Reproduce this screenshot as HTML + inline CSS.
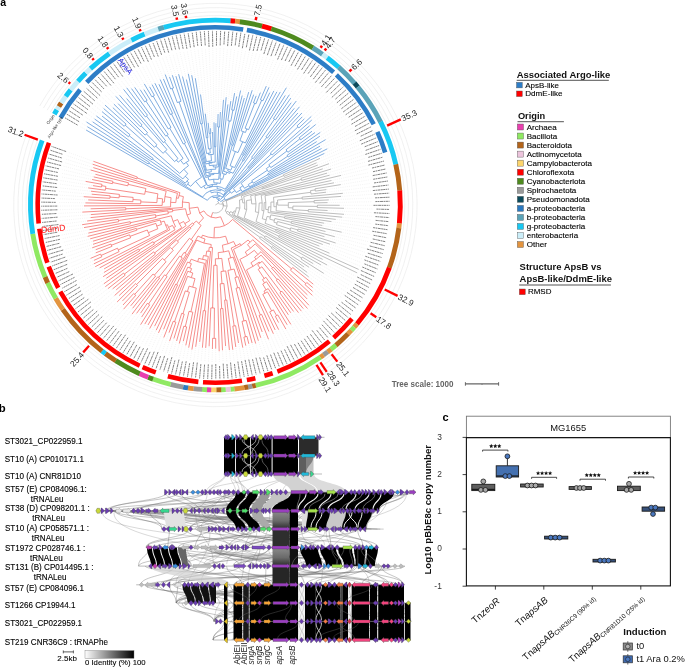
<!DOCTYPE html>
<html><head><meta charset="utf-8"><style>
html,body{margin:0;padding:0;background:#fff;width:685px;height:668px;overflow:hidden}
svg{display:block;will-change:transform}
text{font-family:"Liberation Sans",sans-serif}
</style></head><body>
<svg width="685" height="668" viewBox="0 0 685 668">
<path d="M85.2,129.5L79.6,126.3M86.5,126.2L81.4,123.1M85.7,121.5L83.4,120.0M91.8,121.3L85.4,116.9M93.8,118.4L87.5,113.9M95.6,115.4L89.7,111.0M101.2,115.4L91.9,108.0M101.2,110.9L94.2,105.2M102.9,107.8L96.6,102.4M104.3,104.4L99.0,99.6M112.1,107.0L101.5,96.9M113.2,103.4L104.1,94.3M117.4,102.9L106.7,91.7M115.3,95.7L109.4,89.2M118.9,94.6L112.1,86.8M126.0,97.7L114.9,84.4M122.9,88.6L117.7,82.1M126.1,87.0L120.6,79.8M130.9,87.8L123.6,77.6M134.1,86.6L126.6,75.5M139.7,88.9L129.6,73.5M143.4,88.7L132.7,71.5M143.8,83.1L135.9,69.6M149.2,86.0L139.1,67.8M151.6,83.8L142.3,66.1M154.5,82.3L145.6,64.4M158.5,83.3L148.9,62.8M159.8,78.6L152.2,61.3M163.1,78.0L155.6,59.8M164.8,73.6L159.0,58.5M169.2,76.0L162.4,57.2M172.0,74.3L165.9,56.0M175.6,75.1L169.4,54.9M178.4,73.2L172.9,53.9M182.3,75.6L176.5,52.9M186.2,78.5L180.0,52.0M188.1,72.8L183.6,51.3M191.5,74.2L187.2,50.5M195.2,77.2L190.8,49.9M200.4,93.5L194.5,49.4M205.2,112.7L198.1,49.0M208.1,121.8L201.8,48.6M210.5,127.3L205.4,48.3M212.4,131.0L209.1,48.1M214.0,121.3L212.8,48.0M215.9,122.2L216.4,48.0M218.2,113.0L220.1,48.1M220.4,111.0L223.8,48.2M223.6,98.8L227.4,48.5M226.3,96.2L231.1,48.8M228.0,103.4L234.7,49.2M230.9,100.1L238.4,49.7M234.8,92.1L242.0,50.3M236.9,95.4L245.6,50.9M240.9,89.5L249.2,51.7M242.5,94.5L252.8,52.5M244.6,97.0L256.3,53.4M249.0,91.1L259.9,54.4M252.5,89.2L263.4,55.5M254.0,93.7L266.8,56.7M256.5,94.8L270.3,57.9M260.7,91.7L273.7,59.2M266.6,85.1L277.1,60.6M269.4,86.4L280.5,62.1M270.3,91.7L283.8,63.7M274.4,90.0L287.1,65.3M277.3,91.0L290.3,67.0M280.8,91.1L293.5,68.8M286.9,86.8L296.7,70.7M285.8,94.5L299.8,72.6M290.0,93.8L302.9,74.6M291.4,97.3L305.9,76.7M291.8,101.9L308.9,78.9M296.9,100.2L311.8,81.1M295.0,107.5L314.7,83.4M300.1,106.0L317.5,85.7M298.6,112.3L320.2,88.1M302.6,112.3L323.0,90.6M303.0,116.1L325.6,93.2M305.1,118.1L328.2,95.8M312.0,115.7L330.7,98.4M312.5,119.4L333.2,101.2M310.3,125.1L335.6,103.9M316.5,123.9L337.9,106.8M312.8,130.6L340.1,109.7M315.8,131.9L342.3,112.6M321.1,131.8L344.5,115.6M320.8,135.6L346.5,118.7M317.6,141.1L348.5,121.7M326.5,139.1L350.4,124.9M321.0,145.6L352.3,128.1M322.5,148.0L354.0,131.3M328.2,148.3L355.7,134.5M325.3,153.0L357.3,137.8M320.9,158.0L358.8,141.2M317.5,162.4L360.3,144.5M318.8,164.7L361.7,147.9M329.9,163.4L363.0,151.4M323.8,168.5L364.2,154.8M332.1,168.7L365.3,158.3M328.1,172.8L366.4,161.8M330.5,175.0L367.3,165.4M342.0,175.1L368.2,168.9M332.5,180.3L369.0,172.5M335.0,182.6L369.7,176.1M341.8,184.4L370.4,179.7M327.3,189.4L370.9,183.4M327.1,192.1L371.4,187.0M343.8,193.2L371.7,190.7M342.1,196.4L372.0,194.3M329.8,199.9L372.2,198.0M328.5,202.6L372.4,201.7M340.7,205.3L372.4,205.3M345.0,208.3L372.3,209.0M328.6,210.5L372.2,212.7M345.0,214.4L372.0,216.3M343.2,217.3L371.7,220.0M336.8,219.5L371.3,223.6M332.5,221.8L370.8,227.3M325.2,223.4L370.2,230.9M323.3,225.7L369.6,234.5M342.7,232.5L368.9,238.1M326.5,231.7L368.1,241.7M335.7,236.9L367.2,245.2M325.5,237.0L366.2,248.8M336.6,243.3L365.1,252.3M331.0,244.5L364.0,255.8M323.7,244.9L362.7,259.2M320.4,246.5L361.4,262.7M330.4,253.6L360.0,266.1M359.5,269.8L358.6,269.4M357.9,273.2L357.0,272.8M323.6,259.9L355.4,276.1M327.9,265.5L353.7,279.3M321.9,265.5L351.9,282.5M314.2,264.2L350.1,285.7M324.6,274.0L348.2,288.8M309.9,267.8L346.2,291.9M305.0,267.6L344.1,294.9M308.0,273.0L342.0,297.9M309.5,277.5L339.7,300.8M314.1,284.8L337.5,303.7M313.5,288.2L335.1,306.6M313.3,292.1L332.7,309.3M313.1,296.0L330.3,312.0M308.1,295.6L327.7,314.7M307.9,299.7L325.1,317.3M309.6,306.1L322.5,319.8M308.2,309.3L319.8,322.3M303.9,309.3L317.0,324.7M302.0,312.0L314.2,327.0M299.1,313.5L311.3,329.3M294.2,312.3L308.3,331.5M291.4,313.6L305.4,333.7M289.0,315.6L302.3,335.7M291.4,325.3L299.3,337.7M287.7,325.6L296.1,339.7M286.4,329.9L293.0,341.5M279.1,323.5L289.7,343.3M279.2,330.6L286.5,345.0M275.7,330.9L283.2,346.6M273.8,334.7L279.9,348.2M269.3,332.5L276.5,349.6M268.8,340.2L273.1,351.0M262.6,333.0L269.7,352.3M261.1,338.7L266.2,353.5M258.7,341.8L262.7,354.7M256.0,344.5L259.2,355.8M252.3,344.1L255.7,356.7M249.0,344.8L252.1,357.6M246.0,346.6L248.6,358.5M243.0,348.7L245.0,359.2M238.7,344.0L241.3,359.8M235.9,348.0L237.7,360.4M232.9,350.8L234.1,360.9M229.5,351.1L230.4,361.3M225.7,347.1L226.8,361.6M222.6,351.3L223.1,361.8M219.2,352.3L219.4,361.9M215.7,349.7L215.8,362.0M212.4,350.0L212.1,362.0M209.1,347.3L208.4,361.8M205.6,348.9L204.8,361.6M202.3,348.7L201.1,361.3M199.5,342.9L197.5,361.0M195.6,347.8L193.8,360.5M191.7,350.6L190.2,360.0M188.6,348.7L186.6,359.3M185.6,346.4L183.0,358.6M183.1,342.1L179.4,357.8M179.1,344.5L175.8,356.9M176.3,341.9L172.3,356.0M173.6,339.5L168.8,354.9M169.2,342.0L165.3,353.8M168.7,333.6L161.8,352.6M163.4,338.4L158.4,351.3M163.2,330.2L155.0,349.9M158.1,333.9L151.6,348.5M155.8,331.1L148.3,346.9M154.1,327.1L145.0,345.3M149.2,329.5L141.7,343.6M147.5,325.9L138.5,341.9M144.3,325.0L135.3,340.0M140.0,325.6L132.2,338.1M141.1,318.0L129.1,336.1M140.0,313.9L126.0,334.1M136.0,314.2L123.1,332.0M131.4,315.0L120.1,329.8M132.0,309.1L117.2,327.5M130.0,306.6L114.4,325.2M122.9,309.9L111.6,322.8M122.3,305.8L108.9,320.3M121.6,301.9L106.2,317.8M116.3,302.7L103.6,315.2M118.3,296.3L101.1,312.6M113.9,296.2L98.6,309.9M115.5,290.6L96.2,307.1M111.8,289.6L93.8,304.3M107.1,289.3L91.5,301.4M104.4,287.3L89.3,298.5M103.0,284.3L87.1,295.5M105.5,278.8L85.1,292.5M102.3,277.2L83.0,289.4M103.1,273.0L81.1,286.3M103.2,269.4L79.2,283.2M98.7,268.4L77.5,280.0M94.3,267.2L75.7,276.7M92.9,264.3L74.1,273.4M93.0,260.8L72.5,270.1M89.6,258.8L71.1,266.8M94.8,253.3L69.7,263.4M94.8,250.1L68.3,259.9M91.2,248.1L67.1,256.5M92.1,244.6L65.9,253.0M91.9,241.5L64.8,249.5M89.3,239.1L63.8,246.0M86.6,236.6L62.9,242.4M87.3,233.3L62.1,238.8M88.6,229.9L61.3,235.2M83.0,227.8L60.7,231.6M81.2,224.9L60.1,228.0M86.1,221.1L59.6,224.4M89.6,217.7L59.2,220.7M89.8,214.7L58.9,217.1M81.3,212.2L58.6,213.4M89.6,208.8L58.5,209.7M83.0,205.9L58.4,206.1M84.4,202.8L58.4,202.4M87.2,199.9L58.5,198.7M82.7,196.6L58.7,195.1M90.7,194.2L59.0,191.4M89.9,191.1L59.3,187.8M87.2,187.8L59.8,184.1M92.0,185.5L60.3,180.5M84.6,181.2L60.9,176.9M91.1,179.3L61.6,173.3M92.8,176.7L62.4,169.7M94.4,174.1L63.3,166.1M89.7,169.7L64.2,162.6M92.4,167.3L65.3,159.0M91.6,163.9L66.4,155.5M92.5,161.0L67.6,152.1" stroke="#e6e6e6" stroke-width="0.5" stroke-dasharray="1 1.2" fill="none"/>
<path d="M283.3,174.8L320.0,158.4M284.0,176.4L316.6,162.8M283.3,174.8A74.3,74.3 0 0 1 284.0,176.4M222.5,201.9L283.7,175.6M226.3,200.7L317.9,165.0M262.1,188.0L329.0,163.7M262.4,189.1L322.8,168.8M262.1,188.0A49.7,49.7 0 0 1 262.4,189.1M241.3,195.9L262.3,188.6M301.0,178.3L331.1,169.0M301.6,180.4L327.1,173.1M301.0,178.3A89.7,89.7 0 0 1 301.6,180.4M243.7,196.6L301.3,179.4M250.6,195.8L329.6,175.2M255.0,195.7L341.1,175.4M261.2,195.3L331.5,180.5M265.0,195.7L334.0,182.8M315.0,188.8L340.8,184.6M315.3,191.1L326.4,189.6M315.0,188.8A100.9,100.9 0 0 1 315.3,191.1M310.5,190.6L315.2,189.9M311.0,194.0L326.1,192.2M310.5,190.6A96.2,96.2 0 0 1 311.0,194.0M273.5,197.3L310.8,192.3M302.1,197.1L342.9,193.3M302.2,199.1L341.1,196.4M302.1,197.1A87.0,87.0 0 0 1 302.2,199.1M277.5,200.0L302.1,198.1M314.1,200.6L328.8,199.9M314.2,202.9L327.6,202.6M314.1,200.6A98.8,98.8 0 0 1 314.2,202.9M288.3,202.6L314.1,201.7M317.4,205.2L339.7,205.3M317.3,207.6L344.0,208.3M317.4,205.2A102.0,102.0 0 0 1 317.3,207.6M292.9,206.1L317.3,206.4M308.4,209.5L327.6,210.5M308.2,211.7L344.0,214.3M308.4,209.5A93.1,93.1 0 0 1 308.2,211.7M292.8,209.7L308.3,210.6M292.9,206.1A77.6,77.6 0 0 1 292.8,209.7M288.3,207.7L292.9,207.9M288.3,202.6A72.9,72.9 0 0 1 288.3,207.7M277.7,205.1L288.3,205.2M277.5,200.0A62.3,62.3 0 0 1 277.7,205.1M276.4,202.6L277.6,202.6M276.1,210.8L342.2,217.2M276.4,202.6A61.0,61.0 0 0 1 276.1,210.8M273.9,206.7L276.4,206.7M273.5,197.3A58.6,58.6 0 0 1 273.9,206.7M270.9,202.1L273.9,202.0M270.6,211.6L335.8,219.4M270.9,202.1A55.6,55.6 0 0 1 270.6,211.6M268.5,206.8L270.9,206.9M268.0,212.5L331.5,221.6M268.5,206.8A53.1,53.1 0 0 1 268.0,212.5M265.7,209.4L268.3,209.7M265.0,195.7A50.4,50.4 0 0 1 265.7,209.4M264.2,202.6L265.8,202.6M284.7,216.6L324.2,223.2M284.4,218.2L322.3,225.5M284.7,216.6A70.2,70.2 0 0 1 284.4,218.2M270.8,214.9L284.5,217.4M291.5,221.4L341.7,232.2M291.1,223.2L325.5,231.5M291.5,221.4A77.8,77.8 0 0 1 291.1,223.2M274.8,218.5L291.3,222.3M277.5,221.5L334.8,236.7M298.0,229.0L324.5,236.7M297.5,230.9L335.7,243.0M298.0,229.0A86.1,86.1 0 0 1 297.5,230.9M290.7,227.8L297.8,230.0M289.9,230.5L330.0,244.2M290.7,227.8A78.7,78.7 0 0 1 289.9,230.5M276.5,224.7L290.3,229.1M277.5,221.5A64.2,64.2 0 0 1 276.5,224.7M273.9,222.2L277.0,223.1M274.8,218.5A60.9,60.9 0 0 1 273.9,222.2M269.8,219.2L274.4,220.4M270.8,214.9A56.2,56.2 0 0 1 269.8,219.2M267.1,216.4L270.3,217.1M265.1,223.3L322.8,244.5M267.1,216.4A53.0,53.0 0 0 1 265.1,223.3M262.3,218.7L266.3,219.9M264.2,202.6A48.9,48.9 0 0 1 262.3,218.7M261.9,210.5L263.9,210.8M261.2,195.3A46.8,46.8 0 0 1 261.9,210.5M259.2,203.0L262.2,202.9M276.3,229.1L319.4,246.1M275.7,230.5L329.5,253.2M276.3,229.1A65.5,65.5 0 0 1 275.7,230.5M256.0,221.6L276.0,229.8M259.2,203.0A43.8,43.8 0 0 1 256.0,221.6M255.4,211.9L258.6,212.5M255.0,195.7A40.6,40.6 0 0 1 255.4,211.9M251.7,203.9L256.0,203.8M250.6,195.8A36.3,36.3 0 0 1 251.7,203.9M246.6,200.5L251.4,199.8M244.2,218.0L358.6,269.4M246.6,200.5A31.6,31.6 0 0 1 244.2,218.0M244.6,209.1L246.7,209.4M243.7,196.6A29.5,29.5 0 0 1 244.6,209.1M242.8,202.9L244.8,202.8M241.3,195.9A27.5,27.5 0 0 1 242.8,202.9M239.5,200.0L242.3,199.4M279.3,235.6L357.0,272.8M278.6,237.1L322.7,259.4M279.3,235.6A70.9,70.9 0 0 1 278.6,237.1M237.5,215.9L279.0,236.3M239.5,200.0A24.6,24.6 0 0 1 237.5,215.9M236.4,207.7L239.8,208.1M234.0,215.0L327.1,265.0M236.4,207.7A21.1,21.1 0 0 1 234.0,215.0M234.0,210.9L235.5,211.4M232.3,214.6L321.1,265.0M234.0,210.9A19.5,19.5 0 0 1 232.3,214.6M230.5,211.6L233.2,212.8M302.2,257.0L313.3,263.7M301.0,259.0L323.8,273.4M302.2,257.0A101.2,101.2 0 0 1 301.0,259.0M265.6,235.9L301.6,258.0M264.5,237.6L309.1,267.3M265.6,235.9A58.9,58.9 0 0 1 264.5,237.6M229.3,213.9L265.0,236.7M230.5,211.6A16.5,16.5 0 0 1 229.3,213.9M227.2,211.3L230.0,212.8M260.7,236.7L304.2,267.1M272.1,246.6L307.2,272.4M271.1,247.9L308.7,276.9M272.1,246.6A70.3,70.3 0 0 1 271.1,247.9M259.6,238.3L271.6,247.3M260.7,236.7A55.3,55.3 0 0 1 259.6,238.3M226.2,212.9L260.2,237.5M227.2,211.3A13.4,13.4 0 0 1 226.2,212.9M225.3,211.2L226.7,212.1M226.3,200.7A11.7,11.7 0 0 1 225.3,211.2M223.1,205.7L227.1,206.1M222.5,201.9A7.8,7.8 0 0 1 223.1,205.7M220.3,204.2L223.1,203.8" stroke="#a8a8a8" stroke-width="0.75" fill="none"/>
<path d="M207.4,200.3L86.1,130.0M148.3,164.0L87.3,126.7M149.3,162.4L86.5,122.0M148.3,164.0A78.6,78.6 0 0 1 149.3,162.4M202.6,197.0L148.8,163.2M186.7,185.5L92.6,121.8M152.1,159.9L94.6,119.0M153.1,158.4L96.4,116.0M152.1,159.9A77.8,77.8 0 0 1 153.1,158.4M185.3,183.1L152.6,159.2M128.4,136.7L102.0,116.0M130.0,134.7L102.0,111.6M128.4,136.7A110.6,110.6 0 0 1 130.0,134.7M182.9,178.9L129.2,135.7M124.2,126.3L103.6,108.5M126.1,124.1L105.0,105.1M124.2,126.3A120.5,120.5 0 0 1 126.1,124.1M179.7,173.4L125.2,125.2M154.5,147.3L112.8,107.6M145.1,135.1L113.9,104.1M140.3,126.7L118.1,103.6M142.1,125.0L115.9,96.4M140.3,126.7A108.5,108.5 0 0 1 142.1,125.0M147.6,132.7L141.2,125.9M145.1,135.1A99.1,99.1 0 0 1 147.6,132.7M157.0,144.8L146.4,133.9M154.5,147.3A83.9,83.9 0 0 1 157.0,144.8M163.1,153.3L155.7,146.0M167.0,149.6L119.6,95.3M163.1,153.3A73.5,73.5 0 0 1 167.0,149.6M174.6,161.6L165.0,151.4M163.4,142.6L126.6,98.5M145.4,116.9L123.6,89.4M147.5,115.3L126.7,87.8M145.4,116.9A112.5,112.5 0 0 1 147.5,115.3M165.6,140.8L146.5,116.1M163.4,142.6A81.2,81.2 0 0 1 165.6,140.8M178.0,158.5L164.5,141.7M174.6,161.6A59.6,59.6 0 0 1 178.0,158.5M178.2,162.2L176.3,160.0M165.8,136.2L131.5,88.6M144.7,101.9L134.7,87.4M147.1,100.3L140.2,89.7M144.7,101.9A125.0,125.0 0 0 1 147.1,100.3M168.2,134.5L145.9,101.1M165.8,136.2A84.8,84.8 0 0 1 168.2,134.5M183.1,158.4L167.0,135.3M178.2,162.2A56.7,56.7 0 0 1 183.1,158.4M183.6,164.2L180.6,160.3M168.3,129.0L143.9,89.6M151.9,96.8L144.3,83.9M154.4,95.4L149.6,86.8M151.9,96.8A125.4,125.4 0 0 1 154.4,95.4M171.0,127.4L153.1,96.1M168.3,129.0A89.4,89.4 0 0 1 171.0,127.4M189.0,160.6L169.7,128.2M183.6,164.2A51.7,51.7 0 0 1 189.0,160.6M188.5,165.7L186.2,162.3M179.7,173.4A47.6,47.6 0 0 1 188.5,165.7M187.8,173.7L183.9,169.3M182.9,178.9A41.7,41.7 0 0 1 187.8,173.7M188.5,179.3L185.2,176.2M185.3,183.1A37.2,37.2 0 0 1 188.5,179.3M188.8,182.7L186.9,181.1M186.7,185.5A34.7,34.7 0 0 1 188.8,182.7M190.7,186.3L187.7,184.1M183.3,144.0L152.1,84.6M170.4,114.5L154.9,83.2M172.6,113.4L158.9,84.2M170.4,114.5A101.1,101.1 0 0 1 172.6,113.4M185.5,142.9L171.5,113.9M183.3,144.0A68.9,68.9 0 0 1 185.5,142.9M201.5,177.3L184.4,143.5M190.7,186.3A31.0,31.0 0 0 1 201.5,177.3M201.1,187.9L195.5,181.2M206.4,184.6L160.2,79.5M201.1,187.9A22.2,22.2 0 0 1 206.4,184.6M205.3,188.8L203.7,186.1M207.5,185.8L163.4,78.9M170.7,89.0L165.2,74.5M173.5,88.0L169.5,76.9M170.7,89.0A124.3,124.3 0 0 1 173.5,88.0M177.3,102.6L172.1,88.5M181.0,101.3L172.3,75.2M177.3,102.6A109.2,109.2 0 0 1 181.0,101.3M205.7,177.5L179.1,102.0M206.4,175.8L175.9,76.1M206.3,172.7L178.6,74.2M206.5,170.3L182.5,76.5M205.9,163.9L186.4,79.5M206.4,161.6L188.3,73.8M200.6,123.9L191.7,75.2M202.5,123.6L195.3,78.2M200.6,123.9A82.4,82.4 0 0 1 202.5,123.6M206.6,153.5L201.6,123.8M206.4,137.8L200.5,94.5M207.9,137.6L205.3,113.7M206.4,137.8A67.8,67.8 0 0 1 207.9,137.6M208.5,149.0L207.1,137.7M209.2,133.4L208.2,122.8M210.8,133.3L210.5,128.3M209.2,133.4A71.8,71.8 0 0 1 210.8,133.3M211.2,148.7L210.0,133.4M208.5,149.0A56.4,56.4 0 0 1 211.2,148.7M210.3,153.0L209.8,148.8M206.6,153.5A52.2,52.2 0 0 1 210.3,153.0M208.7,154.8L208.4,153.2M213.4,154.4L212.5,132.0M208.7,154.8A50.6,50.6 0 0 1 213.4,154.4M211.5,160.8L211.0,154.6M206.4,161.6A44.3,44.3 0 0 1 211.5,160.8M209.2,162.6L209.0,161.1M214.4,146.8L214.0,122.3M215.8,146.8L215.9,123.2M214.4,146.8A58.2,58.2 0 0 1 215.8,146.8M215.2,162.1L215.1,146.8M209.2,162.6A42.9,42.9 0 0 1 215.2,162.1M212.2,162.9L212.2,162.3M205.9,163.9A42.2,42.2 0 0 1 212.2,162.9M209.4,165.6L209.0,163.3M217.7,127.0L218.1,114.0M219.6,127.1L220.4,112.0M217.7,127.0A78.0,78.0 0 0 1 219.6,127.1M217.1,165.2L218.6,127.1M209.4,165.6A39.8,39.8 0 0 1 217.1,165.2M213.3,167.0L213.2,165.2M218.3,167.0L223.5,99.8M213.3,167.0A38.1,38.1 0 0 1 218.3,167.0M215.8,169.2L215.8,166.9M206.5,170.3A35.8,35.8 0 0 1 215.8,169.2M211.4,171.7L211.1,169.4M206.3,172.7A33.5,33.5 0 0 1 211.4,171.7M209.2,174.0L208.8,172.1M218.6,173.5L226.2,97.2M209.2,174.0A31.6,31.6 0 0 1 218.6,173.5M213.9,174.5L213.9,173.4M206.4,175.8A30.6,30.6 0 0 1 213.9,174.5M210.4,176.3L210.1,174.9M205.7,177.5A29.2,29.2 0 0 1 210.4,176.3M208.9,180.0L208.0,176.8M218.6,179.4L227.9,104.4M208.9,180.0A25.8,25.8 0 0 1 218.6,179.4M213.9,182.9L213.7,179.2M227.9,120.7L230.8,101.1M231.7,109.9L234.6,93.1M234.0,110.3L236.7,96.4M231.7,109.9A96.5,96.5 0 0 1 234.0,110.3M230.8,121.2L232.9,110.1M227.9,120.7A85.2,85.2 0 0 1 230.8,121.2M219.8,178.6L229.3,121.0M222.3,173.5L240.6,90.5M223.7,171.3L242.2,95.5M231.6,145.1L244.3,98.0M233.0,145.5L248.7,92.1M231.6,145.1A62.0,62.0 0 0 1 233.0,145.5M225.7,168.4L232.3,145.3M232.8,150.6L252.2,90.2M241.1,130.8L253.7,94.6M253.5,102.8L256.2,95.8M255.9,103.8L260.4,92.6M253.5,102.8A109.0,109.0 0 0 1 255.9,103.8M245.1,128.2L254.7,103.3M260.4,99.7L266.3,86.1M262.9,100.8L269.0,87.3M260.4,99.7A114.5,114.5 0 0 1 262.9,100.8M248.6,129.7L261.7,100.2M245.1,128.2A82.3,82.3 0 0 1 248.6,129.7M245.4,132.5L246.9,128.9M241.1,130.8A78.5,78.5 0 0 1 245.4,132.5M239.9,140.6L243.3,131.6M245.4,143.0L269.8,92.6M239.9,140.6A68.9,68.9 0 0 1 245.4,143.0M238.0,152.6L242.7,141.8M232.8,150.6A57.1,57.1 0 0 1 238.0,152.6M230.1,165.7L235.4,151.5M234.6,167.6L273.9,90.9M230.1,165.7A42.0,42.0 0 0 1 234.6,167.6M230.8,170.2L232.4,166.6M225.7,168.4A38.0,38.0 0 0 1 230.8,170.2M227.7,170.9L228.3,169.2M242.7,154.7L276.9,91.8M243.9,155.3L280.3,91.9M242.7,154.7A57.3,57.3 0 0 1 243.9,155.3M233.1,173.3L243.3,155.0M227.7,170.9A36.3,36.3 0 0 1 233.1,173.3M229.8,173.4L230.4,172.0M223.7,171.3A34.7,34.7 0 0 1 229.8,173.4M226.0,174.5L226.8,172.2M222.3,173.5A32.3,32.3 0 0 1 226.0,174.5M222.7,179.3L224.2,173.9M219.8,178.6A26.7,26.7 0 0 1 222.7,179.3M220.2,183.4L221.2,178.9M213.9,182.9A22.2,22.2 0 0 1 220.2,183.4M217.0,184.3L217.1,182.9M207.5,185.8A20.7,20.7 0 0 1 217.0,184.3M212.4,186.1L212.2,184.5M205.3,188.8A19.1,19.1 0 0 1 212.4,186.1M208.9,187.5L208.7,187.1M242.4,160.3L286.4,87.7M243.5,161.0L285.3,95.4M242.4,160.3A52.2,52.2 0 0 1 243.5,161.0M225.2,189.2L243.0,160.6M208.9,187.5A18.7,18.7 0 0 1 225.2,189.2M217.0,188.6L217.3,186.4M273.5,118.5L289.4,94.7M275.5,119.8L290.8,98.1M273.5,118.5A104.2,104.2 0 0 1 275.5,119.8M224.8,191.4L274.5,119.1M217.0,188.6A16.5,16.5 0 0 1 224.8,191.4M220.6,190.8L221.1,189.5M202.6,197.0A15.1,15.1 0 0 1 220.6,190.8M211.2,192.8L210.5,190.7M265.9,136.9L291.2,102.7M267.5,138.1L296.3,101.0M265.9,136.9A84.8,84.8 0 0 1 267.5,138.1M251.6,157.3L266.7,137.4M253.2,158.6L294.3,108.3M251.6,157.3A59.8,59.8 0 0 1 253.2,158.6M223.4,194.9L252.4,158.0M211.2,192.8A12.9,12.9 0 0 1 223.4,194.9M217.1,194.8L217.6,192.3M247.7,167.3L299.5,106.8M248.6,168.0L297.9,113.0M247.7,167.3A49.7,49.7 0 0 1 248.6,168.0M222.2,197.2L248.1,167.6M217.1,194.8A10.4,10.4 0 0 1 222.2,197.2M219.4,196.6L219.9,195.6M207.4,200.3A9.3,9.3 0 0 1 219.4,196.6M213.1,197.6L212.6,196.1M220.7,199.4L301.9,113.0M213.1,197.6A7.7,7.7 0 0 1 220.7,199.4M216.8,198.9L217.1,197.5M229.3,190.9L302.3,116.8M297.0,125.9L304.4,118.8M298.9,127.9L311.3,116.4M297.0,125.9A113.6,113.6 0 0 1 298.9,127.9M270.3,153.1L297.9,126.9M272.1,155.0L311.8,120.0M270.3,153.1A75.5,75.5 0 0 1 272.1,155.0M233.4,188.6L271.2,154.1M241.1,183.4L309.6,125.8M299.2,137.8L315.7,124.5M300.7,139.8L312.0,131.2M299.2,137.8A107.4,107.4 0 0 1 300.7,139.8M286.0,149.8L299.9,138.8M287.9,152.3L315.0,132.5M286.0,149.8A89.6,89.6 0 0 1 287.9,152.3M268.8,164.7L286.9,151.0M287.1,155.3L320.3,132.4M288.3,157.0L319.9,136.2M287.1,155.3A87.2,87.2 0 0 1 288.3,157.0M270.8,167.6L287.7,156.2M268.8,164.7A66.9,66.9 0 0 1 270.8,167.6M266.3,168.6L269.8,166.1M268.4,171.8L316.7,141.6M266.3,168.6A62.6,62.6 0 0 1 268.4,171.8M251.7,180.7L267.4,170.2M267.6,174.0L325.6,139.6M268.3,175.2L320.1,146.1M267.6,174.0A60.7,60.7 0 0 1 268.3,175.2M253.2,183.2L268.0,174.6M251.7,180.7A43.6,43.6 0 0 1 253.2,183.2M248.3,184.5L252.4,181.9M249.6,186.8L321.6,148.5M248.3,184.5A38.7,38.7 0 0 1 249.6,186.8M244.5,188.3L248.9,185.7M241.1,183.4A33.5,33.5 0 0 1 244.5,188.3M239.8,187.9L242.9,185.8M242.1,191.6L327.3,148.8M239.8,187.9A29.8,29.8 0 0 1 242.1,191.6M236.3,192.5L241.0,189.7M233.4,188.6A24.4,24.4 0 0 1 236.3,192.5M231.3,193.2L235.0,190.5M229.3,190.9A19.8,19.8 0 0 1 231.3,193.2M223.9,197.6L230.3,192.0M225.5,200.2L324.4,153.4M223.9,197.6A11.2,11.2 0 0 1 225.5,200.2M220.7,201.6L224.8,198.9M216.8,198.9A6.3,6.3 0 0 1 220.7,201.6M217.7,201.7L219.0,199.8" stroke="#5893d5" stroke-width="0.75" fill="none"/>
<path d="M292.7,267.5L313.3,284.2M306.8,282.5L312.7,287.5M305.0,284.6L312.6,291.4M306.8,282.5A119.8,119.8 0 0 1 305.0,284.6M290.4,270.2L305.9,283.6M292.7,267.5A99.4,99.4 0 0 1 290.4,270.2M232.6,219.4L291.6,268.8M252.7,239.7L312.4,295.4M255.2,243.9L307.4,294.9M261.0,251.7L307.2,299.0M273.2,267.0L309.0,305.3M271.7,268.3L307.5,308.5M273.2,267.0A84.8,84.8 0 0 1 271.7,268.3M261.1,255.1L272.5,267.7M278.0,278.8L303.3,308.6M276.2,280.2L301.4,311.2M278.0,278.8A96.7,96.7 0 0 1 276.2,280.2M262.1,261.3L277.1,279.5M281.9,291.2L298.5,312.7M279.9,292.8L293.6,311.5M281.9,291.2A108.9,108.9 0 0 1 279.9,292.8M261.9,266.8L280.9,292.0M265.9,277.3L290.8,312.8M266.4,281.7L288.4,314.8M268.2,288.6L290.9,324.4M267.4,291.8L287.2,324.8M277.8,314.9L285.9,329.1M275.3,316.3L278.6,322.6M277.8,314.9A126.4,126.4 0 0 1 275.3,316.3M273.4,309.9L276.6,315.6M269.7,311.9L278.7,329.7M273.4,309.9A119.9,119.9 0 0 1 269.7,311.9M262.8,294.4L271.6,310.9M267.4,291.8A101.2,101.2 0 0 1 262.8,294.4M264.0,291.1L265.1,293.2M268.2,288.6A98.9,98.9 0 0 1 264.0,291.1M262.7,284.1L266.1,289.9M266.4,281.7A92.1,92.1 0 0 1 262.7,284.1M262.5,279.6L264.5,282.9M265.9,277.3A88.2,88.2 0 0 1 262.5,279.6M258.2,269.4L264.2,278.5M261.9,266.8A77.3,77.3 0 0 1 258.2,269.4M257.7,264.7L260.0,268.1M262.1,261.3A73.2,73.2 0 0 1 257.7,264.7M259.2,262.1L259.9,263.1M246.5,269.9L275.2,330.0M259.2,262.1A71.9,71.9 0 0 1 246.5,269.9M250.9,262.8L253.0,266.3M261.1,255.1A67.8,67.8 0 0 1 250.9,262.8M254.6,257.2L256.1,259.2M261.0,251.7A65.3,65.3 0 0 1 254.6,257.2M254.3,250.3L257.9,254.5M239.9,259.4L273.4,333.8M254.3,250.3A59.7,59.7 0 0 1 239.9,259.4M245.3,252.0L247.4,255.4M255.2,243.9A55.7,55.7 0 0 1 245.3,252.0M247.5,244.6L250.5,248.2M252.7,239.7A51.0,51.0 0 0 1 247.5,244.6M248.1,240.0L250.2,242.2M261.6,314.4L268.9,331.5M259.1,315.5L268.5,339.3M261.6,314.4A118.8,118.8 0 0 1 259.1,315.5M233.5,249.3L260.4,315.0M248.1,240.0A47.9,47.9 0 0 1 233.5,249.3M240.1,243.6L241.2,245.3M231.2,248.0L262.2,332.0M240.1,243.6A45.8,45.8 0 0 1 231.2,248.0M233.6,241.5L235.8,246.0M233.2,257.1L260.8,337.8M238.1,276.7L258.4,340.8M239.3,287.4L255.7,343.6M246.1,320.4L252.1,343.1M247.0,336.4L248.8,343.8M243.9,337.1L245.8,345.7M247.0,336.4A135.2,135.2 0 0 1 243.9,337.1M242.0,321.4L245.5,336.8M246.1,320.4A119.4,119.4 0 0 1 242.0,321.4M236.0,288.3L244.0,321.0M239.3,287.4A85.8,85.8 0 0 1 236.0,288.3M234.9,277.7L237.7,287.8M238.1,276.7A75.2,75.2 0 0 1 234.9,277.7M234.1,269.0L236.5,277.2M227.9,270.4L242.8,347.7M234.1,269.0A66.6,66.6 0 0 1 227.9,270.4M228.3,258.5L231.0,269.8M233.2,257.1A55.1,55.1 0 0 1 228.3,258.5M228.7,250.8L230.8,257.9M235.6,325.7L238.5,343.0M232.8,326.1L235.8,347.0M235.6,325.7A122.4,122.4 0 0 1 232.8,326.1M225.7,270.9L234.2,325.9M226.8,300.0L232.8,349.8M224.6,300.2L229.4,350.1M226.8,300.0A95.6,95.6 0 0 1 224.6,300.2M223.9,283.5L225.7,300.1M222.9,308.5L225.6,346.1M220.5,308.7L222.5,350.3M222.9,308.5A103.8,103.8 0 0 1 220.5,308.7M220.2,283.8L221.7,308.6M223.9,283.5A78.9,78.9 0 0 1 220.2,283.8M221.0,271.5L222.0,283.7M225.7,270.9A66.7,66.7 0 0 1 221.0,271.5M221.8,258.4L223.3,271.2M217.0,265.3L219.2,351.3M215.7,338.4L215.7,348.7M212.6,338.3L212.4,349.0M215.7,338.4A133.4,133.4 0 0 1 212.6,338.3M214.4,308.0L214.2,338.3M210.8,307.9L209.1,346.3M214.4,308.0A103.0,103.0 0 0 1 210.8,307.9M213.8,265.3L212.6,308.0M217.0,265.3A60.3,60.3 0 0 1 213.8,265.3M215.4,258.8L215.4,265.3M221.8,258.4A53.8,53.8 0 0 1 215.4,258.8M218.2,252.6L218.6,258.7M228.7,250.8A47.7,47.7 0 0 1 218.2,252.6M222.4,245.2L223.5,252.0M233.6,241.5A40.8,40.8 0 0 1 222.4,245.2M225.6,236.2L228.1,243.8M212.5,247.6L205.7,347.9M205.7,310.8L202.4,347.7M203.3,310.6L199.7,341.9M205.7,310.8A106.3,106.3 0 0 1 203.3,310.6M210.6,251.5L204.5,310.7M208.3,256.4L195.7,346.8M206.4,260.1L191.9,349.6M204.5,263.4L188.7,347.7M192.8,312.2L185.8,345.4M186.7,326.9L183.3,341.2M183.8,326.2L179.3,343.5M186.7,326.9A125.2,125.2 0 0 1 183.8,326.2M189.0,311.3L185.3,326.5M192.8,312.2A109.6,109.6 0 0 1 189.0,311.3M196.3,288.1L190.9,311.8M184.2,314.1L176.6,341.0M181.7,313.3L173.9,338.5M184.2,314.1A113.4,113.4 0 0 1 181.7,313.3M189.4,292.2L183.0,313.7M175.9,322.2L169.6,341.1M173.2,321.3L169.0,332.7M175.9,322.2A123.7,123.7 0 0 1 173.2,321.3M185.3,290.9L174.5,321.8M189.4,292.2A91.0,91.0 0 0 1 185.3,290.9M189.1,286.1L187.4,291.6M196.3,288.1A85.2,85.2 0 0 1 189.1,286.1M195.0,278.7L192.7,287.1M187.6,276.3L163.8,337.5M195.0,278.7A76.5,76.5 0 0 1 187.6,276.3M192.8,273.0L191.3,277.6M187.8,271.2L163.6,329.3M192.8,273.0A71.7,71.7 0 0 1 187.8,271.2M191.6,268.6L190.3,272.1M187.8,267.1L158.5,332.9M191.6,268.6A67.9,67.9 0 0 1 187.8,267.1M191.4,263.7L189.7,267.9M177.6,284.9L156.2,330.2M175.8,284.0L154.6,326.2M177.6,284.9A88.4,88.4 0 0 1 175.8,284.0M187.6,262.0L176.7,284.4M191.4,263.7A63.4,63.4 0 0 1 187.6,262.0M191.2,259.2L189.5,262.9M204.5,263.4A59.4,59.4 0 0 1 191.2,259.2M198.7,258.3L197.7,261.7M206.4,260.1A55.9,55.9 0 0 1 198.7,258.3M203.5,255.5L202.6,259.4M208.3,256.4A51.9,51.9 0 0 1 203.5,255.5M206.8,251.0L205.9,256.0M210.6,251.5A46.8,46.8 0 0 1 206.8,251.0M209.3,247.3L208.7,251.3M212.5,247.6A42.7,42.7 0 0 1 209.3,247.3M211.2,244.5L210.9,247.5M196.7,240.1L149.7,328.6M211.2,244.5A39.7,39.7 0 0 1 196.7,240.1M205.0,239.0L203.8,243.0M198.0,236.0L148.0,325.0M205.0,239.0A35.6,35.6 0 0 1 198.0,236.0M202.5,235.2L201.4,237.7M225.6,236.2A32.8,32.8 0 0 1 202.5,235.2M214.4,227.4L214.0,237.8M232.6,219.4A22.5,22.5 0 0 1 214.4,227.4M220.6,216.8L224.4,225.6M186.4,253.9L144.8,324.1M182.3,257.9L140.6,324.7M149.7,304.9L141.6,317.1M147.3,303.3L140.6,313.1M149.7,304.9A119.6,119.6 0 0 1 147.3,303.3M167.1,276.5L148.5,304.1M164.6,274.8L136.6,313.4M167.1,276.5A86.3,86.3 0 0 1 164.6,274.8M179.6,256.1L165.9,275.7M182.3,257.9A62.4,62.4 0 0 1 179.6,256.1M184.0,252.4L181.0,257.0M186.4,253.9A56.8,56.8 0 0 1 184.0,252.4M193.0,240.8L185.2,253.1M159.6,278.0L132.0,314.2M157.9,276.7L132.6,308.3M159.6,278.0A91.9,91.9 0 0 1 157.9,276.7M189.4,238.3L158.8,277.4M193.0,240.8A42.2,42.2 0 0 1 189.4,238.3M201.1,225.4L191.1,239.6M155.6,276.1L130.7,305.8M135.8,295.3L123.6,309.2M133.7,293.5L123.0,305.0M135.8,295.3A120.4,120.4 0 0 1 133.7,293.5M153.1,274.0L134.7,294.4M155.6,276.1A92.9,92.9 0 0 1 153.1,274.0M166.1,261.7L154.4,275.1M137.5,285.5L122.3,301.1M135.7,283.6L117.1,302.0M137.5,285.5A112.0,112.0 0 0 1 135.7,283.6M162.5,258.4L136.6,284.5M166.1,261.7A75.1,75.1 0 0 1 162.5,258.4M173.3,250.3L164.3,260.0M170.3,247.4L119.1,295.6M173.3,250.3A61.9,61.9 0 0 1 170.3,247.4M178.5,242.1L171.8,248.9M176.5,239.9L114.6,295.5M178.5,242.1A52.3,52.3 0 0 1 176.5,239.9M190.9,228.3L177.5,241.0M189.7,227.0L116.2,289.9M190.9,228.3A33.9,33.9 0 0 1 189.7,227.0M193.9,224.4L190.3,227.7M155.4,254.0L112.6,288.9M125.2,275.2L107.9,288.7M123.6,273.1L105.3,286.7M125.2,275.2A114.3,114.3 0 0 1 123.6,273.1M153.8,251.8L124.4,274.1M155.4,254.0A77.4,77.4 0 0 1 153.8,251.8M192.7,222.9L154.6,252.9M193.9,224.4A29.0,29.0 0 0 1 192.7,222.9M196.4,221.0L193.3,223.7M201.1,225.4A24.9,24.9 0 0 1 196.4,221.0M203.5,218.0L198.6,223.4M186.1,225.6L103.8,283.8M181.7,227.6L106.3,278.3M154.4,243.9L103.1,276.7M139.6,250.9L103.9,272.5M138.6,249.1L104.1,268.9M139.6,250.9A88.6,88.6 0 0 1 138.6,249.1M153.1,241.7L139.1,250.0M154.4,243.9A72.3,72.3 0 0 1 153.1,241.7M175.0,229.8L153.7,242.8M169.8,229.8L99.6,267.9M167.6,229.5L95.2,266.7M119.1,251.6L93.8,263.9M101.8,256.8L93.9,260.4M100.6,254.1L90.5,258.4M101.8,256.8A124.8,124.8 0 0 1 100.6,254.1M117.5,248.2L101.2,255.4M119.1,251.6A107.0,107.0 0 0 1 117.5,248.2M149.6,235.5L118.3,249.9M111.9,246.4L95.7,252.9M111.0,244.0L95.7,249.7M111.9,246.4A111.5,111.5 0 0 1 111.0,244.0M130.6,237.8L111.5,245.2M129.5,234.8L92.2,247.8M130.6,237.8A90.9,90.9 0 0 1 129.5,234.8M147.3,230.0L130.1,236.3M149.6,235.5A72.5,72.5 0 0 1 147.3,230.0M157.8,228.8L148.4,232.7M136.9,230.2L93.0,244.3M136.3,228.4L92.9,241.2M136.9,230.2A82.5,82.5 0 0 1 136.3,228.4M155.9,223.4L136.6,229.3M157.8,228.8A62.3,62.3 0 0 1 155.9,223.4M161.5,224.4L156.8,226.1M160.1,220.0L90.2,238.8M161.5,224.4A57.3,57.3 0 0 1 160.1,220.0M164.2,221.1L160.7,222.2M167.6,229.5A53.7,53.7 0 0 1 164.2,221.1M167.4,224.7L165.7,225.4M169.8,229.8A51.9,51.9 0 0 1 167.4,224.7M172.5,225.4L168.6,227.3M175.0,229.8A47.4,47.4 0 0 1 172.5,225.4M175.5,226.6L173.7,227.6M171.3,215.8L87.6,236.4M175.5,226.6A45.4,45.4 0 0 1 171.3,215.8M177.6,219.6L173.1,221.4M181.7,227.6A40.6,40.6 0 0 1 177.6,219.6M183.6,221.5L179.4,223.7M186.1,225.6A35.8,35.8 0 0 1 183.6,221.5M189.7,220.7L184.8,223.6M130.6,223.7L88.3,233.1M130.2,221.7L89.5,229.7M130.6,223.7A86.8,86.8 0 0 1 130.2,221.7M156.0,217.4L130.4,222.7M118.7,221.7L84.0,227.6M118.3,219.4L82.1,224.7M118.7,221.7A98.1,98.1 0 0 1 118.3,219.4M155.5,214.6L118.5,220.5M156.0,217.4A60.7,60.7 0 0 1 155.5,214.6M168.3,213.7L155.7,216.0M167.8,210.9L87.1,221.0M168.3,213.7A47.9,47.9 0 0 1 167.8,210.9M172.7,211.6L168.0,212.3M172.5,209.3L90.6,217.6M172.7,211.6A43.2,43.2 0 0 1 172.5,209.3M185.5,208.8L172.6,210.5M189.7,220.7A30.1,30.1 0 0 1 185.5,208.8M190.6,213.7L187.0,215.0M182.4,207.5L90.8,214.6M125.8,209.8L82.3,212.1M125.7,207.7L90.6,208.8M125.8,209.8A89.7,89.7 0 0 1 125.7,207.7M170.6,206.9L125.8,208.8M162.2,205.4L84.0,205.9M140.7,203.8L85.4,202.9M132.9,201.7L88.2,199.9M109.9,198.3L83.7,196.7M110.1,195.8L91.7,194.2M109.9,198.3A105.7,105.7 0 0 1 110.1,195.8M119.1,197.8L110.0,197.1M119.4,194.4L90.9,191.2M119.1,197.8A96.6,96.6 0 0 1 119.4,194.4M133.1,197.4L119.2,196.1M132.9,201.7A82.6,82.6 0 0 1 133.1,197.4M140.9,200.1L133.0,199.5M140.7,203.8A74.7,74.7 0 0 1 140.9,200.1M156.9,202.6L140.8,201.9M105.3,190.2L88.2,187.9M101.5,187.0L92.9,185.6M102.0,184.3L85.6,181.4M101.5,187.0A115.3,115.3 0 0 1 102.0,184.3M105.9,186.4L101.7,185.7M105.3,190.2A111.1,111.1 0 0 1 105.9,186.4M144.7,194.3L105.6,188.3M112.4,183.7L92.1,179.5M112.9,181.3L93.7,176.9M112.4,183.7A105.2,105.2 0 0 1 112.9,181.3M127.8,185.8L112.6,182.5M128.5,182.8L95.4,174.3M127.8,185.8A89.7,89.7 0 0 1 128.5,182.8M145.9,188.5L128.1,184.3M144.7,194.3A71.5,71.5 0 0 1 145.9,188.5M157.9,193.8L145.2,191.4M156.9,202.6A58.6,58.6 0 0 1 157.9,193.8M162.6,198.8L157.2,198.2M162.2,205.4A53.2,53.2 0 0 1 162.6,198.8M164.3,202.2L162.3,202.1M166.2,191.2L90.6,170.0M164.3,202.2A51.1,51.1 0 0 1 166.2,191.2M171.1,197.7L165.0,196.6M170.6,206.9A44.9,44.9 0 0 1 171.1,197.7M175.8,202.6L170.6,202.3M177.5,193.4L93.3,167.6M175.8,202.6A39.6,39.6 0 0 1 177.5,193.4M178.4,198.3L176.4,197.9M136.7,178.9L92.6,164.2M137.3,177.0L93.4,161.3M136.7,178.9A83.0,83.0 0 0 1 137.3,177.0M179.9,192.7L137.0,177.9M178.4,198.3A37.6,37.6 0 0 1 179.9,192.7M183.4,196.6L179.0,195.5M182.4,207.5A33.1,33.1 0 0 1 183.4,196.6M189.2,202.7L182.5,202.0M190.6,213.7A26.3,26.3 0 0 1 189.2,202.7M197.9,207.2L189.3,208.3M203.5,218.0A17.7,17.7 0 0 1 197.9,207.2M203.9,210.9L199.7,213.1M220.6,216.8A12.9,12.9 0 0 1 203.9,210.9M212.7,212.5L211.1,217.2" stroke="#f36a66" stroke-width="0.75" fill="none"/>
<path d="M217.69,201.72A4,4 0 0 1 219.35,204.38" stroke="#999" stroke-width="0.6" fill="none"/>
<line x1="215.40" y1="205.00" x2="218.79" y2="202.88" stroke="#999" stroke-width="0.6"/>
<path d="M223.30,203.75A8,8 0 0 1 212.73,212.54" stroke="#999" stroke-width="0.6" fill="none"/>
<path d="M77.57,125.10L64.69,117.64M79.12,121.68L66.77,114.14M80.01,117.82L68.94,110.69M82.75,115.12L71.18,107.29M86.80,113.41L73.51,103.95M88.06,109.75L75.91,100.66M90.04,106.57L78.38,97.42M92.98,104.17L80.94,94.25M94.76,100.81L83.56,91.14M97.37,98.14L86.26,88.09M100.11,95.61L89.03,85.10M101.62,91.88L91.87,82.18M104.02,88.96L94.77,79.33M106.66,86.27L97.74,76.54M111.01,85.53L100.78,73.82M113.94,83.26L103.87,71.18M115.42,79.16L107.03,68.61M118.61,77.15L110.25,66.11M122.85,76.62L113.53,63.69M124.45,72.42L116.86,61.35M129.25,72.90L120.24,59.09M132.07,70.45L123.68,56.90M134.55,67.37L127.17,54.80M138.48,66.75L130.70,52.78M140.96,63.53L134.28,50.84M144.09,61.43L137.91,48.99M148.39,61.78L141.58,47.22M151.46,59.58L145.28,45.53M154.39,56.94L149.03,43.94M158.25,56.55L152.81,42.43M161.59,54.86L156.63,41.01M164.79,52.64L160.48,39.68M168.70,52.59L164.36,38.44M171.91,50.24L168.27,37.30M175.61,49.54L172.20,36.24M179.41,49.34L176.16,35.28M183.11,48.78L180.14,34.41M186.90,48.81L184.13,33.63M190.46,47.57L188.15,32.94M194.17,47.14L192.18,32.35M197.77,45.87L196.22,31.86M201.54,45.98L200.27,31.46M205.24,45.44L204.33,31.15M209.05,47.01L208.40,30.94M212.74,46.74L212.47,30.82M216.45,45.68L216.54,30.80M220.18,45.44L220.61,30.88M223.96,44.51L224.68,31.05M227.61,46.08L228.75,31.31M231.38,45.84L232.80,31.67M235.21,45.38L236.85,32.13M238.79,46.82L240.89,32.67M242.34,48.24L244.91,33.32M246.32,47.29L248.91,34.05M249.46,50.48L252.90,34.88M253.15,50.97L256.87,35.81M256.98,51.00L260.81,36.82M261.04,50.44L264.73,37.93M263.83,54.05L268.62,39.13M267.37,55.16L272.48,40.42M270.96,56.14L276.31,41.80M275.20,55.55L280.11,43.27M277.59,59.52L283.88,44.82M281.40,60.08L287.60,46.47M285.09,61.01L291.29,48.20M288.80,61.96L294.93,50.02M291.04,65.72L298.53,51.92M294.97,66.31L302.09,53.90M297.45,69.44L305.60,55.97M301.58,69.85L309.06,58.12M303.66,73.47L312.46,60.35M308.08,73.62L315.82,62.66M310.35,76.87L319.12,65.04M313.33,79.12L322.36,67.51M315.27,82.64L325.55,70.04M319.57,83.29L328.67,72.66M321.41,86.85L331.73,75.34M325.30,88.13L334.73,78.09M326.27,92.49L337.67,80.92M330.69,93.35L340.53,83.81M331.81,97.42L343.33,86.77M335.39,99.20L346.06,89.79M336.86,102.85L348.72,92.88M339.74,105.30L351.30,96.02M341.42,108.70L353.81,99.23M343.17,112.01L356.25,102.50M345.61,114.82L358.61,105.82M348.63,117.26L360.89,109.19M351.30,119.99L363.09,112.62M351.46,124.25L365.21,116.10M354.97,126.52L367.24,119.62M354.89,130.80L369.20,123.19M356.63,134.06L371.07,126.81M360.72,136.21L372.85,130.47M359.77,140.75L374.55,134.17M361.22,144.15L376.16,137.91M364.69,146.76L377.69,141.69M365.66,150.39L379.12,145.50M365.34,154.44L380.47,149.34M368.31,157.39L381.73,153.22M367.97,161.38L382.89,157.12M368.38,165.11L383.96,161.05M372.05,168.04L384.95,165.00M372.99,171.69L385.83,168.97M372.74,175.57L386.63,172.97M373.21,179.28L387.33,176.98M374.03,182.94L387.94,181.01M372.70,186.86L388.45,185.05M372.84,190.57L388.87,189.10M373.98,194.19L389.20,193.16M375.10,197.86L389.43,197.22M375.37,201.59L389.56,201.29M373.46,205.33L389.60,205.36M376.44,209.10L389.54,209.44M373.94,212.75L389.39,213.51M375.42,216.58L389.15,217.57M375.60,220.36L388.80,221.63M375.29,224.12L388.37,225.68M373.09,227.60L387.84,229.72M372.28,231.24L387.21,233.74M373.51,235.26L386.49,237.75M372.74,238.95L385.68,241.74M370.56,242.29L384.78,245.71M369.69,245.92L383.78,249.66M366.96,249.01L382.69,253.58M367.83,253.16L381.51,257.48M365.27,256.23L380.24,261.35M364.43,259.87L378.87,265.18M364.44,263.86L377.42,268.99M362.31,267.03L375.88,272.76M360.89,270.48L374.25,276.49M360.75,274.54L372.54,280.19M357.26,277.00L370.74,283.84M356.57,280.85L368.85,287.45M354.79,284.15L366.88,291.01M353.02,287.45L364.83,294.53M350.17,290.09L362.70,298.00M346.96,292.43L360.48,301.42M344.72,295.37L358.19,304.78M345.33,300.39L355.82,308.09M341.56,302.24L353.37,311.35M338.43,304.50L350.85,314.54M336.29,307.54L348.25,317.68M335.66,311.93L345.58,320.75M331.22,312.94L342.84,323.77M328.51,315.47L340.03,326.71M326.37,318.56L337.15,329.59M323.43,320.86L334.20,332.40M321.94,324.74L331.19,335.15M319.47,327.63L328.12,337.82M316.76,330.26L324.98,340.42M312.12,330.41L321.79,342.94M310.41,334.33L318.53,345.39M306.98,335.97L315.22,347.76M304.36,338.78L311.86,350.06M301.14,340.71L308.44,352.27M298.00,342.77L304.97,354.41M294.46,344.14L301.46,356.46M290.59,344.86L297.89,358.43M287.12,346.21L294.28,360.32M284.57,349.47L290.63,362.12M281.00,350.66L286.94,363.83M277.64,352.30L283.20,365.46M273.80,352.74L279.44,367.00M270.53,354.62L275.63,368.46M266.85,355.38L271.79,369.82M263.62,357.49L267.93,371.09M259.71,357.42L264.03,372.28M255.94,357.70L260.10,373.37M252.51,359.22L256.16,374.37M248.79,359.56L252.19,375.27M245.10,359.92L248.20,376.08M241.57,361.16L244.19,376.80M237.88,361.49L240.16,377.43M234.45,363.98L236.13,377.96M230.55,362.50L232.08,378.40M226.95,363.99L228.02,378.74M223.20,363.63L223.96,378.99M219.55,366.01L219.89,379.14M215.78,364.02L215.81,379.20M212.04,364.72L211.74,379.16M208.32,364.36L207.67,379.03M204.57,364.63L203.61,378.80M200.86,364.15L199.55,378.48M197.28,362.57L195.49,378.06M193.58,362.26L191.45,377.55M189.66,363.23L187.43,376.94M186.21,361.28L183.42,376.24M182.37,361.47L179.42,375.44M178.98,359.58L175.45,374.56M174.93,360.37L171.50,373.58M171.96,357.12L167.57,372.50M167.74,358.24L163.66,371.34M164.57,355.90L159.79,370.09M160.54,356.10L155.95,368.74M158.11,351.99L152.13,367.31M154.22,351.71L148.36,365.78M150.08,351.89L144.62,364.17M147.58,348.38L140.92,362.47M143.51,348.23L137.26,360.69M140.00,346.84L133.64,358.82M136.78,344.92L130.06,356.87M134.28,341.78L126.54,354.83M130.49,340.82L123.06,352.71M128.03,337.75L119.63,350.51M125.59,334.74L116.26,348.23M121.55,334.03L112.94,345.88M119.03,331.18L109.67,343.44M116.32,328.63L106.46,340.93M113.77,325.91L103.31,338.35M109.44,325.24L100.23,335.69M106.67,322.72L97.20,332.97M103.90,320.19L94.25,330.17M102.27,316.54L91.35,327.30M98.98,314.53L88.53,324.37M97.21,311.10L85.77,321.37M93.33,309.54L83.09,318.31M90.97,306.61L80.47,315.19M90.95,301.87L77.94,312.00M88.36,299.20L75.47,308.76M84.26,297.57L73.08,305.46M82.60,294.16L70.78,302.11M81.09,290.69L68.55,298.70M79.91,287.05L66.39,295.24M76.83,284.55L64.33,291.73M76.54,280.46L62.34,288.18M74.59,277.31L60.44,284.58M73.01,273.96L58.62,280.93M69.26,271.61L56.89,277.25M67.41,268.31L55.24,273.52M67.18,264.35L53.68,269.76M67.24,260.35L52.21,265.96M65.26,257.12L50.83,262.13M62.67,254.05L49.54,258.27M63.23,249.97L48.34,254.37M61.16,246.69L47.24,250.46M59.33,243.30L46.22,246.51M59.96,239.31L45.29,242.55M59.54,235.60L44.46,238.56M57.28,232.22L43.73,234.56M56.92,228.48L43.08,230.53M58.44,224.52L42.53,226.50M56.55,220.99L42.08,222.45M57.59,217.17L41.72,218.40M56.38,213.53L41.45,214.33M57.41,209.78L41.28,210.26M57.29,206.08L41.20,206.19M55.74,202.36L41.22,202.12M54.86,198.59L41.34,198.05M57.61,195.00L41.55,193.98M55.75,191.13L41.85,189.92M57.15,187.51L42.25,185.87M56.58,183.68L42.75,181.83M57.56,180.05L43.34,177.80M57.92,176.31L44.02,173.78M57.81,172.47L44.80,169.78M59.02,168.89L45.67,165.81M61.09,165.55L46.63,161.85M62.08,161.96L47.68,157.92M61.77,157.97L48.83,154.01M62.43,154.23L50.07,150.13M66.14,151.56L51.40,146.28" stroke="#7c7c7c" stroke-width="0.95" stroke-dasharray="2.2 0.5 1.4 0.6 3 0.5 1.8 0.4" fill="none"/>
<path d="M50.39,112.02A189.4,189.4 0 1 1 37.88,138.98" stroke="#e2e2e2" stroke-width="0.5" fill="none"/>
<path d="M47.17,110.21A193.1,193.1 0 1 1 34.41,137.69" stroke="#e2e2e2" stroke-width="0.5" fill="none"/>
<path d="M43.42,108.10A197.4,197.4 0 1 1 30.38,136.19" stroke="#e2e2e2" stroke-width="0.5" fill="none"/>
<path d="M39.68,105.98A201.7,201.7 0 1 1 26.35,134.69" stroke="#e2e2e2" stroke-width="0.5" fill="none"/>
<path d="M54.31,114.23A184.9,184.9 0 0 1 56.99,109.63" stroke="#18c8f2" stroke-width="4.9" fill="none"/>
<path d="M56.91,109.77A184.9,184.9 0 0 1 59.02,106.33" stroke="#cbeef9" stroke-width="4.9" fill="none"/>
<path d="M58.94,106.47A184.9,184.9 0 0 1 61.30,102.81" stroke="#b3641a" stroke-width="4.9" fill="none"/>
<path d="M61.21,102.95A184.9,184.9 0 0 1 65.91,96.19" stroke="#cbeef9" stroke-width="4.9" fill="none"/>
<path d="M65.81,96.32A184.9,184.9 0 0 1 70.80,89.77" stroke="#18c8f2" stroke-width="4.9" fill="none"/>
<path d="M70.70,89.90A184.9,184.9 0 0 1 78.10,81.16" stroke="#cbeef9" stroke-width="4.9" fill="none"/>
<path d="M77.99,81.28A184.9,184.9 0 0 1 85.92,73.01" stroke="#18c8f2" stroke-width="4.9" fill="none"/>
<path d="M85.80,73.12A184.9,184.9 0 0 1 90.60,68.57" stroke="#cbeef9" stroke-width="4.9" fill="none"/>
<path d="M90.48,68.68A184.9,184.9 0 0 1 109.48,53.45" stroke="#18c8f2" stroke-width="4.9" fill="none"/>
<path d="M109.35,53.54A184.9,184.9 0 0 1 131.60,40.18" stroke="#cbeef9" stroke-width="4.9" fill="none"/>
<path d="M131.46,40.25A184.9,184.9 0 0 1 144.79,34.11" stroke="#18c8f2" stroke-width="4.9" fill="none"/>
<path d="M144.64,34.17A184.9,184.9 0 0 1 158.42,29.10" stroke="#cbeef9" stroke-width="4.9" fill="none"/>
<path d="M158.26,29.15A184.9,184.9 0 0 1 163.97,27.40" stroke="#5aa3b8" stroke-width="4.9" fill="none"/>
<path d="M163.81,27.44A184.9,184.9 0 0 1 230.71,20.74" stroke="#18c8f2" stroke-width="4.9" fill="none"/>
<path d="M230.55,20.72A184.9,184.9 0 0 1 235.21,21.16" stroke="#ff0000" stroke-width="4.9" fill="none"/>
<path d="M235.05,21.15A184.9,184.9 0 0 1 240.01,21.75" stroke="#e3943f" stroke-width="4.9" fill="none"/>
<path d="M239.85,21.72A184.9,184.9 0 0 1 262.16,26.11" stroke="#4e8a1e" stroke-width="4.9" fill="none"/>
<path d="M262.01,26.07A184.9,184.9 0 0 1 271.46,28.80" stroke="#ff0000" stroke-width="4.9" fill="none"/>
<path d="M271.31,28.76A184.9,184.9 0 0 1 312.97,47.94" stroke="#4e8a1e" stroke-width="4.9" fill="none"/>
<path d="M312.83,47.85A184.9,184.9 0 0 1 322.64,54.38" stroke="#5aa3b8" stroke-width="4.9" fill="none"/>
<path d="M322.51,54.28A184.9,184.9 0 0 1 327.32,57.82" stroke="#cbeef9" stroke-width="4.9" fill="none"/>
<path d="M327.19,57.72A184.9,184.9 0 0 1 338.76,67.27" stroke="#18c8f2" stroke-width="4.9" fill="none"/>
<path d="M338.64,67.16A184.9,184.9 0 0 1 354.63,83.33" stroke="#5aa3b8" stroke-width="4.9" fill="none"/>
<path d="M354.52,83.21A184.9,184.9 0 0 1 357.76,87.02" stroke="#0c4b5c" stroke-width="4.9" fill="none"/>
<path d="M357.66,86.89A184.9,184.9 0 0 1 380.66,122.07" stroke="#5aa3b8" stroke-width="4.9" fill="none"/>
<path d="M380.58,121.92A184.9,184.9 0 0 1 395.81,164.51" stroke="#18c8f2" stroke-width="4.9" fill="none"/>
<path d="M395.78,164.35A184.9,184.9 0 0 1 399.74,190.65" stroke="#b3641a" stroke-width="4.9" fill="none"/>
<path d="M399.73,190.49A184.9,184.9 0 0 1 399.37,223.52" stroke="#ff0000" stroke-width="4.9" fill="none"/>
<path d="M399.39,223.36A184.9,184.9 0 0 1 398.82,228.33" stroke="#e3943f" stroke-width="4.9" fill="none"/>
<path d="M398.84,228.17A184.9,184.9 0 0 1 389.31,267.78" stroke="#b3641a" stroke-width="4.9" fill="none"/>
<path d="M389.37,267.63A184.9,184.9 0 0 1 356.94,323.97" stroke="#ff0000" stroke-width="4.9" fill="none"/>
<path d="M357.04,323.85A184.9,184.9 0 0 1 354.20,327.16" stroke="#e3943f" stroke-width="4.9" fill="none"/>
<path d="M354.31,327.03A184.9,184.9 0 0 1 351.18,330.51" stroke="#8fe962" stroke-width="4.9" fill="none"/>
<path d="M351.29,330.39A184.9,184.9 0 0 1 347.84,334.02" stroke="#e3943f" stroke-width="4.9" fill="none"/>
<path d="M347.96,333.91A184.9,184.9 0 0 1 335.85,345.28" stroke="#b3641a" stroke-width="4.9" fill="none"/>
<path d="M335.97,345.18A184.9,184.9 0 0 1 330.88,349.40" stroke="#8fe962" stroke-width="4.9" fill="none"/>
<path d="M331.01,349.30A184.9,184.9 0 0 1 327.58,351.99" stroke="#e3943f" stroke-width="4.9" fill="none"/>
<path d="M327.70,351.89A184.9,184.9 0 0 1 323.43,355.06" stroke="#9a9a9a" stroke-width="4.9" fill="none"/>
<path d="M323.56,354.97A184.9,184.9 0 0 1 320.26,357.29" stroke="#e3943f" stroke-width="4.9" fill="none"/>
<path d="M320.39,357.20A184.9,184.9 0 0 1 255.58,385.48" stroke="#8fe962" stroke-width="4.9" fill="none"/>
<path d="M255.73,385.45A184.9,184.9 0 0 1 252.11,386.22" stroke="#b3641a" stroke-width="4.9" fill="none"/>
<path d="M252.26,386.19A184.9,184.9 0 0 1 247.98,387.01" stroke="#9a9a9a" stroke-width="4.9" fill="none"/>
<path d="M248.14,386.98A184.9,184.9 0 0 1 244.17,387.65" stroke="#b3641a" stroke-width="4.9" fill="none"/>
<path d="M244.32,387.62A184.9,184.9 0 0 1 234.25,388.94" stroke="#e3943f" stroke-width="4.9" fill="none"/>
<path d="M234.41,388.92A184.9,184.9 0 0 1 230.39,389.29" stroke="#8fe962" stroke-width="4.9" fill="none"/>
<path d="M230.55,389.28A184.9,184.9 0 0 1 225.56,389.62" stroke="#ecc4dc" stroke-width="4.9" fill="none"/>
<path d="M225.72,389.61A184.9,184.9 0 0 1 221.05,389.81" stroke="#8fe962" stroke-width="4.9" fill="none"/>
<path d="M221.21,389.81A184.9,184.9 0 0 1 216.21,389.90" stroke="#b3641a" stroke-width="4.9" fill="none"/>
<path d="M216.37,389.90A184.9,184.9 0 0 1 211.04,389.85" stroke="#fdd56c" stroke-width="4.9" fill="none"/>
<path d="M211.21,389.85A184.9,184.9 0 0 1 206.85,389.70" stroke="#e83fae" stroke-width="4.9" fill="none"/>
<path d="M207.01,389.71A184.9,184.9 0 0 1 202.02,389.42" stroke="#8fe962" stroke-width="4.9" fill="none"/>
<path d="M202.18,389.43A184.9,184.9 0 0 1 193.35,388.58" stroke="#9a9a9a" stroke-width="4.9" fill="none"/>
<path d="M193.51,388.60A184.9,184.9 0 0 1 187.91,387.85" stroke="#e3943f" stroke-width="4.9" fill="none"/>
<path d="M188.07,387.87A184.9,184.9 0 0 1 183.13,387.06" stroke="#2a79c0" stroke-width="4.9" fill="none"/>
<path d="M183.29,387.09A184.9,184.9 0 0 1 170.51,384.37" stroke="#9a9a9a" stroke-width="4.9" fill="none"/>
<path d="M170.67,384.41A184.9,184.9 0 0 1 152.92,379.02" stroke="#8fe962" stroke-width="4.9" fill="none"/>
<path d="M153.07,379.08A184.9,184.9 0 0 1 148.08,377.21" stroke="#4e8a1e" stroke-width="4.9" fill="none"/>
<path d="M148.23,377.27A184.9,184.9 0 0 1 139.46,373.58" stroke="#e83fae" stroke-width="4.9" fill="none"/>
<path d="M139.61,373.65A184.9,184.9 0 0 1 115.65,360.68" stroke="#4e8a1e" stroke-width="4.9" fill="none"/>
<path d="M115.78,360.77A184.9,184.9 0 0 1 105.29,353.54" stroke="#b3641a" stroke-width="4.9" fill="none"/>
<path d="M105.42,353.63A184.9,184.9 0 0 1 101.95,351.00" stroke="#18c8f2" stroke-width="4.9" fill="none"/>
<path d="M102.07,351.10A184.9,184.9 0 0 1 62.75,309.33" stroke="#b3641a" stroke-width="4.9" fill="none"/>
<path d="M62.84,309.46A184.9,184.9 0 0 1 55.68,298.15" stroke="#e3943f" stroke-width="4.9" fill="none"/>
<path d="M55.76,298.29A184.9,184.9 0 0 1 47.62,282.70" stroke="#8fe962" stroke-width="4.9" fill="none"/>
<path d="M47.69,282.85A184.9,184.9 0 0 1 45.01,276.80" stroke="#b3641a" stroke-width="4.9" fill="none"/>
<path d="M45.07,276.95A184.9,184.9 0 0 1 32.75,233.77" stroke="#8fe962" stroke-width="4.9" fill="none"/>
<path d="M32.78,233.92A184.9,184.9 0 0 1 42.15,140.40" stroke="#18c8f2" stroke-width="4.9" fill="none"/>
<path d="M60.59,117.77A177.7,177.7 0 0 1 80.07,89.83" stroke="#2d7dc6" stroke-width="4.6" fill="none"/>
<path d="M86.71,82.45A177.7,177.7 0 0 1 243.20,29.49" stroke="#2d7dc6" stroke-width="4.6" fill="none"/>
<path d="M246.87,30.11A177.7,177.7 0 0 1 333.61,72.32" stroke="#2d7dc6" stroke-width="4.6" fill="none"/>
<path d="M336.36,74.83A177.7,177.7 0 0 1 373.73,124.33" stroke="#2d7dc6" stroke-width="4.6" fill="none"/>
<path d="M377.36,131.87A177.7,177.7 0 0 1 385.15,152.45" stroke="#2d7dc6" stroke-width="4.6" fill="none"/>
<path d="M351.92,318.75A177.7,177.7 0 0 1 333.61,337.68" stroke="#ff0000" stroke-width="4.6" fill="none"/>
<path d="M329.39,341.33A177.7,177.7 0 0 1 277.34,371.56" stroke="#ff0000" stroke-width="4.6" fill="none"/>
<path d="M272.67,373.22A177.7,177.7 0 0 1 264.38,375.82" stroke="#ff0000" stroke-width="4.6" fill="none"/>
<path d="M255.37,378.15A177.7,177.7 0 0 1 246.87,379.89" stroke="#ff0000" stroke-width="4.6" fill="none"/>
<path d="M241.97,380.70A177.7,177.7 0 0 1 203.00,382.27" stroke="#ff0000" stroke-width="4.6" fill="none"/>
<path d="M198.37,381.88A177.7,177.7 0 0 1 167.91,376.24" stroke="#ff0000" stroke-width="4.6" fill="none"/>
<path d="M155.79,372.40A177.7,177.7 0 0 1 142.56,367.08" stroke="#ff0000" stroke-width="4.6" fill="none"/>
<path d="M139.74,365.79A177.7,177.7 0 0 1 60.28,291.69" stroke="#ff0000" stroke-width="4.6" fill="none"/>
<path d="M58.21,287.88A177.7,177.7 0 0 1 48.74,266.65" stroke="#ff0000" stroke-width="4.6" fill="none"/>
<path d="M47.38,262.85A177.7,177.7 0 0 1 39.30,228.81" stroke="#ff0000" stroke-width="4.6" fill="none"/>
<path d="M38.67,223.57A177.7,177.7 0 0 1 48.95,142.77" stroke="#ff0000" stroke-width="4.6" fill="none"/>
<line x1="37.84" y1="139.67" x2="24.51" y2="134.77" stroke="#ff0000" stroke-width="2.3"/>
<text x="23.38" y="134.35" transform="rotate(20.2 23.38 134.35)" text-anchor="end" dominant-baseline="central" font-size="8.3" fill="#222">31.2</text>
<line x1="70.25" y1="83.64" x2="68.56" y2="82.23" stroke="#ff0000" stroke-width="2.5"/>
<text x="67.64" y="81.46" transform="rotate(39.9 67.64 81.46)" text-anchor="end" dominant-baseline="central" font-size="8.3" fill="#222">2.6</text>
<line x1="93.78" y1="60.06" x2="92.37" y2="58.38" stroke="#ff0000" stroke-width="2.5"/>
<text x="91.60" y="57.46" transform="rotate(50.0 91.60 57.46)" text-anchor="end" dominant-baseline="central" font-size="8.3" fill="#222">0.8</text>
<line x1="108.24" y1="49.08" x2="106.99" y2="47.26" stroke="#ff0000" stroke-width="2.5"/>
<text x="106.31" y="46.27" transform="rotate(55.5 106.31 46.27)" text-anchor="end" dominant-baseline="central" font-size="8.3" fill="#222">1.8</text>
<line x1="123.39" y1="39.68" x2="122.32" y2="37.76" stroke="#ff0000" stroke-width="2.5"/>
<text x="121.73" y="36.71" transform="rotate(60.9 121.73 36.71)" text-anchor="end" dominant-baseline="central" font-size="8.3" fill="#222">1.3</text>
<line x1="140.56" y1="31.23" x2="139.69" y2="29.21" stroke="#ff0000" stroke-width="2.5"/>
<text x="139.22" y="28.11" transform="rotate(66.7 139.22 28.11)" text-anchor="end" dominant-baseline="central" font-size="8.3" fill="#222">1.9</text>
<line x1="177.03" y1="19.73" x2="176.57" y2="17.48" stroke="#ff0000" stroke-width="2.5"/>
<text x="176.32" y="16.30" transform="rotate(78.3 176.32 16.30)" text-anchor="end" dominant-baseline="central" font-size="8.3" fill="#222">3.5</text>
<line x1="186.13" y1="18.08" x2="185.77" y2="15.81" stroke="#ff0000" stroke-width="2.5"/>
<text x="185.59" y="14.62" transform="rotate(81.1 185.59 14.62)" text-anchor="end" dominant-baseline="central" font-size="8.3" fill="#222">3.6</text>
<line x1="255.71" y1="20.14" x2="256.39" y2="17.02" stroke="#ff0000" stroke-width="2.5"/>
<text x="256.64" y="15.84" transform="rotate(282.3 256.64 15.84)" text-anchor="start" dominant-baseline="central" font-size="8.3" fill="#222">7.5</text>
<line x1="320.65" y1="47.78" x2="321.99" y2="45.78" stroke="#ff0000" stroke-width="2.5"/>
<text x="322.65" y="44.79" transform="rotate(303.8 322.65 44.79)" text-anchor="start" dominant-baseline="central" font-size="8.3" fill="#222">4.1</text>
<line x1="324.73" y1="50.59" x2="326.23" y2="48.46" stroke="#ff0000" stroke-width="2.5"/>
<text x="326.93" y="47.49" transform="rotate(305.3 326.93 47.49)" text-anchor="start" dominant-baseline="central" font-size="8.3" fill="#222">4.7</text>
<line x1="349.42" y1="71.45" x2="351.54" y2="69.33" stroke="#ff0000" stroke-width="2.5"/>
<text x="352.39" y="68.48" transform="rotate(315.1 352.39 68.48)" text-anchor="start" dominant-baseline="central" font-size="8.3" fill="#222">6.6</text>
<line x1="387.15" y1="125.64" x2="400.77" y2="119.35" stroke="#ff0000" stroke-width="2.3"/>
<text x="401.86" y="118.84" transform="rotate(335.2 401.86 118.84)" text-anchor="start" dominant-baseline="central" font-size="8.3" fill="#222">35.3</text>
<line x1="384.72" y1="289.42" x2="397.61" y2="295.85" stroke="#ff0000" stroke-width="2.3"/>
<text x="398.68" y="296.38" transform="rotate(26.5 398.68 296.38)" text-anchor="start" dominant-baseline="central" font-size="8.3" fill="#222">32.9</text>
<line x1="370.57" y1="313.25" x2="376.31" y2="317.26" stroke="#ff0000" stroke-width="2.3"/>
<text x="377.30" y="317.94" transform="rotate(34.9 377.30 317.94)" text-anchor="start" dominant-baseline="central" font-size="8.3" fill="#222">17.8</text>
<line x1="331.62" y1="354.29" x2="337.34" y2="361.63" stroke="#ff0000" stroke-width="2.3"/>
<text x="338.07" y="362.58" transform="rotate(52.1 338.07 362.58)" text-anchor="start" dominant-baseline="central" font-size="8.3" fill="#222">25.1</text>
<line x1="320.38" y1="362.41" x2="326.76" y2="371.97" stroke="#ff0000" stroke-width="2.3"/>
<text x="329.18" y="371.79" transform="rotate(56.3 329.18 371.79)" text-anchor="start" dominant-baseline="central" font-size="8.3" fill="#222">28.3</text>
<line x1="316.50" y1="364.92" x2="322.97" y2="375.15" stroke="#ff0000" stroke-width="2.3"/>
<text x="320.90" y="377.84" transform="rotate(57.7 320.90 377.84)" text-anchor="start" dominant-baseline="central" font-size="8.3" fill="#222">29.1</text>
<line x1="89.05" y1="345.82" x2="83.17" y2="352.37" stroke="#ff0000" stroke-width="2.3"/>
<text x="82.37" y="353.27" transform="rotate(-48.1 82.37 353.27)" text-anchor="end" dominant-baseline="central" font-size="8.3" fill="#222">25.4</text>
<text x="0.2" y="5.9" font-size="10.6" font-weight="bold" fill="#000">a</text>
<text x="117.4" y="60.4" transform="rotate(52 117.4 60.4)" font-size="7.8" fill="#2f2ff0">ApsA</text>
<text x="41.4" y="232.9" transform="rotate(-6 41.4 232.9)" font-size="8.6" fill="#ff2020">DdmD</text>
<text x="48.6" y="124.8" transform="rotate(-55 48.6 124.8)" font-size="4.1" fill="#222">Origin</text>
<text x="49.6" y="138.6" transform="rotate(-57.5 49.6 138.6)" font-size="4.1" fill="#222">Argo-like type</text>
<text x="516.7" y="77.5" font-size="9.0" font-weight="bold" textLength="93.7" lengthAdjust="spacingAndGlyphs" fill="#111">Associated Argo-like</text>
<rect x="516.7" y="79.8" width="92.1" height="1.0" fill="#555"/>
<rect x="516.5" y="82.3" width="5.8" height="5.6" fill="#2d7dc6" stroke="#555" stroke-width="0.4"/>
<text x="525.3" y="87.6" font-size="8.0" textLength="33.7" lengthAdjust="spacingAndGlyphs" fill="#000" stroke="#000" stroke-width="0.12">ApsB-like</text>
<rect x="516.5" y="91.0" width="5.8" height="5.6" fill="#ff0000" stroke="#555" stroke-width="0.4"/>
<text x="525.3" y="96.4" font-size="8.0" textLength="37.2" lengthAdjust="spacingAndGlyphs" fill="#000" stroke="#000" stroke-width="0.12">DdmE-like</text>
<text x="517.9" y="118.8" font-size="9.0" font-weight="bold" textLength="27.3" lengthAdjust="spacingAndGlyphs" fill="#111">Origin</text>
<rect x="517.5" y="121.2" width="46.4" height="1.0" fill="#555"/>
<rect x="517.3" y="124.0" width="6.2" height="6.0" fill="#e83fae" stroke="#555" stroke-width="0.4"/>
<text x="526.7" y="129.7" font-size="8.05" fill="#000" stroke="#000" stroke-width="0.12">Archaea</text>
<rect x="517.3" y="133.04" width="6.2" height="6.0" fill="#8fe962" stroke="#555" stroke-width="0.4"/>
<text x="526.7" y="138.74" font-size="8.05" fill="#000" stroke="#000" stroke-width="0.12">Bacillota</text>
<rect x="517.3" y="142.07999999999998" width="6.2" height="6.0" fill="#b3641a" stroke="#555" stroke-width="0.4"/>
<text x="526.7" y="147.78" font-size="8.05" fill="#000" stroke="#000" stroke-width="0.12">Bacteroidota</text>
<rect x="517.3" y="151.12" width="6.2" height="6.0" fill="#ecc4dc" stroke="#555" stroke-width="0.4"/>
<text x="526.7" y="156.82" font-size="8.05" fill="#000" stroke="#000" stroke-width="0.12">Actinomycetota</text>
<rect x="517.3" y="160.16" width="6.2" height="6.0" fill="#fdd56c" stroke="#555" stroke-width="0.4"/>
<text x="526.7" y="165.86" font-size="8.05" fill="#000" stroke="#000" stroke-width="0.12">Campylobacterota</text>
<rect x="517.3" y="169.2" width="6.2" height="6.0" fill="#ff0000" stroke="#555" stroke-width="0.4"/>
<text x="526.7" y="174.9" font-size="8.05" fill="#000" stroke="#000" stroke-width="0.12">Chloroflexota</text>
<rect x="517.3" y="178.24" width="6.2" height="6.0" fill="#4e8a1e" stroke="#555" stroke-width="0.4"/>
<text x="526.7" y="183.94" font-size="8.05" fill="#000" stroke="#000" stroke-width="0.12">Cyanobacteriota</text>
<rect x="517.3" y="187.28" width="6.2" height="6.0" fill="#9a9a9a" stroke="#555" stroke-width="0.4"/>
<text x="526.7" y="192.98" font-size="8.05" fill="#000" stroke="#000" stroke-width="0.12">Spirochaetota</text>
<rect x="517.3" y="196.32" width="6.2" height="6.0" fill="#0c4b5c" stroke="#555" stroke-width="0.4"/>
<text x="526.7" y="202.02" font-size="8.05" fill="#000" stroke="#000" stroke-width="0.12">Pseudomonadota</text>
<rect x="517.3" y="205.35999999999999" width="6.2" height="6.0" fill="#2a79c0" stroke="#555" stroke-width="0.4"/>
<text x="526.7" y="211.06" font-size="8.05" fill="#000" stroke="#000" stroke-width="0.12">a-proteobacteria</text>
<rect x="517.3" y="214.39999999999998" width="6.2" height="6.0" fill="#5aa3b8" stroke="#555" stroke-width="0.4"/>
<text x="526.7" y="220.1" font-size="8.05" fill="#000" stroke="#000" stroke-width="0.12">b-proteobacteria</text>
<rect x="517.3" y="223.44" width="6.2" height="6.0" fill="#18c8f2" stroke="#555" stroke-width="0.4"/>
<text x="526.7" y="229.14" font-size="8.05" fill="#000" stroke="#000" stroke-width="0.12">g-proteobacteria</text>
<rect x="517.3" y="232.48" width="6.2" height="6.0" fill="#cbeef9" stroke="#555" stroke-width="0.4"/>
<text x="526.7" y="238.18" font-size="8.05" fill="#000" stroke="#000" stroke-width="0.12">enterobacteria</text>
<rect x="517.3" y="241.51999999999998" width="6.2" height="6.0" fill="#e3943f" stroke="#555" stroke-width="0.4"/>
<text x="526.7" y="247.22" font-size="8.05" fill="#000" stroke="#000" stroke-width="0.12">Other</text>
<text x="519.6" y="269.8" font-size="9.0" font-weight="bold" textLength="81.9" lengthAdjust="spacingAndGlyphs" fill="#111">Structure ApsB vs</text>
<text x="519.6" y="281.5" font-size="9.0" font-weight="bold" textLength="92.4" lengthAdjust="spacingAndGlyphs" fill="#111">ApsB-like/DdmE-like</text>
<rect x="519.2" y="284.5" width="91.7" height="1.0" fill="#555"/>
<rect x="519.3" y="289.0" width="6.0" height="5.7" fill="#ff0000" stroke="#555" stroke-width="0.4"/>
<text x="528.0" y="294.3" font-size="8.0" textLength="23.4" lengthAdjust="spacingAndGlyphs" fill="#000" stroke="#000" stroke-width="0.12">RMSD</text>
<text x="391.7" y="387.3" font-size="8.3" font-weight="bold" textLength="61.8" lengthAdjust="spacingAndGlyphs" fill="#666">Tree scale: 1000</text>
<line x1="465.2" y1="383.9" x2="498.8" y2="383.9" stroke="#666" stroke-width="1.4"/><line x1="482" y1="383.9" x2="482" y2="384.9" stroke="#666" stroke-width="0.8"/>
<line x1="465.4" y1="382.2" x2="465.4" y2="385.7" stroke="#666" stroke-width="1"/>
<line x1="498.6" y1="382.2" x2="498.6" y2="385.7" stroke="#666" stroke-width="1"/>
<text x="-1.2" y="412.1" font-size="11.3" font-weight="bold" fill="#000">b</text>
<text x="4.7" y="443.8" font-size="8.15" textLength="77.9" lengthAdjust="spacingAndGlyphs" fill="#000" stroke="#000" stroke-width="0.12">ST3021_CP022959.1</text>
<text x="4.7" y="462.1" font-size="8.15" textLength="79.2" lengthAdjust="spacingAndGlyphs" fill="#000" stroke="#000" stroke-width="0.12">ST10 (A) CP010171.1</text>
<text x="4.7" y="478.9" font-size="8.15" textLength="76.3" lengthAdjust="spacingAndGlyphs" fill="#000" stroke="#000" stroke-width="0.12">ST10 (A) CNR81D10</text>
<text x="4.9" y="492.0" font-size="8.15" textLength="81.9" lengthAdjust="spacingAndGlyphs" fill="#000" stroke="#000" stroke-width="0.12">ST57 (E) CP084096.1:</text>
<text x="30.7" y="501.7" font-size="8.15" textLength="32.9" lengthAdjust="spacingAndGlyphs" fill="#000" stroke="#000" stroke-width="0.12">tRNALeu</text>
<text x="4.9" y="511.4" font-size="8.15" textLength="84.9" lengthAdjust="spacingAndGlyphs" fill="#000" stroke="#000" stroke-width="0.12">ST38 (D) CP098201.1 :</text>
<text x="32.2" y="520.7" font-size="8.15" textLength="32.9" lengthAdjust="spacingAndGlyphs" fill="#000" stroke="#000" stroke-width="0.12">tRNALeu</text>
<text x="4.9" y="530.9" font-size="8.15" textLength="84.1" lengthAdjust="spacingAndGlyphs" fill="#000" stroke="#000" stroke-width="0.12">ST10 (A) CP058571.1 :</text>
<text x="31.7" y="540.6" font-size="8.15" textLength="32.9" lengthAdjust="spacingAndGlyphs" fill="#000" stroke="#000" stroke-width="0.12">tRNALeu</text>
<text x="4.9" y="551.1" font-size="8.15" textLength="80.4" lengthAdjust="spacingAndGlyphs" fill="#000" stroke="#000" stroke-width="0.12">ST1972 CP028746.1 :</text>
<text x="29.9" y="560.8" font-size="8.15" textLength="32.9" lengthAdjust="spacingAndGlyphs" fill="#000" stroke="#000" stroke-width="0.12">tRNALeu</text>
<text x="4.9" y="569.5" font-size="8.15" textLength="88.7" lengthAdjust="spacingAndGlyphs" fill="#000" stroke="#000" stroke-width="0.12">ST131 (B) CP014495.1 :</text>
<text x="33.7" y="579.6" font-size="8.15" textLength="32.9" lengthAdjust="spacingAndGlyphs" fill="#000" stroke="#000" stroke-width="0.12">tRNALeu</text>
<text x="4.8" y="591.4" font-size="8.15" textLength="79.1" lengthAdjust="spacingAndGlyphs" fill="#000" stroke="#000" stroke-width="0.12">ST57 (E) CP084096.1</text>
<text x="4.8" y="608.0" font-size="8.15" textLength="70.7" lengthAdjust="spacingAndGlyphs" fill="#000" stroke="#000" stroke-width="0.12">ST1266 CP19944.1</text>
<text x="4.8" y="625.5" font-size="8.15" textLength="77.3" lengthAdjust="spacingAndGlyphs" fill="#000" stroke="#000" stroke-width="0.12">ST3021_CP022959.1</text>
<text x="4.8" y="644.6" font-size="8.15" textLength="103.2" lengthAdjust="spacingAndGlyphs" fill="#000" stroke="#000" stroke-width="0.12">ST219 CNR36C9 : tRNAPhe</text>
<g><path d="M321.1,492.2C321.1,501.5 321.9,501.5 321.9,510.8" stroke="#5e5e5e" stroke-width="0.45" stroke-opacity="0.8" fill="none"/><path d="M401.5,492.2C401.5,501.5 357.3,501.5 357.3,510.8" stroke="#5e5e5e" stroke-width="0.45" stroke-opacity="0.8" fill="none"/><path d="M171.7,492.2C171.7,501.5 251.5,501.5 251.5,510.8" stroke="#5e5e5e" stroke-width="0.45" stroke-opacity="0.8" fill="none"/><path d="M327.7,492.2C327.7,501.5 131.6,501.5 131.6,510.8" stroke="#5e5e5e" stroke-width="0.45" stroke-opacity="0.8" fill="none"/><path d="M282.4,492.2C282.4,501.5 290.3,501.5 290.3,510.8" stroke="#5e5e5e" stroke-width="0.45" stroke-opacity="0.8" fill="none"/><path d="M308.8,492.2C308.8,501.5 257.8,501.5 257.8,510.8" stroke="#5e5e5e" stroke-width="0.45" stroke-opacity="0.8" fill="none"/><path d="M234.7,492.2C234.7,501.5 313.6,501.5 313.6,510.8" stroke="#5e5e5e" stroke-width="0.45" stroke-opacity="0.8" fill="none"/><path d="M204.6,492.2C204.6,501.5 138.7,501.5 138.7,510.8" stroke="#5e5e5e" stroke-width="0.45" stroke-opacity="0.8" fill="none"/><path d="M319.8,492.2C319.8,501.5 230.1,501.5 230.1,510.8" stroke="#5e5e5e" stroke-width="0.45" stroke-opacity="0.8" fill="none"/><path d="M383.6,492.2C383.6,501.5 332.4,501.5 332.4,510.8" stroke="#5e5e5e" stroke-width="0.45" stroke-opacity="0.8" fill="none"/><path d="M411.6,492.2C411.6,501.5 180.7,501.5 180.7,510.8" stroke="#5e5e5e" stroke-width="0.45" stroke-opacity="0.8" fill="none"/><path d="M406.3,492.2C406.3,501.5 379.0,501.5 379.0,510.8" stroke="#5e5e5e" stroke-width="0.45" stroke-opacity="0.8" fill="none"/><path d="M215.9,492.2C215.9,501.5 292.7,501.5 292.7,510.8" stroke="#5e5e5e" stroke-width="0.45" stroke-opacity="0.8" fill="none"/><path d="M407.6,492.2C407.6,501.5 183.4,501.5 183.4,510.8" stroke="#5e5e5e" stroke-width="0.45" stroke-opacity="0.8" fill="none"/><path d="M255.3,492.2C255.3,501.5 191.5,501.5 191.5,510.8" stroke="#5e5e5e" stroke-width="0.45" stroke-opacity="0.8" fill="none"/><path d="M180.8,492.2C180.8,501.5 199.3,501.5 199.3,510.8" stroke="#5e5e5e" stroke-width="0.45" stroke-opacity="0.8" fill="none"/><path d="M165.3,492.2C165.3,501.5 194.3,501.5 194.3,510.8" stroke="#5e5e5e" stroke-width="0.45" stroke-opacity="0.8" fill="none"/><path d="M242.4,492.2C242.4,501.5 234.1,501.5 234.1,510.8" stroke="#5e5e5e" stroke-width="0.45" stroke-opacity="0.8" fill="none"/><path d="M243.9,492.2C243.9,501.5 280.7,501.5 280.7,510.8" stroke="#5e5e5e" stroke-width="0.45" stroke-opacity="0.8" fill="none"/><path d="M178.7,492.2C178.7,501.5 106.4,501.5 106.4,510.8" stroke="#5e5e5e" stroke-width="0.45" stroke-opacity="0.8" fill="none"/><path d="M353.0,492.2C353.0,501.5 105.0,501.5 105.0,510.8" stroke="#5e5e5e" stroke-width="0.45" stroke-opacity="0.8" fill="none"/><path d="M362.6,492.2C362.6,501.5 376.7,501.5 376.7,510.8" stroke="#5e5e5e" stroke-width="0.45" stroke-opacity="0.8" fill="none"/><path d="M166.7,492.2C166.7,501.5 109.2,501.5 109.2,510.8" stroke="#5e5e5e" stroke-width="0.45" stroke-opacity="0.8" fill="none"/><path d="M404.7,492.2C404.7,501.5 379.0,501.5 379.0,510.8" stroke="#5e5e5e" stroke-width="0.45" stroke-opacity="0.8" fill="none"/><path d="M398.3,492.2C398.3,501.5 196.1,501.5 196.1,510.8" stroke="#5e5e5e" stroke-width="0.45" stroke-opacity="0.8" fill="none"/><path d="M253.7,492.2C253.7,501.5 303.3,501.5 303.3,510.8" stroke="#5e5e5e" stroke-width="0.45" stroke-opacity="0.8" fill="none"/><path d="M130.1,510.8C130.1,520.0 325.1,520.0 325.1,529.1" stroke="#5e5e5e" stroke-width="0.45" stroke-opacity="0.8" fill="none"/><path d="M339.9,510.8C339.9,520.0 366.6,520.0 366.6,529.1" stroke="#5e5e5e" stroke-width="0.45" stroke-opacity="0.8" fill="none"/><path d="M125.4,510.8C125.4,520.0 162.0,520.0 162.0,529.1" stroke="#5e5e5e" stroke-width="0.45" stroke-opacity="0.8" fill="none"/><path d="M356.1,510.8C356.1,520.0 366.6,520.0 366.6,529.1" stroke="#5e5e5e" stroke-width="0.45" stroke-opacity="0.8" fill="none"/><path d="M252.1,510.8C252.1,520.0 219.1,520.0 219.1,529.1" stroke="#5e5e5e" stroke-width="0.45" stroke-opacity="0.8" fill="none"/><path d="M149.5,510.8C149.5,520.0 162.0,520.0 162.0,529.1" stroke="#5e5e5e" stroke-width="0.45" stroke-opacity="0.8" fill="none"/><path d="M292.3,510.8C292.3,520.0 195.0,520.0 195.0,529.1" stroke="#5e5e5e" stroke-width="0.45" stroke-opacity="0.8" fill="none"/><path d="M113.5,510.8C113.5,520.0 271.2,520.0 271.2,529.1" stroke="#5e5e5e" stroke-width="0.45" stroke-opacity="0.8" fill="none"/><path d="M213.2,510.8C213.2,520.0 230.2,520.0 230.2,529.1" stroke="#5e5e5e" stroke-width="0.45" stroke-opacity="0.8" fill="none"/><path d="M330.5,510.8C330.5,520.0 316.5,520.0 316.5,529.1" stroke="#5e5e5e" stroke-width="0.45" stroke-opacity="0.8" fill="none"/><path d="M115.5,510.8C115.5,520.0 168.7,520.0 168.7,529.1" stroke="#5e5e5e" stroke-width="0.45" stroke-opacity="0.8" fill="none"/><path d="M237.7,510.8C237.7,520.0 188.7,520.0 188.7,529.1" stroke="#5e5e5e" stroke-width="0.45" stroke-opacity="0.8" fill="none"/><path d="M304.1,510.8C304.1,520.0 291.0,520.0 291.0,529.1" stroke="#5e5e5e" stroke-width="0.45" stroke-opacity="0.8" fill="none"/><path d="M319.9,510.8C319.9,520.0 308.1,520.0 308.1,529.1" stroke="#5e5e5e" stroke-width="0.45" stroke-opacity="0.8" fill="none"/><path d="M141.6,510.8C141.6,520.0 222.3,520.0 222.3,529.1" stroke="#5e5e5e" stroke-width="0.45" stroke-opacity="0.8" fill="none"/><path d="M226.4,510.8C226.4,520.0 336.4,520.0 336.4,529.1" stroke="#5e5e5e" stroke-width="0.45" stroke-opacity="0.8" fill="none"/><path d="M372.3,510.8C372.3,520.0 366.6,520.0 366.6,529.1" stroke="#5e5e5e" stroke-width="0.45" stroke-opacity="0.8" fill="none"/><path d="M303.5,510.8C303.5,520.0 265.9,520.0 265.9,529.1" stroke="#5e5e5e" stroke-width="0.45" stroke-opacity="0.8" fill="none"/><path d="M212.7,510.8C212.7,520.0 190.5,520.0 190.5,529.1" stroke="#5e5e5e" stroke-width="0.45" stroke-opacity="0.8" fill="none"/><path d="M375.8,510.8C375.8,520.0 290.3,520.0 290.3,529.1" stroke="#5e5e5e" stroke-width="0.45" stroke-opacity="0.8" fill="none"/><path d="M239.3,510.8C239.3,520.0 165.4,520.0 165.4,529.1" stroke="#5e5e5e" stroke-width="0.45" stroke-opacity="0.8" fill="none"/><path d="M176.0,510.8C176.0,520.0 339.5,520.0 339.5,529.1" stroke="#5e5e5e" stroke-width="0.45" stroke-opacity="0.8" fill="none"/><path d="M200.8,510.8C200.8,520.0 320.5,520.0 320.5,529.1" stroke="#5e5e5e" stroke-width="0.45" stroke-opacity="0.8" fill="none"/><path d="M293.8,510.8C293.8,520.0 317.4,520.0 317.4,529.1" stroke="#5e5e5e" stroke-width="0.45" stroke-opacity="0.8" fill="none"/><path d="M201.4,510.8C201.4,520.0 219.5,520.0 219.5,529.1" stroke="#5e5e5e" stroke-width="0.45" stroke-opacity="0.8" fill="none"/><path d="M235.5,510.8C235.5,520.0 303.4,520.0 303.4,529.1" stroke="#5e5e5e" stroke-width="0.45" stroke-opacity="0.8" fill="none"/><path d="M222.1,529.1C222.1,538.2 296.6,538.2 296.6,547.4" stroke="#5e5e5e" stroke-width="0.45" stroke-opacity="0.8" fill="none"/><path d="M280.8,529.1C280.8,538.2 289.3,538.2 289.3,547.4" stroke="#5e5e5e" stroke-width="0.45" stroke-opacity="0.8" fill="none"/><path d="M213.3,529.1C213.3,538.2 253.3,538.2 253.3,547.4" stroke="#5e5e5e" stroke-width="0.45" stroke-opacity="0.8" fill="none"/><path d="M329.1,529.1C329.1,538.2 330.9,538.2 330.9,547.4" stroke="#5e5e5e" stroke-width="0.45" stroke-opacity="0.8" fill="none"/><path d="M233.2,529.1C233.2,538.2 317.0,538.2 317.0,547.4" stroke="#5e5e5e" stroke-width="0.45" stroke-opacity="0.8" fill="none"/><path d="M331.4,529.1C331.4,538.2 377.8,538.2 377.8,547.4" stroke="#5e5e5e" stroke-width="0.45" stroke-opacity="0.8" fill="none"/><path d="M340.0,529.1C340.0,538.2 372.3,538.2 372.3,547.4" stroke="#5e5e5e" stroke-width="0.45" stroke-opacity="0.8" fill="none"/><path d="M357.7,529.1C357.7,538.2 363.0,538.2 363.0,547.4" stroke="#5e5e5e" stroke-width="0.45" stroke-opacity="0.8" fill="none"/><path d="M196.0,529.1C196.0,538.2 363.3,538.2 363.3,547.4" stroke="#5e5e5e" stroke-width="0.45" stroke-opacity="0.8" fill="none"/><path d="M259.6,529.1C259.6,538.2 312.8,538.2 312.8,547.4" stroke="#5e5e5e" stroke-width="0.45" stroke-opacity="0.8" fill="none"/><path d="M311.4,529.1C311.4,538.2 361.9,538.2 361.9,547.4" stroke="#5e5e5e" stroke-width="0.45" stroke-opacity="0.8" fill="none"/><path d="M280.8,529.1C280.8,538.2 243.5,538.2 243.5,547.4" stroke="#5e5e5e" stroke-width="0.45" stroke-opacity="0.8" fill="none"/><path d="M289.6,529.1C289.6,538.2 293.6,538.2 293.6,547.4" stroke="#5e5e5e" stroke-width="0.45" stroke-opacity="0.8" fill="none"/><path d="M309.4,529.1C309.4,538.2 248.2,538.2 248.2,547.4" stroke="#5e5e5e" stroke-width="0.45" stroke-opacity="0.8" fill="none"/><path d="M252.2,529.1C252.2,538.2 196.8,538.2 196.8,547.4" stroke="#5e5e5e" stroke-width="0.45" stroke-opacity="0.8" fill="none"/><path d="M302.3,529.1C302.3,538.2 155.7,538.2 155.7,547.4" stroke="#5e5e5e" stroke-width="0.45" stroke-opacity="0.8" fill="none"/><path d="M258.5,529.1C258.5,538.2 178.2,538.2 178.2,547.4" stroke="#5e5e5e" stroke-width="0.45" stroke-opacity="0.8" fill="none"/><path d="M189.3,529.1C189.3,538.2 146.0,538.2 146.0,547.4" stroke="#5e5e5e" stroke-width="0.45" stroke-opacity="0.8" fill="none"/><path d="M201.6,529.1C201.6,538.2 195.3,538.2 195.3,547.4" stroke="#5e5e5e" stroke-width="0.45" stroke-opacity="0.8" fill="none"/><path d="M239.8,529.1C239.8,538.2 282.8,538.2 282.8,547.4" stroke="#5e5e5e" stroke-width="0.45" stroke-opacity="0.8" fill="none"/><path d="M210.7,529.1C210.7,538.2 146.2,538.2 146.2,547.4" stroke="#5e5e5e" stroke-width="0.45" stroke-opacity="0.8" fill="none"/><path d="M244.9,529.1C244.9,538.2 228.7,538.2 228.7,547.4" stroke="#5e5e5e" stroke-width="0.45" stroke-opacity="0.8" fill="none"/><path d="M185.5,529.1C185.5,538.2 232.7,538.2 232.7,547.4" stroke="#5e5e5e" stroke-width="0.45" stroke-opacity="0.8" fill="none"/><path d="M169.4,529.1C169.4,538.2 168.0,538.2 168.0,547.4" stroke="#5e5e5e" stroke-width="0.45" stroke-opacity="0.8" fill="none"/><path d="M273.6,529.1C273.6,538.2 288.1,538.2 288.1,547.4" stroke="#5e5e5e" stroke-width="0.45" stroke-opacity="0.8" fill="none"/><path d="M358.1,529.1C358.1,538.2 243.1,538.2 243.1,547.4" stroke="#5e5e5e" stroke-width="0.45" stroke-opacity="0.8" fill="none"/><path d="M334.5,547.4C334.5,556.8 236.9,556.8 236.9,566.1" stroke="#5e5e5e" stroke-width="0.45" stroke-opacity="0.8" fill="none"/><path d="M178.9,547.4C178.9,556.8 190.4,556.8 190.4,566.1" stroke="#5e5e5e" stroke-width="0.45" stroke-opacity="0.8" fill="none"/><path d="M367.9,547.4C367.9,556.8 300.7,556.8 300.7,566.1" stroke="#5e5e5e" stroke-width="0.45" stroke-opacity="0.8" fill="none"/><path d="M227.4,547.4C227.4,556.8 138.7,556.8 138.7,566.1" stroke="#5e5e5e" stroke-width="0.45" stroke-opacity="0.8" fill="none"/><path d="M171.0,547.4C171.0,556.8 191.7,556.8 191.7,566.1" stroke="#5e5e5e" stroke-width="0.45" stroke-opacity="0.8" fill="none"/><path d="M178.6,547.4C178.6,556.8 376.0,556.8 376.0,566.1" stroke="#5e5e5e" stroke-width="0.45" stroke-opacity="0.8" fill="none"/><path d="M233.1,547.4C233.1,556.8 183.9,556.8 183.9,566.1" stroke="#5e5e5e" stroke-width="0.45" stroke-opacity="0.8" fill="none"/><path d="M213.6,547.4C213.6,556.8 239.6,556.8 239.6,566.1" stroke="#5e5e5e" stroke-width="0.45" stroke-opacity="0.8" fill="none"/><path d="M368.8,547.4C368.8,556.8 297.2,556.8 297.2,566.1" stroke="#5e5e5e" stroke-width="0.45" stroke-opacity="0.8" fill="none"/><path d="M206.2,547.4C206.2,556.8 270.7,556.8 270.7,566.1" stroke="#5e5e5e" stroke-width="0.45" stroke-opacity="0.8" fill="none"/><path d="M242.3,547.4C242.3,556.8 329.5,556.8 329.5,566.1" stroke="#5e5e5e" stroke-width="0.45" stroke-opacity="0.8" fill="none"/><path d="M260.0,547.4C260.0,556.8 255.8,556.8 255.8,566.1" stroke="#5e5e5e" stroke-width="0.45" stroke-opacity="0.8" fill="none"/><path d="M174.3,547.4C174.3,556.8 256.6,556.8 256.6,566.1" stroke="#5e5e5e" stroke-width="0.45" stroke-opacity="0.8" fill="none"/><path d="M213.9,547.4C213.9,556.8 358.8,556.8 358.8,566.1" stroke="#5e5e5e" stroke-width="0.45" stroke-opacity="0.8" fill="none"/><path d="M149.1,547.4C149.1,556.8 138.4,556.8 138.4,566.1" stroke="#5e5e5e" stroke-width="0.45" stroke-opacity="0.8" fill="none"/><path d="M362.8,547.4C362.8,556.8 203.9,556.8 203.9,566.1" stroke="#5e5e5e" stroke-width="0.45" stroke-opacity="0.8" fill="none"/><path d="M208.1,547.4C208.1,556.8 296.0,556.8 296.0,566.1" stroke="#5e5e5e" stroke-width="0.45" stroke-opacity="0.8" fill="none"/><path d="M214.0,547.4C214.0,556.8 264.9,556.8 264.9,566.1" stroke="#5e5e5e" stroke-width="0.45" stroke-opacity="0.8" fill="none"/><path d="M295.5,547.4C295.5,556.8 336.6,556.8 336.6,566.1" stroke="#5e5e5e" stroke-width="0.45" stroke-opacity="0.8" fill="none"/><path d="M173.4,547.4C173.4,556.8 218.6,556.8 218.6,566.1" stroke="#5e5e5e" stroke-width="0.45" stroke-opacity="0.8" fill="none"/><path d="M269.7,547.4C269.7,556.8 233.1,556.8 233.1,566.1" stroke="#5e5e5e" stroke-width="0.45" stroke-opacity="0.8" fill="none"/><path d="M268.8,547.4C268.8,556.8 243.8,556.8 243.8,566.1" stroke="#5e5e5e" stroke-width="0.45" stroke-opacity="0.8" fill="none"/><path d="M318.7,547.4C318.7,556.8 235.3,556.8 235.3,566.1" stroke="#5e5e5e" stroke-width="0.45" stroke-opacity="0.8" fill="none"/><path d="M204.5,547.4C204.5,556.8 279.5,556.8 279.5,566.1" stroke="#5e5e5e" stroke-width="0.45" stroke-opacity="0.8" fill="none"/><path d="M351.8,547.4C351.8,556.8 264.4,556.8 264.4,566.1" stroke="#5e5e5e" stroke-width="0.45" stroke-opacity="0.8" fill="none"/><path d="M326.4,547.4C326.4,556.8 340.0,556.8 340.0,566.1" stroke="#5e5e5e" stroke-width="0.45" stroke-opacity="0.8" fill="none"/><path d="M327.2,566.1C327.2,575.5 265.2,575.5 265.2,584.8" stroke="#5e5e5e" stroke-width="0.45" stroke-opacity="0.8" fill="none"/><path d="M381.5,566.1C381.5,575.5 362.0,575.5 362.0,584.8" stroke="#5e5e5e" stroke-width="0.45" stroke-opacity="0.8" fill="none"/><path d="M365.5,566.1C365.5,575.5 328.9,575.5 328.9,584.8" stroke="#5e5e5e" stroke-width="0.45" stroke-opacity="0.8" fill="none"/><path d="M359.7,566.1C359.7,575.5 404.0,575.5 404.0,584.8" stroke="#5e5e5e" stroke-width="0.45" stroke-opacity="0.8" fill="none"/><path d="M323.6,566.1C323.6,575.5 285.1,575.5 285.1,584.8" stroke="#5e5e5e" stroke-width="0.45" stroke-opacity="0.8" fill="none"/><path d="M346.5,566.1C346.5,575.5 174.4,575.5 174.4,584.8" stroke="#5e5e5e" stroke-width="0.45" stroke-opacity="0.8" fill="none"/><path d="M265.9,566.1C265.9,575.5 265.5,575.5 265.5,584.8" stroke="#5e5e5e" stroke-width="0.45" stroke-opacity="0.8" fill="none"/><path d="M226.6,566.1C226.6,575.5 242.0,575.5 242.0,584.8" stroke="#5e5e5e" stroke-width="0.45" stroke-opacity="0.8" fill="none"/><path d="M354.8,566.1C354.8,575.5 306.2,575.5 306.2,584.8" stroke="#5e5e5e" stroke-width="0.45" stroke-opacity="0.8" fill="none"/><path d="M356.9,566.1C356.9,575.5 313.9,575.5 313.9,584.8" stroke="#5e5e5e" stroke-width="0.45" stroke-opacity="0.8" fill="none"/><path d="M145.2,566.1C145.2,575.5 398.3,575.5 398.3,584.8" stroke="#5e5e5e" stroke-width="0.45" stroke-opacity="0.8" fill="none"/><path d="M404.6,566.1C404.6,575.5 149.3,575.5 149.3,584.8" stroke="#5e5e5e" stroke-width="0.45" stroke-opacity="0.8" fill="none"/><path d="M362.9,566.1C362.9,575.5 389.1,575.5 389.1,584.8" stroke="#5e5e5e" stroke-width="0.45" stroke-opacity="0.8" fill="none"/><path d="M392.3,566.1C392.3,575.5 172.3,575.5 172.3,584.8" stroke="#5e5e5e" stroke-width="0.45" stroke-opacity="0.8" fill="none"/><path d="M216.4,566.1C216.4,575.5 176.3,575.5 176.3,584.8" stroke="#5e5e5e" stroke-width="0.45" stroke-opacity="0.8" fill="none"/><path d="M301.2,566.1C301.2,575.5 240.2,575.5 240.2,584.8" stroke="#5e5e5e" stroke-width="0.45" stroke-opacity="0.8" fill="none"/><path d="M304.3,566.1C304.3,575.5 233.8,575.5 233.8,584.8" stroke="#5e5e5e" stroke-width="0.45" stroke-opacity="0.8" fill="none"/><path d="M239.5,566.1C239.5,575.5 159.9,575.5 159.9,584.8" stroke="#5e5e5e" stroke-width="0.45" stroke-opacity="0.8" fill="none"/><path d="M291.8,566.1C291.8,575.5 371.5,575.5 371.5,584.8" stroke="#5e5e5e" stroke-width="0.45" stroke-opacity="0.8" fill="none"/><path d="M174.2,566.1C174.2,575.5 140.8,575.5 140.8,584.8" stroke="#5e5e5e" stroke-width="0.45" stroke-opacity="0.8" fill="none"/><path d="M298.4,566.1C298.4,575.5 377.4,575.5 377.4,584.8" stroke="#5e5e5e" stroke-width="0.45" stroke-opacity="0.8" fill="none"/><path d="M238.2,566.1C238.2,575.5 273.7,575.5 273.7,584.8" stroke="#5e5e5e" stroke-width="0.45" stroke-opacity="0.8" fill="none"/><path d="M178.7,566.1C178.7,575.5 271.7,575.5 271.7,584.8" stroke="#5e5e5e" stroke-width="0.45" stroke-opacity="0.8" fill="none"/><path d="M381.1,566.1C381.1,575.5 402.9,575.5 402.9,584.8" stroke="#5e5e5e" stroke-width="0.45" stroke-opacity="0.8" fill="none"/><path d="M208.6,566.1C208.6,575.5 164.3,575.5 164.3,584.8" stroke="#5e5e5e" stroke-width="0.45" stroke-opacity="0.8" fill="none"/><path d="M338.5,566.1C338.5,575.5 272.6,575.5 272.6,584.8" stroke="#5e5e5e" stroke-width="0.45" stroke-opacity="0.8" fill="none"/><path d="M199.0,584.8C199.0,593.9 241.6,593.9 241.6,603.0" stroke="#5e5e5e" stroke-width="0.45" stroke-opacity="0.8" fill="none"/><path d="M184.2,584.8C184.2,593.9 330.0,593.9 330.0,603.0" stroke="#5e5e5e" stroke-width="0.45" stroke-opacity="0.8" fill="none"/><path d="M159.0,584.8C159.0,593.9 197.6,593.9 197.6,603.0" stroke="#5e5e5e" stroke-width="0.45" stroke-opacity="0.8" fill="none"/><path d="M169.6,584.8C169.6,593.9 176.2,593.9 176.2,603.0" stroke="#5e5e5e" stroke-width="0.45" stroke-opacity="0.8" fill="none"/><path d="M371.0,584.8C371.0,593.9 339.2,593.9 339.2,603.0" stroke="#5e5e5e" stroke-width="0.45" stroke-opacity="0.8" fill="none"/><path d="M349.5,584.8C349.5,593.9 390.0,593.9 390.0,603.0" stroke="#5e5e5e" stroke-width="0.45" stroke-opacity="0.8" fill="none"/><path d="M150.6,584.8C150.6,593.9 231.9,593.9 231.9,603.0" stroke="#5e5e5e" stroke-width="0.45" stroke-opacity="0.8" fill="none"/><path d="M318.6,584.8C318.6,593.9 249.5,593.9 249.5,603.0" stroke="#5e5e5e" stroke-width="0.45" stroke-opacity="0.8" fill="none"/><path d="M396.7,584.8C396.7,593.9 368.9,593.9 368.9,603.0" stroke="#5e5e5e" stroke-width="0.45" stroke-opacity="0.8" fill="none"/><path d="M173.6,584.8C173.6,593.9 259.4,593.9 259.4,603.0" stroke="#5e5e5e" stroke-width="0.45" stroke-opacity="0.8" fill="none"/><path d="M199.1,584.8C199.1,593.9 219.6,593.9 219.6,603.0" stroke="#5e5e5e" stroke-width="0.45" stroke-opacity="0.8" fill="none"/><path d="M229.6,584.8C229.6,593.9 176.2,593.9 176.2,603.0" stroke="#5e5e5e" stroke-width="0.45" stroke-opacity="0.8" fill="none"/><path d="M358.8,584.8C358.8,593.9 365.1,593.9 365.1,603.0" stroke="#5e5e5e" stroke-width="0.45" stroke-opacity="0.8" fill="none"/><path d="M252.3,584.8C252.3,593.9 297.7,593.9 297.7,603.0" stroke="#5e5e5e" stroke-width="0.45" stroke-opacity="0.8" fill="none"/><path d="M294.9,584.8C294.9,593.9 338.1,593.9 338.1,603.0" stroke="#5e5e5e" stroke-width="0.45" stroke-opacity="0.8" fill="none"/><path d="M242.1,584.8C242.1,593.9 176.2,593.9 176.2,603.0" stroke="#5e5e5e" stroke-width="0.45" stroke-opacity="0.8" fill="none"/><path d="M190.4,584.8C190.4,593.9 260.5,593.9 260.5,603.0" stroke="#5e5e5e" stroke-width="0.45" stroke-opacity="0.8" fill="none"/><path d="M265.0,584.8C265.0,593.9 176.3,593.9 176.3,603.0" stroke="#5e5e5e" stroke-width="0.45" stroke-opacity="0.8" fill="none"/><path d="M262.1,584.8C262.1,593.9 321.7,593.9 321.7,603.0" stroke="#5e5e5e" stroke-width="0.45" stroke-opacity="0.8" fill="none"/><path d="M251.0,584.8C251.0,593.9 178.9,593.9 178.9,603.0" stroke="#5e5e5e" stroke-width="0.45" stroke-opacity="0.8" fill="none"/><path d="M177.6,584.8C177.6,593.9 176.2,593.9 176.2,603.0" stroke="#5e5e5e" stroke-width="0.45" stroke-opacity="0.8" fill="none"/><path d="M239.5,584.8C239.5,593.9 211.9,593.9 211.9,603.0" stroke="#5e5e5e" stroke-width="0.45" stroke-opacity="0.8" fill="none"/><path d="M204.2,584.8C204.2,593.9 176.2,593.9 176.2,603.0" stroke="#5e5e5e" stroke-width="0.45" stroke-opacity="0.8" fill="none"/><path d="M213.1,584.8C213.1,593.9 209.8,593.9 209.8,603.0" stroke="#5e5e5e" stroke-width="0.45" stroke-opacity="0.8" fill="none"/><path d="M144.8,584.8C144.8,593.9 262.8,593.9 262.8,603.0" stroke="#5e5e5e" stroke-width="0.45" stroke-opacity="0.8" fill="none"/><path d="M387.4,584.8C387.4,593.9 334.4,593.9 334.4,603.0" stroke="#5e5e5e" stroke-width="0.45" stroke-opacity="0.8" fill="none"/><path d="M287.0,603.0C287.0,612.2 237.2,612.2 237.2,621.4" stroke="#5e5e5e" stroke-width="0.45" stroke-opacity="0.8" fill="none"/><path d="M333.2,603.0C333.2,612.2 364.6,612.2 364.6,621.4" stroke="#5e5e5e" stroke-width="0.45" stroke-opacity="0.8" fill="none"/><path d="M347.4,603.0C347.4,612.2 293.6,612.2 293.6,621.4" stroke="#5e5e5e" stroke-width="0.45" stroke-opacity="0.8" fill="none"/><path d="M182.1,603.0C182.1,612.2 214.0,612.2 214.0,621.4" stroke="#5e5e5e" stroke-width="0.45" stroke-opacity="0.8" fill="none"/><path d="M270.4,603.0C270.4,612.2 285.8,612.2 285.8,621.4" stroke="#5e5e5e" stroke-width="0.45" stroke-opacity="0.8" fill="none"/><path d="M249.4,603.0C249.4,612.2 214.0,612.2 214.0,621.4" stroke="#5e5e5e" stroke-width="0.45" stroke-opacity="0.8" fill="none"/><path d="M348.2,603.0C348.2,612.2 246.2,612.2 246.2,621.4" stroke="#5e5e5e" stroke-width="0.45" stroke-opacity="0.8" fill="none"/><path d="M232.7,603.0C232.7,612.2 399.3,612.2 399.3,621.4" stroke="#5e5e5e" stroke-width="0.45" stroke-opacity="0.8" fill="none"/><path d="M327.9,603.0C327.9,612.2 411.0,612.2 411.0,621.4" stroke="#5e5e5e" stroke-width="0.45" stroke-opacity="0.8" fill="none"/><path d="M177.7,603.0C177.7,612.2 227.9,612.2 227.9,621.4" stroke="#5e5e5e" stroke-width="0.45" stroke-opacity="0.8" fill="none"/><path d="M272.5,603.0C272.5,612.2 281.2,612.2 281.2,621.4" stroke="#5e5e5e" stroke-width="0.45" stroke-opacity="0.8" fill="none"/><path d="M408.6,603.0C408.6,612.2 381.6,612.2 381.6,621.4" stroke="#5e5e5e" stroke-width="0.45" stroke-opacity="0.8" fill="none"/><path d="M198.2,603.0C198.2,612.2 270.0,612.2 270.0,621.4" stroke="#5e5e5e" stroke-width="0.45" stroke-opacity="0.8" fill="none"/><path d="M291.5,603.0C291.5,612.2 224.6,612.2 224.6,621.4" stroke="#5e5e5e" stroke-width="0.45" stroke-opacity="0.8" fill="none"/><path d="M233.4,603.0C233.4,612.2 214.9,612.2 214.9,621.4" stroke="#5e5e5e" stroke-width="0.45" stroke-opacity="0.8" fill="none"/><path d="M190.3,603.0C190.3,612.2 214.0,612.2 214.0,621.4" stroke="#5e5e5e" stroke-width="0.45" stroke-opacity="0.8" fill="none"/><path d="M248.0,603.0C248.0,612.2 214.0,612.2 214.0,621.4" stroke="#5e5e5e" stroke-width="0.45" stroke-opacity="0.8" fill="none"/><path d="M404.3,603.0C404.3,612.2 405.9,612.2 405.9,621.4" stroke="#5e5e5e" stroke-width="0.45" stroke-opacity="0.8" fill="none"/><path d="M270.7,603.0C270.7,612.2 214.0,612.2 214.0,621.4" stroke="#5e5e5e" stroke-width="0.45" stroke-opacity="0.8" fill="none"/><path d="M249.9,603.0C249.9,612.2 257.4,612.2 257.4,621.4" stroke="#5e5e5e" stroke-width="0.45" stroke-opacity="0.8" fill="none"/><path d="M392.5,603.0C392.5,612.2 411.0,612.2 411.0,621.4" stroke="#5e5e5e" stroke-width="0.45" stroke-opacity="0.8" fill="none"/><path d="M226.5,603.0C226.5,612.2 233.7,612.2 233.7,621.4" stroke="#5e5e5e" stroke-width="0.45" stroke-opacity="0.8" fill="none"/><path d="M290.4,603.0C290.4,612.2 268.2,612.2 268.2,621.4" stroke="#5e5e5e" stroke-width="0.45" stroke-opacity="0.8" fill="none"/><path d="M323.0,603.0C323.0,612.2 393.9,612.2 393.9,621.4" stroke="#5e5e5e" stroke-width="0.45" stroke-opacity="0.8" fill="none"/><path d="M248.4,603.0C248.4,612.2 307.2,612.2 307.2,621.4" stroke="#5e5e5e" stroke-width="0.45" stroke-opacity="0.8" fill="none"/><path d="M228.8,603.0C228.8,612.2 214.0,612.2 214.0,621.4" stroke="#5e5e5e" stroke-width="0.45" stroke-opacity="0.8" fill="none"/><path d="M231.3,621.4C231.3,630.7 375.2,630.7 375.2,640.0" stroke="#5e5e5e" stroke-width="0.45" stroke-opacity="0.8" fill="none"/><path d="M275.6,621.4C275.6,630.7 213.0,630.7 213.0,640.0" stroke="#5e5e5e" stroke-width="0.45" stroke-opacity="0.8" fill="none"/><path d="M262.2,621.4C262.2,630.7 249.4,630.7 249.4,640.0" stroke="#5e5e5e" stroke-width="0.45" stroke-opacity="0.8" fill="none"/><path d="M327.7,621.4C327.7,630.7 248.7,630.7 248.7,640.0" stroke="#5e5e5e" stroke-width="0.45" stroke-opacity="0.8" fill="none"/><path d="M352.0,621.4C352.0,630.7 298.0,630.7 298.0,640.0" stroke="#5e5e5e" stroke-width="0.45" stroke-opacity="0.8" fill="none"/><path d="M270.3,621.4C270.3,630.7 213.0,630.7 213.0,640.0" stroke="#5e5e5e" stroke-width="0.45" stroke-opacity="0.8" fill="none"/><path d="M296.9,621.4C296.9,630.7 342.3,630.7 342.3,640.0" stroke="#5e5e5e" stroke-width="0.45" stroke-opacity="0.8" fill="none"/><path d="M323.5,621.4C323.5,630.7 342.5,630.7 342.5,640.0" stroke="#5e5e5e" stroke-width="0.45" stroke-opacity="0.8" fill="none"/><path d="M363.7,621.4C363.7,630.7 353.3,630.7 353.3,640.0" stroke="#5e5e5e" stroke-width="0.45" stroke-opacity="0.8" fill="none"/><path d="M374.9,621.4C374.9,630.7 402.0,630.7 402.0,640.0" stroke="#5e5e5e" stroke-width="0.45" stroke-opacity="0.8" fill="none"/><path d="M357.4,621.4C357.4,630.7 266.0,630.7 266.0,640.0" stroke="#5e5e5e" stroke-width="0.45" stroke-opacity="0.8" fill="none"/><path d="M374.0,621.4C374.0,630.7 307.4,630.7 307.4,640.0" stroke="#5e5e5e" stroke-width="0.45" stroke-opacity="0.8" fill="none"/><path d="M227.0,621.4C227.0,630.7 213.0,630.7 213.0,640.0" stroke="#5e5e5e" stroke-width="0.45" stroke-opacity="0.8" fill="none"/><path d="M347.2,621.4C347.2,630.7 268.6,630.7 268.6,640.0" stroke="#5e5e5e" stroke-width="0.45" stroke-opacity="0.8" fill="none"/><path d="M364.5,621.4C364.5,630.7 279.4,630.7 279.4,640.0" stroke="#5e5e5e" stroke-width="0.45" stroke-opacity="0.8" fill="none"/><path d="M224.0,621.4C224.0,630.7 213.0,630.7 213.0,640.0" stroke="#5e5e5e" stroke-width="0.45" stroke-opacity="0.8" fill="none"/><path d="M383.4,621.4C383.4,630.7 334.2,630.7 334.2,640.0" stroke="#5e5e5e" stroke-width="0.45" stroke-opacity="0.8" fill="none"/><path d="M259.5,621.4C259.5,630.7 234.8,630.7 234.8,640.0" stroke="#5e5e5e" stroke-width="0.45" stroke-opacity="0.8" fill="none"/><path d="M279.1,621.4C279.1,630.7 294.3,630.7 294.3,640.0" stroke="#5e5e5e" stroke-width="0.45" stroke-opacity="0.8" fill="none"/><path d="M376.9,621.4C376.9,630.7 231.9,630.7 231.9,640.0" stroke="#5e5e5e" stroke-width="0.45" stroke-opacity="0.8" fill="none"/><path d="M318.5,621.4C318.5,630.7 356.2,630.7 356.2,640.0" stroke="#5e5e5e" stroke-width="0.45" stroke-opacity="0.8" fill="none"/><path d="M301.9,621.4C301.9,630.7 370.4,630.7 370.4,640.0" stroke="#5e5e5e" stroke-width="0.45" stroke-opacity="0.8" fill="none"/><path d="M237.3,621.4C237.3,630.7 312.0,630.7 312.0,640.0" stroke="#5e5e5e" stroke-width="0.45" stroke-opacity="0.8" fill="none"/><path d="M304.8,621.4C304.8,630.7 294.3,630.7 294.3,640.0" stroke="#5e5e5e" stroke-width="0.45" stroke-opacity="0.8" fill="none"/><path d="M365.2,621.4C365.2,630.7 318.5,630.7 318.5,640.0" stroke="#5e5e5e" stroke-width="0.45" stroke-opacity="0.8" fill="none"/><path d="M405.0,621.4C405.0,630.7 333.7,630.7 333.7,640.0" stroke="#5e5e5e" stroke-width="0.45" stroke-opacity="0.8" fill="none"/><path d="M158.1,549.4C158.1,584.4 406.7,584.4 406.7,619.4" stroke="#777" stroke-width="0.4" stroke-opacity="0.7" fill="none"/><path d="M223.7,494.2C223.7,529.1 329.8,529.1 329.8,564.1" stroke="#777" stroke-width="0.4" stroke-opacity="0.7" fill="none"/><path d="M257.0,531.1C257.0,557.0 201.1,557.0 201.1,582.8" stroke="#777" stroke-width="0.4" stroke-opacity="0.7" fill="none"/><path d="M255.3,512.8C255.3,538.5 241.0,538.5 241.0,564.1" stroke="#777" stroke-width="0.4" stroke-opacity="0.7" fill="none"/><path d="M195.7,512.8C195.7,538.5 213.3,538.5 213.3,564.1" stroke="#777" stroke-width="0.4" stroke-opacity="0.7" fill="none"/><path d="M301.7,586.8C301.7,603.1 293.0,603.1 293.0,619.4" stroke="#777" stroke-width="0.4" stroke-opacity="0.7" fill="none"/><path d="M331.4,512.8C331.4,529.1 261.6,529.1 261.6,545.4" stroke="#777" stroke-width="0.4" stroke-opacity="0.7" fill="none"/><path d="M207.1,494.2C207.1,510.6 182.2,510.6 182.2,527.1" stroke="#777" stroke-width="0.4" stroke-opacity="0.7" fill="none"/><path d="M377.3,586.8C377.3,612.4 252.5,612.4 252.5,638.0" stroke="#777" stroke-width="0.4" stroke-opacity="0.7" fill="none"/><path d="M301.7,531.1C301.7,557.0 369.2,557.0 369.2,582.8" stroke="#777" stroke-width="0.4" stroke-opacity="0.7" fill="none"/><path d="M351.8,568.1C351.8,584.5 264.6,584.5 264.6,601.0" stroke="#777" stroke-width="0.4" stroke-opacity="0.7" fill="none"/><path d="M293.2,494.2C293.2,510.6 282.0,510.6 282.0,527.1" stroke="#777" stroke-width="0.4" stroke-opacity="0.7" fill="none"/><path d="M102.5,512.8C102.5,538.5 322.9,538.5 322.9,564.1" stroke="#777" stroke-width="0.4" stroke-opacity="0.7" fill="none"/><path d="M275.3,568.1C275.3,593.8 312.7,593.8 312.7,619.4" stroke="#777" stroke-width="0.4" stroke-opacity="0.7" fill="none"/><path d="M322.5,568.1C322.5,603.0 302.1,603.0 302.1,638.0" stroke="#777" stroke-width="0.4" stroke-opacity="0.7" fill="none"/><path d="M287.0,568.1C287.0,603.0 225.1,603.0 225.1,638.0" stroke="#777" stroke-width="0.4" stroke-opacity="0.7" fill="none"/><path d="M198.8,512.8C198.8,538.5 301.4,538.5 301.4,564.1" stroke="#777" stroke-width="0.4" stroke-opacity="0.7" fill="none"/><path d="M191.6,586.8C191.6,612.4 269.7,612.4 269.7,638.0" stroke="#777" stroke-width="0.4" stroke-opacity="0.7" fill="none"/><path d="M359.1,494.2C359.1,510.6 286.9,510.6 286.9,527.1" stroke="#777" stroke-width="0.4" stroke-opacity="0.7" fill="none"/><path d="M218.4,586.8C218.4,612.4 397.0,612.4 397.0,638.0" stroke="#777" stroke-width="0.4" stroke-opacity="0.7" fill="none"/><path d="M210.0,531.1C210.0,566.0 185.1,566.0 185.1,601.0" stroke="#777" stroke-width="0.4" stroke-opacity="0.7" fill="none"/><path d="M406.4,494.2C406.4,529.1 226.7,529.1 226.7,564.1" stroke="#777" stroke-width="0.4" stroke-opacity="0.7" fill="none"/><path d="M325.9,531.1C325.9,566.0 395.1,566.0 395.1,601.0" stroke="#777" stroke-width="0.4" stroke-opacity="0.7" fill="none"/><path d="M288.2,568.1C288.2,603.0 308.7,603.0 308.7,638.0" stroke="#777" stroke-width="0.4" stroke-opacity="0.7" fill="none"/><path d="M224.6,494.2C224.6,510.6 361.4,510.6 361.4,527.1" stroke="#777" stroke-width="0.4" stroke-opacity="0.7" fill="none"/><path d="M243.3,568.1C243.3,593.8 214.6,593.8 214.6,619.4" stroke="#777" stroke-width="0.4" stroke-opacity="0.7" fill="none"/><path d="M187.3,549.4C187.3,575.2 329.5,575.2 329.5,601.0" stroke="#777" stroke-width="0.4" stroke-opacity="0.7" fill="none"/><path d="M269.7,512.8C269.7,547.8 248.2,547.8 248.2,582.8" stroke="#777" stroke-width="0.4" stroke-opacity="0.7" fill="none"/><path d="M388.1,494.2C388.1,529.1 325.5,529.1 325.5,564.1" stroke="#777" stroke-width="0.4" stroke-opacity="0.7" fill="none"/><path d="M343.4,531.1C343.4,547.6 204.2,547.6 204.2,564.1" stroke="#777" stroke-width="0.4" stroke-opacity="0.7" fill="none"/><path d="M325.1,531.1C325.1,557.0 169.8,557.0 169.8,582.8" stroke="#777" stroke-width="0.4" stroke-opacity="0.7" fill="none"/><path d="M275.2,512.8C275.2,529.1 324.6,529.1 324.6,545.4" stroke="#777" stroke-width="0.4" stroke-opacity="0.7" fill="none"/><path d="M113.9,512.8C113.9,547.8 293.7,547.8 293.7,582.8" stroke="#777" stroke-width="0.4" stroke-opacity="0.7" fill="none"/><path d="M331.2,586.8C331.2,612.4 295.5,612.4 295.5,638.0" stroke="#777" stroke-width="0.4" stroke-opacity="0.7" fill="none"/><path d="M268.6,549.4C268.6,575.2 388.6,575.2 388.6,601.0" stroke="#777" stroke-width="0.4" stroke-opacity="0.7" fill="none"/><path d="M219.4,531.1C219.4,557.0 303.8,557.0 303.8,582.8" stroke="#777" stroke-width="0.4" stroke-opacity="0.7" fill="none"/><path d="M248.3,531.1C248.3,547.6 188.0,547.6 188.0,564.1" stroke="#777" stroke-width="0.4" stroke-opacity="0.7" fill="none"/><path d="M275.6,531.1C275.6,566.0 308.5,566.0 308.5,601.0" stroke="#777" stroke-width="0.4" stroke-opacity="0.7" fill="none"/><path d="M221.6,549.4C221.6,566.1 176.0,566.1 176.0,582.8" stroke="#777" stroke-width="0.4" stroke-opacity="0.7" fill="none"/><path d="M331.4,586.8C331.4,612.4 225.2,612.4 225.2,638.0" stroke="#777" stroke-width="0.4" stroke-opacity="0.7" fill="none"/><path d="M146.4,510.8C206.4,510.8 214.1,492.2 274.1,492.2" stroke="#707070" stroke-width="0.45" stroke-opacity="0.8" fill="none"/><path d="M184.4,510.8C244.4,510.8 317.5,529.1 377.5,529.1" stroke="#707070" stroke-width="0.45" stroke-opacity="0.8" fill="none"/><path d="M119.8,510.8C179.8,510.8 302.8,529.1 362.8,529.1" stroke="#707070" stroke-width="0.45" stroke-opacity="0.8" fill="none"/><path d="M96.2,510.8C156.2,510.8 179.0,492.2 239.0,492.2" stroke="#707070" stroke-width="0.45" stroke-opacity="0.8" fill="none"/><path d="M130.9,510.8C190.9,510.8 264.7,529.1 324.7,529.1" stroke="#707070" stroke-width="0.45" stroke-opacity="0.8" fill="none"/><path d="M106.9,510.8C166.9,510.8 285.2,529.1 345.2,529.1" stroke="#707070" stroke-width="0.45" stroke-opacity="0.8" fill="none"/><path d="M180.9,510.8C240.9,510.8 281.2,492.2 341.2,492.2" stroke="#707070" stroke-width="0.45" stroke-opacity="0.8" fill="none"/><path d="M192.1,510.8C252.1,510.8 222.1,492.2 282.1,492.2" stroke="#707070" stroke-width="0.45" stroke-opacity="0.8" fill="none"/><path d="M180.7,510.8C240.7,510.8 195.1,492.2 255.1,492.2" stroke="#707070" stroke-width="0.45" stroke-opacity="0.8" fill="none"/><path d="M134.9,510.8C194.9,510.8 311.5,529.1 371.5,529.1" stroke="#707070" stroke-width="0.45" stroke-opacity="0.8" fill="none"/><path d="M198.7,510.8C258.7,510.8 201.8,492.2 261.8,492.2" stroke="#707070" stroke-width="0.45" stroke-opacity="0.8" fill="none"/><path d="M193.9,510.8C253.9,510.8 223.8,529.1 283.8,529.1" stroke="#707070" stroke-width="0.45" stroke-opacity="0.8" fill="none"/><path d="M108.2,510.8C168.2,510.8 182.6,529.1 242.6,529.1" stroke="#707070" stroke-width="0.45" stroke-opacity="0.8" fill="none"/><path d="M96.3,510.8C156.3,510.8 323.7,529.1 383.7,529.1" stroke="#707070" stroke-width="0.45" stroke-opacity="0.8" fill="none"/><path d="M194.3,510.8C254.3,510.8 243.4,492.2 303.4,492.2" stroke="#707070" stroke-width="0.45" stroke-opacity="0.8" fill="none"/><path d="M193.5,510.8C253.5,510.8 162.7,529.1 222.7,529.1" stroke="#707070" stroke-width="0.45" stroke-opacity="0.8" fill="none"/><path d="M180.2,510.8C240.2,510.8 287.7,529.1 347.7,529.1" stroke="#707070" stroke-width="0.45" stroke-opacity="0.8" fill="none"/><path d="M116.3,510.8C176.3,510.8 225.0,529.1 285.0,529.1" stroke="#707070" stroke-width="0.45" stroke-opacity="0.8" fill="none"/><path d="M126.2,510.8C186.2,510.8 269.2,529.1 329.2,529.1" stroke="#707070" stroke-width="0.45" stroke-opacity="0.8" fill="none"/><path d="M175.7,510.8C235.7,510.8 257.9,492.2 317.9,492.2" stroke="#707070" stroke-width="0.45" stroke-opacity="0.8" fill="none"/><path d="M126.8,510.8C186.8,510.8 320.3,529.1 380.3,529.1" stroke="#707070" stroke-width="0.45" stroke-opacity="0.8" fill="none"/><path d="M102.6,510.8C162.6,510.8 168.6,529.1 228.6,529.1" stroke="#707070" stroke-width="0.45" stroke-opacity="0.8" fill="none"/><path d="M139.8,510.8C199.8,510.8 206.1,492.2 266.1,492.2" stroke="#707070" stroke-width="0.45" stroke-opacity="0.8" fill="none"/><path d="M170.9,510.8C230.9,510.8 206.1,492.2 266.1,492.2" stroke="#707070" stroke-width="0.45" stroke-opacity="0.8" fill="none"/><path d="M106.0,510.8C166.0,510.8 233.5,529.1 293.5,529.1" stroke="#707070" stroke-width="0.45" stroke-opacity="0.8" fill="none"/><path d="M237.3,474.0C237.3,483.1 244.8,483.1 244.8,492.2" stroke="#8a8a8a" stroke-width="0.45" stroke-opacity="0.7" fill="none"/><path d="M287.3,474.0C287.3,483.1 246.9,483.1 246.9,492.2" stroke="#8a8a8a" stroke-width="0.45" stroke-opacity="0.7" fill="none"/><path d="M257.5,474.0C257.5,483.1 207.8,483.1 207.8,492.2" stroke="#8a8a8a" stroke-width="0.45" stroke-opacity="0.7" fill="none"/><path d="M230.2,474.0C230.2,483.1 235.6,483.1 235.6,492.2" stroke="#8a8a8a" stroke-width="0.45" stroke-opacity="0.7" fill="none"/><path d="M234.4,474.0C234.4,483.1 239.3,483.1 239.3,492.2" stroke="#8a8a8a" stroke-width="0.45" stroke-opacity="0.7" fill="none"/><path d="M225.6,474.0C225.6,483.1 210.6,483.1 210.6,492.2" stroke="#8a8a8a" stroke-width="0.45" stroke-opacity="0.7" fill="none"/><path d="M294.8,474.0C294.8,483.1 304.3,483.1 304.3,492.2" stroke="#8a8a8a" stroke-width="0.45" stroke-opacity="0.7" fill="none"/><path d="M229.8,474.0C229.8,483.1 247.5,483.1 247.5,492.2" stroke="#8a8a8a" stroke-width="0.45" stroke-opacity="0.7" fill="none"/><path d="M238.3,474.0C238.3,483.1 242.6,483.1 242.6,492.2" stroke="#8a8a8a" stroke-width="0.45" stroke-opacity="0.7" fill="none"/><path d="M224.9,474.0C224.9,483.1 206.4,483.1 206.4,492.2" stroke="#8a8a8a" stroke-width="0.45" stroke-opacity="0.7" fill="none"/><path d="M294.8,474.0C294.8,483.1 282.6,483.1 282.6,492.2" stroke="#8a8a8a" stroke-width="0.45" stroke-opacity="0.7" fill="none"/><path d="M286.1,474.0C286.1,483.1 263.7,483.1 263.7,492.2" stroke="#8a8a8a" stroke-width="0.45" stroke-opacity="0.7" fill="none"/></g>
<g><path d="M164.0,510.8L184.0,510.8C184.0,520.0 186.0,520.0 186.0,529.1L166.0,529.1C166.0,520.0 164.0,520.0 164.0,510.8Z" fill="#e2e2e2"/><path d="M224.0,437.3L235.0,437.3C235.0,446.5 235.0,446.5 235.0,455.7L224.0,455.7C224.0,446.5 224.0,446.5 224.0,437.3Z" fill="#000"/><path d="M235.9,437.3L250.0,437.3C250.0,446.5 250.0,446.5 250.0,455.7L235.9,455.7C235.9,446.5 235.9,446.5 235.9,437.3Z" fill="#000"/><path d="M250.8,437.3L271.6,437.3C271.6,446.5 271.6,446.5 271.6,455.7L250.8,455.7C250.8,446.5 250.8,446.5 250.8,437.3Z" fill="#000"/><path d="M272.6,437.3L298.0,437.3C298.0,446.5 298.0,446.5 298.0,455.7L272.6,455.7C272.6,446.5 272.6,446.5 272.6,437.3Z" fill="#000"/><path d="M299.0,437.3L318.5,437.3C318.5,446.5 318.5,446.5 318.5,455.7L299.0,455.7C299.0,446.5 299.0,446.5 299.0,437.3Z" fill="#2b2b2b"/><path d="M224.0,455.7L235.0,455.7C235.0,464.9 235.0,464.9 235.0,474.0L224.0,474.0C224.0,464.9 224.0,464.9 224.0,455.7Z" fill="#000"/><path d="M235.9,455.7L250.0,455.7C250.0,464.9 250.0,464.9 250.0,474.0L235.9,474.0C235.9,464.9 235.9,464.9 235.9,455.7Z" fill="#000"/><path d="M250.8,455.7L271.6,455.7C271.6,464.9 271.6,464.9 271.6,474.0L250.8,474.0C250.8,464.9 250.8,464.9 250.8,455.7Z" fill="#000"/><path d="M272.6,455.7L298.0,455.7C298.0,464.9 298.0,464.9 298.0,474.0L272.6,474.0C272.6,464.9 272.6,464.9 272.6,455.7Z" fill="#000"/><path d="M299.0,455.7L313.5,455.7C313.5,464.9 306.0,464.9 306.0,474.0L299.0,474.0C299.0,464.9 299.0,464.9 299.0,455.7Z" fill="#5e5e5e"/><path d="M306.0,455.7L313.5,455.7C313.5,464.9 313.5,464.9 313.5,474.0L306.0,474.0C306.0,464.9 306.0,464.9 306.0,455.7Z" fill="#9a9a9a" fill-opacity="0.6"/><path d="M300.0,474.0L314.0,474.0C314.0,483.1 346.0,483.1 346.0,492.2L318.0,492.2C318.0,483.1 300.0,483.1 300.0,474.0Z" fill="#dcdcdc"/><path d="M273.0,474.0L298.0,474.0C298.0,483.1 317.0,483.1 317.0,492.2L291.0,492.2C291.0,483.1 273.0,483.1 273.0,474.0Z" fill="#d2d2d2"/><path d="M236.0,492.2L246.0,492.2C246.0,501.5 236.0,501.5 236.0,510.8L226.0,510.8C226.0,501.5 236.0,501.5 236.0,492.2Z" fill="#000"/><path d="M248.0,492.2L258.0,492.2C258.0,501.5 249.0,501.5 249.0,510.8L238.0,510.8C238.0,501.5 248.0,501.5 248.0,492.2Z" fill="#000"/><path d="M260.0,492.2L270.0,492.2C270.0,501.5 262.0,501.5 262.0,510.8L251.0,510.8C251.0,501.5 260.0,501.5 260.0,492.2Z" fill="#999"/><path d="M272.0,492.2L290.0,492.2C290.0,501.5 271.0,501.5 271.0,510.8L262.0,510.8C262.0,501.5 272.0,501.5 272.0,492.2Z" fill="#c4c4c4"/><path d="M291.0,492.2L394.0,492.2C394.0,501.5 379.0,501.5 379.0,510.8L272.0,510.8C272.0,501.5 291.0,501.5 291.0,492.2Z" fill="#000"/><path d="M226.0,510.8L236.0,510.8C236.0,520.0 246.0,520.0 246.0,529.1L236.0,529.1C236.0,520.0 226.0,520.0 226.0,510.8Z" fill="#000"/><path d="M238.0,510.8L249.0,510.8C249.0,520.0 260.0,520.0 260.0,529.1L249.0,529.1C249.0,520.0 238.0,520.0 238.0,510.8Z" fill="#000"/><path d="M251.0,510.8L262.0,510.8C262.0,520.0 270.0,520.0 270.0,529.1L262.0,529.1C262.0,520.0 251.0,520.0 251.0,510.8Z" fill="#aaa"/><path d="M272.5,510.8L289.5,510.8C289.5,520.0 289.5,520.0 289.5,529.1L272.5,529.1C272.5,520.0 272.5,520.0 272.5,510.8Z" fill="url(#cg1)"/><path d="M289.5,510.8L298.0,510.8C298.0,520.0 298.0,520.0 298.0,529.1L289.5,529.1C289.5,520.0 289.5,520.0 289.5,510.8Z" fill="#000"/><path d="M302.0,510.8L372.0,510.8C372.0,520.0 366.0,520.0 366.0,529.1L302.0,529.1C302.0,520.0 302.0,520.0 302.0,510.8Z" fill="#000"/><path d="M272.5,529.1L289.5,529.1C289.5,538.2 289.5,538.2 289.5,547.4L272.5,547.4C272.5,538.2 272.5,538.2 272.5,529.1Z" fill="#2e2e2e"/><path d="M289.5,529.1L298.0,529.1C298.0,538.2 298.0,538.2 298.0,547.4L289.5,547.4C289.5,538.2 289.5,538.2 289.5,529.1Z" fill="#000"/><path d="M147.0,547.4L152.0,547.4C152.0,556.8 156.0,556.8 156.0,566.1L151.0,566.1C151.0,556.8 147.0,556.8 147.0,547.4Z" fill="#000"/><path d="M153.0,547.4L160.0,547.4C160.0,556.8 164.0,556.8 164.0,566.1L157.0,566.1C157.0,556.8 153.0,556.8 153.0,547.4Z" fill="#000"/><path d="M161.0,547.4L168.0,547.4C168.0,556.8 172.0,556.8 172.0,566.1L165.0,566.1C165.0,556.8 161.0,556.8 161.0,547.4Z" fill="#000"/><path d="M169.0,547.4L177.0,547.4C177.0,556.8 181.0,556.8 181.0,566.1L173.0,566.1C173.0,556.8 169.0,556.8 169.0,547.4Z" fill="#000"/><path d="M178.0,547.4L186.0,547.4C186.0,556.8 188.0,556.8 188.0,566.1L182.0,566.1C182.0,556.8 178.0,556.8 178.0,547.4Z" fill="#666"/><path d="M272.5,547.4L289.5,547.4C289.5,556.8 289.5,556.8 289.5,566.1L272.5,566.1C272.5,556.8 272.5,556.8 272.5,547.4Z" fill="url(#cg1)"/><path d="M289.5,547.4L298.0,547.4C298.0,556.8 298.0,556.8 298.0,566.1L289.5,566.1C289.5,556.8 289.5,556.8 289.5,547.4Z" fill="#111"/><path d="M300.0,547.4L318.0,547.4C318.0,556.8 322.0,556.8 322.0,566.1L306.0,566.1C306.0,556.8 300.0,556.8 300.0,547.4Z" fill="#000"/><path d="M320.0,547.4L336.0,547.4C336.0,556.8 342.0,556.8 342.0,566.1L326.0,566.1C326.0,556.8 320.0,556.8 320.0,547.4Z" fill="#000"/><path d="M338.0,547.4L352.0,547.4C352.0,556.8 356.0,556.8 356.0,566.1L344.0,566.1C344.0,556.8 338.0,556.8 338.0,547.4Z" fill="#000"/><path d="M354.0,547.4L366.0,547.4C366.0,556.8 366.0,556.8 366.0,566.1L356.0,566.1C356.0,556.8 354.0,556.8 354.0,547.4Z" fill="#000"/><path d="M367.0,547.4L378.0,547.4C378.0,556.8 375.0,556.8 375.0,566.1L366.0,566.1C366.0,556.8 367.0,556.8 367.0,547.4Z" fill="#000"/><path d="M272.5,566.1L289.5,566.1C289.5,575.5 289.5,575.5 289.5,584.8L272.5,584.8C272.5,575.5 272.5,575.5 272.5,566.1Z" fill="#262626"/><path d="M289.5,566.1L298.0,566.1C298.0,575.5 298.0,575.5 298.0,584.8L289.5,584.8C289.5,575.5 289.5,575.5 289.5,566.1Z" fill="#111"/><path d="M150.0,566.1L181.0,566.1C181.0,575.5 230.0,575.5 230.0,584.8L200.0,584.8C200.0,575.5 150.0,575.5 150.0,566.1Z" fill="#d0d0d0" fill-opacity="0.7"/><path d="M182.4,584.8L190.0,584.8C190.0,593.9 195.0,593.9 195.0,603.0L187.5,603.0C187.5,593.9 182.4,593.9 182.4,584.8Z" fill="#111"/><path d="M191.0,584.8L199.0,584.8C199.0,593.9 203.0,593.9 203.0,603.0L196.0,603.0C196.0,593.9 191.0,593.9 191.0,584.8Z" fill="#111"/><path d="M200.0,584.8L208.0,584.8C208.0,593.9 210.0,593.9 210.0,603.0L204.0,603.0C204.0,593.9 200.0,593.9 200.0,584.8Z" fill="#111"/><path d="M209.0,584.8L216.0,584.8C216.0,593.9 216.0,593.9 216.0,603.0L211.0,603.0C211.0,593.9 209.0,593.9 209.0,584.8Z" fill="#111"/><path d="M224.0,584.8L227.4,584.8C227.4,593.9 227.4,593.9 227.4,603.0L224.0,603.0C224.0,593.9 224.0,593.9 224.0,584.8Z" fill="#000"/><path d="M233.5,584.8L242.2,584.8C242.2,593.9 242.2,593.9 242.2,603.0L233.5,603.0C233.5,593.9 233.5,593.9 233.5,584.8Z" fill="#000"/><path d="M243.2,584.8L248.8,584.8C248.8,593.9 248.8,593.9 248.8,603.0L243.2,603.0C243.2,593.9 243.2,593.9 243.2,584.8Z" fill="#1a1a1a"/><path d="M249.6,584.8L298.2,584.8C298.2,593.9 298.2,593.9 298.2,603.0L249.6,603.0C249.6,593.9 249.6,593.9 249.6,584.8Z" fill="#000"/><path d="M298.2,584.8L305.0,584.8C305.0,593.9 305.0,593.9 305.0,603.0L298.2,603.0C298.2,593.9 298.2,593.9 298.2,584.8Z" fill="#f4f4f4"/><path d="M305.0,584.8L315.8,584.8C315.8,593.9 315.8,593.9 315.8,603.0L305.0,603.0C305.0,593.9 305.0,593.9 305.0,584.8Z" fill="#000"/><path d="M315.8,584.8L322.0,584.8C322.0,593.9 322.0,593.9 322.0,603.0L315.8,603.0C315.8,593.9 315.8,593.9 315.8,584.8Z" fill="#000"/><path d="M322.0,584.8L340.6,584.8C340.6,593.9 340.6,593.9 340.6,603.0L322.0,603.0C322.0,593.9 322.0,593.9 322.0,584.8Z" fill="#000"/><path d="M340.6,584.8L343.0,584.8C343.0,593.9 343.0,593.9 343.0,603.0L340.6,603.0C340.6,593.9 340.6,593.9 340.6,584.8Z" fill="#444"/><path d="M343.0,584.8L348.0,584.8C348.0,593.9 348.0,593.9 348.0,603.0L343.0,603.0C343.0,593.9 343.0,593.9 343.0,584.8Z" fill="#000"/><path d="M348.0,584.8L351.7,584.8C351.7,593.9 351.7,593.9 351.7,603.0L348.0,603.0C348.0,593.9 348.0,593.9 348.0,584.8Z" fill="#f0f0f0"/><path d="M351.7,584.8L369.0,584.8C369.0,593.9 369.0,593.9 369.0,603.0L351.7,603.0C351.7,593.9 351.7,593.9 351.7,584.8Z" fill="#000"/><path d="M369.8,584.8L377.2,584.8C377.2,593.9 377.2,593.9 377.2,603.0L369.8,603.0C369.8,593.9 369.8,593.9 369.8,584.8Z" fill="#000"/><path d="M378.2,584.8L404.0,584.8C404.0,593.9 404.0,593.9 404.0,603.0L378.2,603.0C378.2,593.9 378.2,593.9 378.2,584.8Z" fill="#000"/><path d="M224.0,603.0L227.4,603.0C227.4,612.2 227.4,612.2 227.4,621.4L224.0,621.4C224.0,612.2 224.0,612.2 224.0,603.0Z" fill="#000"/><path d="M233.5,603.0L242.2,603.0C242.2,612.2 242.2,612.2 242.2,621.4L233.5,621.4C233.5,612.2 233.5,612.2 233.5,603.0Z" fill="#000"/><path d="M243.2,603.0L248.8,603.0C248.8,612.2 248.8,612.2 248.8,621.4L243.2,621.4C243.2,612.2 243.2,612.2 243.2,603.0Z" fill="#1a1a1a"/><path d="M249.6,603.0L298.2,603.0C298.2,612.2 298.2,612.2 298.2,621.4L249.6,621.4C249.6,612.2 249.6,612.2 249.6,603.0Z" fill="#000"/><path d="M298.2,603.0L305.0,603.0C305.0,612.2 305.0,612.2 305.0,621.4L298.2,621.4C298.2,612.2 298.2,612.2 298.2,603.0Z" fill="#f4f4f4"/><path d="M305.0,603.0L315.8,603.0C315.8,612.2 315.8,612.2 315.8,621.4L305.0,621.4C305.0,612.2 305.0,612.2 305.0,603.0Z" fill="#000"/><path d="M315.8,603.0L322.0,603.0C322.0,612.2 322.0,612.2 322.0,621.4L315.8,621.4C315.8,612.2 315.8,612.2 315.8,603.0Z" fill="#000"/><path d="M322.0,603.0L340.6,603.0C340.6,612.2 340.6,612.2 340.6,621.4L322.0,621.4C322.0,612.2 322.0,612.2 322.0,603.0Z" fill="#000"/><path d="M340.6,603.0L343.0,603.0C343.0,612.2 343.0,612.2 343.0,621.4L340.6,621.4C340.6,612.2 340.6,612.2 340.6,603.0Z" fill="#444"/><path d="M343.0,603.0L348.0,603.0C348.0,612.2 348.0,612.2 348.0,621.4L343.0,621.4C343.0,612.2 343.0,612.2 343.0,603.0Z" fill="#000"/><path d="M348.0,603.0L351.7,603.0C351.7,612.2 351.7,612.2 351.7,621.4L348.0,621.4C348.0,612.2 348.0,612.2 348.0,603.0Z" fill="#f0f0f0"/><path d="M351.7,603.0L369.0,603.0C369.0,612.2 369.0,612.2 369.0,621.4L351.7,621.4C351.7,612.2 351.7,612.2 351.7,603.0Z" fill="#000"/><path d="M369.8,603.0L377.2,603.0C377.2,612.2 377.2,612.2 377.2,621.4L369.8,621.4C369.8,612.2 369.8,612.2 369.8,603.0Z" fill="#000"/><path d="M378.2,603.0L404.0,603.0C404.0,612.2 404.0,612.2 404.0,621.4L378.2,621.4C378.2,612.2 378.2,612.2 378.2,603.0Z" fill="#000"/><path d="M404.8,603.0L410.5,603.0C410.5,612.2 410.5,612.2 410.5,621.4L404.8,621.4C404.8,612.2 404.8,612.2 404.8,603.0Z" fill="#000"/><path d="M224.0,621.4L227.4,621.4C227.4,630.7 227.4,630.7 227.4,640.0L224.0,640.0C224.0,630.7 224.0,630.7 224.0,621.4Z" fill="#000"/><path d="M233.5,621.4L242.2,621.4C242.2,630.7 242.2,630.7 242.2,640.0L233.5,640.0C233.5,630.7 233.5,630.7 233.5,621.4Z" fill="#000"/><path d="M243.2,621.4L248.8,621.4C248.8,630.7 248.8,630.7 248.8,640.0L243.2,640.0C243.2,630.7 243.2,630.7 243.2,621.4Z" fill="#1a1a1a"/><path d="M249.6,621.4L298.2,621.4C298.2,630.7 298.2,630.7 298.2,640.0L249.6,640.0C249.6,630.7 249.6,630.7 249.6,621.4Z" fill="#000"/><path d="M298.2,621.4L305.0,621.4C305.0,630.7 305.0,630.7 305.0,640.0L298.2,640.0C298.2,630.7 298.2,630.7 298.2,621.4Z" fill="#f4f4f4"/><path d="M305.0,621.4L315.8,621.4C315.8,630.7 315.8,630.7 315.8,640.0L305.0,640.0C305.0,630.7 305.0,630.7 305.0,621.4Z" fill="#000"/><path d="M315.8,621.4L322.0,621.4C322.0,630.7 322.0,630.7 322.0,640.0L315.8,640.0C315.8,630.7 315.8,630.7 315.8,621.4Z" fill="#000"/><path d="M322.0,621.4L340.6,621.4C340.6,630.7 340.6,630.7 340.6,640.0L322.0,640.0C322.0,630.7 322.0,630.7 322.0,621.4Z" fill="#000"/><path d="M340.6,621.4L343.0,621.4C343.0,630.7 343.0,630.7 343.0,640.0L340.6,640.0C340.6,630.7 340.6,630.7 340.6,621.4Z" fill="#444"/><path d="M343.0,621.4L348.0,621.4C348.0,630.7 348.0,630.7 348.0,640.0L343.0,640.0C343.0,630.7 343.0,630.7 343.0,621.4Z" fill="#000"/><path d="M348.0,621.4L351.7,621.4C351.7,630.7 351.7,630.7 351.7,640.0L348.0,640.0C348.0,630.7 348.0,630.7 348.0,621.4Z" fill="#f0f0f0"/><path d="M351.7,621.4L369.0,621.4C369.0,630.7 369.0,630.7 369.0,640.0L351.7,640.0C351.7,630.7 351.7,630.7 351.7,621.4Z" fill="#000"/><path d="M369.8,621.4L377.2,621.4C377.2,630.7 377.2,630.7 377.2,640.0L369.8,640.0C369.8,630.7 369.8,630.7 369.8,621.4Z" fill="#000"/><path d="M378.2,621.4L404.0,621.4C404.0,630.7 404.0,630.7 404.0,640.0L378.2,640.0C378.2,630.7 378.2,630.7 378.2,621.4Z" fill="#000"/><path d="M404.8,621.4L410.5,621.4C410.5,630.7 410.5,630.7 410.5,640.0L404.8,640.0C404.8,630.7 404.8,630.7 404.8,621.4Z" fill="#000"/></g>
<g><path d="M242.0,439.3C242.0,446.5 256.0,446.5 256.0,453.7" stroke="#ddd" stroke-width="0.7" stroke-opacity="0.9" fill="none"/><path d="M256.0,439.3C256.0,446.5 242.0,446.5 242.0,453.7" stroke="#eee" stroke-width="0.7" stroke-opacity="0.9" fill="none"/><path d="M244.0,439.3C244.0,446.5 251.0,446.5 251.0,453.7" stroke="#ccc" stroke-width="0.7" stroke-opacity="0.9" fill="none"/><path d="M259.0,439.3C259.0,446.5 252.0,446.5 252.0,453.7" stroke="#ddd" stroke-width="0.7" stroke-opacity="0.9" fill="none"/><path d="M262.0,440.3C262.0,446.5 268.0,446.5 268.0,452.7" stroke="#bbb" stroke-width="0.5" stroke-opacity="0.9" fill="none"/><path d="M242.0,457.7C242.0,464.9 256.0,464.9 256.0,472.0" stroke="#ddd" stroke-width="0.7" stroke-opacity="0.9" fill="none"/><path d="M256.0,457.7C256.0,464.9 242.0,464.9 242.0,472.0" stroke="#eee" stroke-width="0.7" stroke-opacity="0.9" fill="none"/><path d="M244.0,457.7C244.0,464.9 251.0,464.9 251.0,472.0" stroke="#ccc" stroke-width="0.7" stroke-opacity="0.9" fill="none"/><path d="M259.0,457.7C259.0,464.9 252.0,464.9 252.0,472.0" stroke="#ddd" stroke-width="0.7" stroke-opacity="0.9" fill="none"/><path d="M262.0,458.7C262.0,464.9 268.0,464.9 268.0,471.0" stroke="#bbb" stroke-width="0.5" stroke-opacity="0.9" fill="none"/><path d="M306.0,493.7C306.0,501.5 298.0,501.5 298.0,509.3" stroke="#fff" stroke-width="1.1" stroke-opacity="0.95" fill="none"/><path d="M318.0,493.7C318.0,501.5 304.0,501.5 304.0,509.3" stroke="#fff" stroke-width="1.1" stroke-opacity="0.95" fill="none"/><path d="M331.0,493.7C331.0,501.5 319.0,501.5 319.0,509.3" stroke="#fff" stroke-width="1.1" stroke-opacity="0.95" fill="none"/><path d="M344.0,493.7C344.0,501.5 328.0,501.5 328.0,509.3" stroke="#fff" stroke-width="1.1" stroke-opacity="0.95" fill="none"/><path d="M356.0,493.7C356.0,501.5 346.0,501.5 346.0,509.3" stroke="#fff" stroke-width="1.1" stroke-opacity="0.95" fill="none"/><path d="M369.0,493.7C369.0,501.5 355.0,501.5 355.0,509.3" stroke="#fff" stroke-width="1.1" stroke-opacity="0.95" fill="none"/><path d="M381.0,493.7C381.0,501.5 373.0,501.5 373.0,509.3" stroke="#fff" stroke-width="1.1" stroke-opacity="0.95" fill="none"/><path d="M300.0,493.7C300.0,501.5 297.0,501.5 297.0,509.3" stroke="#bbb" stroke-width="0.6" stroke-opacity="0.9" fill="none"/><path d="M325.0,493.7C325.0,501.5 309.0,501.5 309.0,509.3" stroke="#bbb" stroke-width="0.6" stroke-opacity="0.9" fill="none"/><path d="M338.0,493.7C338.0,501.5 320.0,501.5 320.0,509.3" stroke="#bbb" stroke-width="0.6" stroke-opacity="0.9" fill="none"/><path d="M362.0,493.7C362.0,501.5 342.0,501.5 342.0,509.3" stroke="#bbb" stroke-width="0.6" stroke-opacity="0.9" fill="none"/><path d="M375.0,493.7C375.0,501.5 363.0,501.5 363.0,509.3" stroke="#bbb" stroke-width="0.6" stroke-opacity="0.9" fill="none"/><path d="M330.0,510.8L346.0,510.8C346.0,520.0 342.0,520.0 342.0,529.1L326.0,529.1C326.0,520.0 330.0,520.0 330.0,510.8Z" fill="#c9c9c9"/><path d="M302.0,510.8L308.0,510.8C308.0,520.0 306.0,520.0 306.0,529.1L302.0,529.1C302.0,520.0 302.0,520.0 302.0,510.8Z" fill="#dedede"/><path d="M316.0,512.3C316.0,520.0 311.0,520.0 311.0,527.6" stroke="#fff" stroke-width="1.0" stroke-opacity="0.95" fill="none"/><path d="M322.0,512.3C322.0,520.0 316.0,520.0 316.0,527.6" stroke="#fff" stroke-width="1.0" stroke-opacity="0.95" fill="none"/><path d="M352.0,512.3C352.0,520.0 344.0,520.0 344.0,527.6" stroke="#fff" stroke-width="1.0" stroke-opacity="0.95" fill="none"/><path d="M362.0,512.3C362.0,520.0 358.0,520.0 358.0,527.6" stroke="#fff" stroke-width="1.0" stroke-opacity="0.95" fill="none"/><path d="M349.0,512.3C349.0,520.0 357.0,520.0 357.0,527.6" stroke="#fff" stroke-width="1.0" stroke-opacity="0.95" fill="none"/><path d="M319.0,548.9C319.0,556.8 324.0,556.8 324.0,564.6" stroke="#fff" stroke-width="1.0" stroke-opacity="0.95" fill="none"/><path d="M337.0,548.9C337.0,556.8 343.0,556.8 343.0,564.6" stroke="#fff" stroke-width="1.0" stroke-opacity="0.95" fill="none"/><path d="M353.0,548.9C353.0,556.8 355.0,556.8 355.0,564.6" stroke="#fff" stroke-width="1.0" stroke-opacity="0.95" fill="none"/><path d="M366.0,548.9C366.0,556.8 365.0,556.8 365.0,564.6" stroke="#fff" stroke-width="1.0" stroke-opacity="0.95" fill="none"/><path d="M301.7,547.4C301.7,556.8 292.2,556.8 292.2,566.1" stroke="#999" stroke-width="0.5" stroke-opacity="0.8" fill="none"/><path d="M357.8,547.4C357.8,556.8 357.8,556.8 357.8,566.1" stroke="#999" stroke-width="0.5" stroke-opacity="0.8" fill="none"/><path d="M364.5,547.4C364.5,556.8 376.8,556.8 376.8,566.1" stroke="#999" stroke-width="0.5" stroke-opacity="0.8" fill="none"/><path d="M349.6,547.4C349.6,556.8 352.9,556.8 352.9,566.1" stroke="#999" stroke-width="0.5" stroke-opacity="0.8" fill="none"/><path d="M344.0,547.4C344.0,556.8 336.1,556.8 336.1,566.1" stroke="#999" stroke-width="0.5" stroke-opacity="0.8" fill="none"/><path d="M331.6,547.4C331.6,556.8 337.9,556.8 337.9,566.1" stroke="#999" stroke-width="0.5" stroke-opacity="0.8" fill="none"/><path d="M360.9,547.4C360.9,556.8 370.0,556.8 370.0,566.1" stroke="#999" stroke-width="0.5" stroke-opacity="0.8" fill="none"/><path d="M332.4,547.4C332.4,556.8 343.6,556.8 343.6,566.1" stroke="#999" stroke-width="0.5" stroke-opacity="0.8" fill="none"/><path d="M316.0,585.8C316.0,593.9 321.5,593.9 321.5,602.0" stroke="#fff" stroke-width="0.8" stroke-opacity="0.9" fill="none"/><path d="M321.5,585.8C321.5,593.9 316.0,593.9 316.0,602.0" stroke="#fff" stroke-width="0.8" stroke-opacity="0.9" fill="none"/><path d="M299.0,585.8C299.0,593.9 304.0,593.9 304.0,602.0" stroke="#999" stroke-width="0.5" stroke-opacity="0.9" fill="none"/><path d="M304.0,585.8C304.0,593.9 300.0,593.9 300.0,602.0" stroke="#aaa" stroke-width="0.5" stroke-opacity="0.9" fill="none"/><path d="M349.0,585.8C349.0,593.9 351.0,593.9 351.0,602.0" stroke="#999" stroke-width="0.5" stroke-opacity="0.9" fill="none"/><path d="M230.6,585.8C230.6,593.9 249.5,593.9 249.5,602.0" stroke="#666" stroke-width="0.5" stroke-opacity="0.8" fill="none"/><path d="M256.7,585.8C256.7,593.9 247.0,593.9 247.0,602.0" stroke="#666" stroke-width="0.5" stroke-opacity="0.8" fill="none"/><path d="M280.1,585.8C280.1,593.9 261.6,593.9 261.6,602.0" stroke="#666" stroke-width="0.5" stroke-opacity="0.8" fill="none"/><path d="M371.5,585.8C371.5,593.9 346.1,593.9 346.1,602.0" stroke="#666" stroke-width="0.5" stroke-opacity="0.8" fill="none"/><path d="M316.0,604.0C316.0,612.2 321.5,612.2 321.5,620.4" stroke="#fff" stroke-width="0.8" stroke-opacity="0.9" fill="none"/><path d="M321.5,604.0C321.5,612.2 316.0,612.2 316.0,620.4" stroke="#fff" stroke-width="0.8" stroke-opacity="0.9" fill="none"/><path d="M299.0,604.0C299.0,612.2 304.0,612.2 304.0,620.4" stroke="#999" stroke-width="0.5" stroke-opacity="0.9" fill="none"/><path d="M304.0,604.0C304.0,612.2 300.0,612.2 300.0,620.4" stroke="#aaa" stroke-width="0.5" stroke-opacity="0.9" fill="none"/><path d="M349.0,604.0C349.0,612.2 351.0,612.2 351.0,620.4" stroke="#999" stroke-width="0.5" stroke-opacity="0.9" fill="none"/><path d="M291.6,604.0C291.6,612.2 285.2,612.2 285.2,620.4" stroke="#666" stroke-width="0.5" stroke-opacity="0.8" fill="none"/><path d="M260.8,604.0C260.8,612.2 239.1,612.2 239.1,620.4" stroke="#666" stroke-width="0.5" stroke-opacity="0.8" fill="none"/><path d="M290.5,604.0C290.5,612.2 260.7,612.2 260.7,620.4" stroke="#666" stroke-width="0.5" stroke-opacity="0.8" fill="none"/><path d="M336.9,604.0C336.9,612.2 353.1,612.2 353.1,620.4" stroke="#666" stroke-width="0.5" stroke-opacity="0.8" fill="none"/><path d="M316.0,622.4C316.0,630.7 321.5,630.7 321.5,639.0" stroke="#fff" stroke-width="0.8" stroke-opacity="0.9" fill="none"/><path d="M321.5,622.4C321.5,630.7 316.0,630.7 316.0,639.0" stroke="#fff" stroke-width="0.8" stroke-opacity="0.9" fill="none"/><path d="M299.0,622.4C299.0,630.7 304.0,630.7 304.0,639.0" stroke="#999" stroke-width="0.5" stroke-opacity="0.9" fill="none"/><path d="M304.0,622.4C304.0,630.7 300.0,630.7 300.0,639.0" stroke="#aaa" stroke-width="0.5" stroke-opacity="0.9" fill="none"/><path d="M349.0,622.4C349.0,630.7 351.0,630.7 351.0,639.0" stroke="#999" stroke-width="0.5" stroke-opacity="0.9" fill="none"/><path d="M358.4,622.4C358.4,630.7 333.0,630.7 333.0,639.0" stroke="#666" stroke-width="0.5" stroke-opacity="0.8" fill="none"/><path d="M346.2,622.4C346.2,630.7 318.4,630.7 318.4,639.0" stroke="#666" stroke-width="0.5" stroke-opacity="0.8" fill="none"/><path d="M298.4,622.4C298.4,630.7 277.4,630.7 277.4,639.0" stroke="#666" stroke-width="0.5" stroke-opacity="0.8" fill="none"/><path d="M339.5,622.4C339.5,630.7 354.3,630.7 354.3,639.0" stroke="#666" stroke-width="0.5" stroke-opacity="0.8" fill="none"/></g>
<g><line x1="224" y1="437.3" x2="324.5" y2="437.3" stroke="#777" stroke-width="0.5"/><line x1="224" y1="455.7" x2="322" y2="455.7" stroke="#777" stroke-width="0.5"/><line x1="224" y1="474.0" x2="322" y2="474.0" stroke="#777" stroke-width="0.5"/><line x1="164.4" y1="492.2" x2="416" y2="492.2" stroke="#777" stroke-width="0.5"/><line x1="96.2" y1="510.8" x2="379" y2="510.8" stroke="#777" stroke-width="0.5"/><line x1="162" y1="529.1" x2="366.6" y2="529.1" stroke="#777" stroke-width="0.5"/><line x1="146" y1="547.4" x2="377.8" y2="547.4" stroke="#777" stroke-width="0.5"/><line x1="138.4" y1="566.1" x2="405" y2="566.1" stroke="#777" stroke-width="0.5"/><line x1="136.2" y1="584.8" x2="404" y2="584.8" stroke="#777" stroke-width="0.5"/><line x1="176.2" y1="603.0" x2="411" y2="603.0" stroke="#777" stroke-width="0.5"/><line x1="214" y1="621.4" x2="411" y2="621.4" stroke="#777" stroke-width="0.5"/><line x1="213" y1="640.0" x2="411" y2="640.0" stroke="#777" stroke-width="0.5"/><polygon points="223.9,437.3 226.0,434.6 228.1,437.3 226.0,440.0" fill="#6a3db0" stroke="#3a3a3a" stroke-width="0.3"/><polygon points="227.4,434.6 228.1,434.6 230.6,437.3 228.1,440.0 227.4,440.0" fill="#6a3db0" stroke="#3a3a3a" stroke-width="0.3"/><polygon points="231.6,434.6 232.3,434.6 234.8,437.3 232.3,440.0 231.6,440.0" fill="#20b8d8" stroke="#3a3a3a" stroke-width="0.3"/><polygon points="235.7,434.6 236.3,434.6 238.7,437.3 236.3,440.0 235.7,440.0" fill="#6a3db0" stroke="#3a3a3a" stroke-width="0.3"/><polygon points="239.5,434.6 240.1,434.6 242.4,437.3 240.1,440.0 239.5,440.0" fill="#6a3db0" stroke="#3a3a3a" stroke-width="0.3"/><polygon points="243.2,437.3 244.4,434.8 246.8,434.8 248.0,437.3 246.8,439.8 244.4,439.8" fill="#c9d93c" stroke="#3a3a3a" stroke-width="0.3"/><polygon points="253.5,434.6 252.9,434.6 250.6,437.3 252.9,440.0 253.5,440.0" fill="#6a3db0" stroke="#3a3a3a" stroke-width="0.3"/><polygon points="255.3,434.6 256.0,434.6 258.4,437.3 256.0,440.0 255.3,440.0" fill="#6a3db0" stroke="#3a3a3a" stroke-width="0.3"/><polygon points="258.1,437.3 259.3,434.8 261.7,434.8 262.9,437.3 261.7,439.8 259.3,439.8" fill="#c9d93c" stroke="#3a3a3a" stroke-width="0.3"/><polygon points="263.3,437.3 265.4,434.6 267.5,437.3 265.4,440.0" fill="#6a3db0" stroke="#3a3a3a" stroke-width="0.3"/><polygon points="267.6,434.6 268.2,434.6 270.4,437.3 268.2,440.0 267.6,440.0" fill="#6a3db0" stroke="#3a3a3a" stroke-width="0.3"/><polygon points="269.1,437.3 271.2,434.6 273.3,437.3 271.2,440.0" fill="#6a3db0" stroke="#3a3a3a" stroke-width="0.3"/><polygon points="273.7,435.8 284.9,435.8 284.9,434.6 287.7,437.3 284.9,440.0 284.9,438.9 273.7,438.9" fill="#9a3fbf" stroke="#3a3a3a" stroke-width="0.3"/><polygon points="288.6,435.8 293.7,435.8 293.7,434.6 296.5,437.3 293.7,440.0 293.7,438.9 288.6,438.9" fill="#9a3fbf" stroke="#3a3a3a" stroke-width="0.3"/><polygon points="297.3,434.6 297.9,434.6 299.9,437.3 297.9,440.0 297.3,440.0" fill="#6a3db0" stroke="#3a3a3a" stroke-width="0.3"/><polygon points="314.9,435.8 303.6,435.8 303.6,434.6 300.8,437.3 303.6,440.0 303.6,438.9 314.9,438.9" fill="#20b8d8" stroke="#3a3a3a" stroke-width="0.3"/><polygon points="316.6,434.6 317.2,434.6 319.2,437.3 317.2,440.0 316.6,440.0" fill="#6a3db0" stroke="#3a3a3a" stroke-width="0.3"/><polygon points="319.2,434.6 319.7,434.6 321.6,437.3 319.7,440.0 319.2,440.0" fill="#6a3db0" stroke="#3a3a3a" stroke-width="0.3"/><polygon points="223.9,455.7 226.0,453.0 228.1,455.7 226.0,458.4" fill="#6a3db0" stroke="#3a3a3a" stroke-width="0.3"/><polygon points="227.4,453.0 228.1,453.0 230.6,455.7 228.1,458.4 227.4,458.4" fill="#6a3db0" stroke="#3a3a3a" stroke-width="0.3"/><polygon points="231.6,453.0 232.3,453.0 234.8,455.7 232.3,458.4 231.6,458.4" fill="#20b8d8" stroke="#3a3a3a" stroke-width="0.3"/><polygon points="235.7,453.0 236.3,453.0 238.7,455.7 236.3,458.4 235.7,458.4" fill="#6a3db0" stroke="#3a3a3a" stroke-width="0.3"/><polygon points="239.5,453.0 240.1,453.0 242.4,455.7 240.1,458.4 239.5,458.4" fill="#6a3db0" stroke="#3a3a3a" stroke-width="0.3"/><polygon points="243.2,455.7 244.4,453.2 246.8,453.2 248.0,455.7 246.8,458.2 244.4,458.2" fill="#c9d93c" stroke="#3a3a3a" stroke-width="0.3"/><polygon points="253.5,453.0 252.9,453.0 250.6,455.7 252.9,458.4 253.5,458.4" fill="#6a3db0" stroke="#3a3a3a" stroke-width="0.3"/><polygon points="255.3,453.0 256.0,453.0 258.4,455.7 256.0,458.4 255.3,458.4" fill="#6a3db0" stroke="#3a3a3a" stroke-width="0.3"/><polygon points="258.1,455.7 259.3,453.2 261.7,453.2 262.9,455.7 261.7,458.2 259.3,458.2" fill="#c9d93c" stroke="#3a3a3a" stroke-width="0.3"/><polygon points="263.3,455.7 265.4,453.0 267.5,455.7 265.4,458.4" fill="#6a3db0" stroke="#3a3a3a" stroke-width="0.3"/><polygon points="267.6,453.0 268.2,453.0 270.4,455.7 268.2,458.4 267.6,458.4" fill="#6a3db0" stroke="#3a3a3a" stroke-width="0.3"/><polygon points="269.1,455.7 271.2,453.0 273.3,455.7 271.2,458.4" fill="#6a3db0" stroke="#3a3a3a" stroke-width="0.3"/><polygon points="273.7,454.1 284.9,454.1 284.9,453.0 287.7,455.7 284.9,458.4 284.9,457.2 273.7,457.2" fill="#9a3fbf" stroke="#3a3a3a" stroke-width="0.3"/><polygon points="288.6,454.1 293.7,454.1 293.7,453.0 296.5,455.7 293.7,458.4 293.7,457.2 288.6,457.2" fill="#9a3fbf" stroke="#3a3a3a" stroke-width="0.3"/><polygon points="297.3,453.0 297.9,453.0 299.9,455.7 297.9,458.4 297.3,458.4" fill="#6a3db0" stroke="#3a3a3a" stroke-width="0.3"/><polygon points="314.9,454.1 303.6,454.1 303.6,453.0 300.8,455.7 303.6,458.4 303.6,457.2 314.9,457.2" fill="#20b8d8" stroke="#3a3a3a" stroke-width="0.3"/><polygon points="316.6,453.0 317.2,453.0 319.2,455.7 317.2,458.4 316.6,458.4" fill="#6a3db0" stroke="#3a3a3a" stroke-width="0.3"/><polygon points="319.2,453.0 319.7,453.0 321.6,455.7 319.7,458.4 319.2,458.4" fill="#6a3db0" stroke="#3a3a3a" stroke-width="0.3"/><polygon points="223.9,474.0 226.0,471.3 228.1,474.0 226.0,476.7" fill="#6a3db0" stroke="#3a3a3a" stroke-width="0.3"/><polygon points="227.4,471.3 228.1,471.3 230.6,474.0 228.1,476.7 227.4,476.7" fill="#6a3db0" stroke="#3a3a3a" stroke-width="0.3"/><polygon points="231.6,471.3 232.3,471.3 234.8,474.0 232.3,476.7 231.6,476.7" fill="#20b8d8" stroke="#3a3a3a" stroke-width="0.3"/><polygon points="235.7,471.3 236.3,471.3 238.7,474.0 236.3,476.7 235.7,476.7" fill="#6a3db0" stroke="#3a3a3a" stroke-width="0.3"/><polygon points="239.5,471.3 240.1,471.3 242.4,474.0 240.1,476.7 239.5,476.7" fill="#6a3db0" stroke="#3a3a3a" stroke-width="0.3"/><polygon points="243.2,474.0 244.4,471.5 246.8,471.5 248.0,474.0 246.8,476.5 244.4,476.5" fill="#c9d93c" stroke="#3a3a3a" stroke-width="0.3"/><polygon points="253.5,471.3 252.9,471.3 250.6,474.0 252.9,476.7 253.5,476.7" fill="#6a3db0" stroke="#3a3a3a" stroke-width="0.3"/><polygon points="255.3,471.3 256.0,471.3 258.4,474.0 256.0,476.7 255.3,476.7" fill="#6a3db0" stroke="#3a3a3a" stroke-width="0.3"/><polygon points="258.1,474.0 259.3,471.5 261.7,471.5 262.9,474.0 261.7,476.5 259.3,476.5" fill="#c9d93c" stroke="#3a3a3a" stroke-width="0.3"/><polygon points="263.3,474.0 265.4,471.3 267.5,474.0 265.4,476.7" fill="#6a3db0" stroke="#3a3a3a" stroke-width="0.3"/><polygon points="267.6,471.3 268.2,471.3 270.4,474.0 268.2,476.7 267.6,476.7" fill="#6a3db0" stroke="#3a3a3a" stroke-width="0.3"/><polygon points="269.1,474.0 271.2,471.3 273.3,474.0 271.2,476.7" fill="#6a3db0" stroke="#3a3a3a" stroke-width="0.3"/><polygon points="273.7,472.4 284.9,472.4 284.9,471.3 287.7,474.0 284.9,476.7 284.9,475.6 273.7,475.6" fill="#9a3fbf" stroke="#3a3a3a" stroke-width="0.3"/><polygon points="288.6,472.4 293.7,472.4 293.7,471.3 296.5,474.0 293.7,476.7 293.7,475.6 288.6,475.6" fill="#9a3fbf" stroke="#3a3a3a" stroke-width="0.3"/><polygon points="297.3,471.3 297.9,471.3 299.9,474.0 297.9,476.7 297.3,476.7" fill="#6a3db0" stroke="#3a3a3a" stroke-width="0.3"/><polygon points="308.7,472.4 303.6,472.4 303.6,471.3 300.8,474.0 303.6,476.7 303.6,475.6 308.7,475.6" fill="#20b8d8" stroke="#3a3a3a" stroke-width="0.3"/><polygon points="310.5,471.3 311.2,471.3 313.8,474.0 311.2,476.7 310.5,476.7" fill="#36d990" stroke="#3a3a3a" stroke-width="0.3"/><polygon points="164.5,489.5 165.3,489.5 168.1,492.2 165.3,494.9 164.5,494.9" fill="#6a3db0" stroke="#3a3a3a" stroke-width="0.3"/><polygon points="168.7,489.5 169.4,489.5 171.9,492.2 169.4,494.9 168.7,494.9" fill="#6a3db0" stroke="#3a3a3a" stroke-width="0.3"/><polygon points="175.1,489.5 174.3,489.5 171.7,492.2 174.3,494.9 175.1,494.9" fill="#6a3db0" stroke="#3a3a3a" stroke-width="0.3"/><polygon points="174.6,492.2 176.7,489.5 178.8,492.2 176.7,494.9" fill="#6a3db0" stroke="#3a3a3a" stroke-width="0.3"/><polygon points="181.2,489.5 180.5,489.5 178.0,492.2 180.5,494.9 181.2,494.9" fill="#6a3db0" stroke="#3a3a3a" stroke-width="0.3"/><polygon points="182.0,489.5 182.7,489.5 185.2,492.2 182.7,494.9 182.0,494.9" fill="#6a3db0" stroke="#3a3a3a" stroke-width="0.3"/><polygon points="188.0,489.5 187.3,489.5 185.0,492.2 187.3,494.9 188.0,494.9" fill="#6a3db0" stroke="#3a3a3a" stroke-width="0.3"/><polygon points="190.7,492.2 193.0,489.9 195.3,492.2 193.0,494.5" fill="#3a8fe0" stroke="#3a3a3a" stroke-width="0.35"/><polygon points="195.7,492.2 198.0,489.9 200.3,492.2 198.0,494.5" fill="#3a8fe0" stroke="#3a3a3a" stroke-width="0.35"/><polygon points="200.2,492.2 202.3,489.5 204.4,492.2 202.3,494.9" fill="#6a3db0" stroke="#3a3a3a" stroke-width="0.3"/><polygon points="204.7,489.5 205.5,489.5 208.1,492.2 205.5,494.9 204.7,494.9" fill="#6a3db0" stroke="#3a3a3a" stroke-width="0.3"/><polygon points="207.9,492.2 210.0,489.5 212.1,492.2 210.0,494.9" fill="#6a3db0" stroke="#3a3a3a" stroke-width="0.3"/><polygon points="211.9,492.2 214.0,489.5 216.1,492.2 214.0,494.9" fill="#6a3db0" stroke="#3a3a3a" stroke-width="0.3"/><polygon points="218.4,489.5 217.8,489.5 215.4,492.2 217.8,494.9 218.4,494.9" fill="#6a3db0" stroke="#3a3a3a" stroke-width="0.3"/><polygon points="218.1,492.2 220.2,489.5 222.3,492.2 220.2,494.9" fill="#6a3db0" stroke="#3a3a3a" stroke-width="0.3"/><polygon points="227.9,490.6 225.2,490.6 225.2,489.5 222.4,492.2 225.2,494.9 225.2,493.8 227.9,493.8" fill="#6a3db0" stroke="#3a3a3a" stroke-width="0.3"/><polygon points="228.2,489.5 228.8,489.5 231.2,492.2 228.8,494.9 228.2,494.9" fill="#6a3db0" stroke="#3a3a3a" stroke-width="0.3"/><polygon points="231.1,492.2 233.5,489.5 235.9,492.2 233.5,494.9" fill="#6a3db0" stroke="#3a3a3a" stroke-width="0.3"/><polygon points="236.0,492.2 238.1,489.5 240.2,492.2 238.1,494.9" fill="#6a3db0" stroke="#3a3a3a" stroke-width="0.3"/><polygon points="241.7,492.2 244.0,489.9 246.3,492.2 244.0,494.5" fill="#4fe06a" stroke="#3a3a3a" stroke-width="0.35"/><polygon points="245.8,492.2 247.9,489.5 250.0,492.2 247.9,494.9" fill="#6a3db0" stroke="#3a3a3a" stroke-width="0.3"/><polygon points="252.5,490.6 256.7,490.6 256.7,489.5 259.5,492.2 256.7,494.9 256.7,493.8 252.5,493.8" fill="#4fe06a" stroke="#3a3a3a" stroke-width="0.3"/><polygon points="260.0,489.5 260.8,489.5 263.4,492.2 260.8,494.9 260.0,494.9" fill="#6a3db0" stroke="#3a3a3a" stroke-width="0.3"/><polygon points="264.0,489.5 264.5,489.5 266.4,492.2 264.5,494.9 264.0,494.9" fill="#6a3db0" stroke="#3a3a3a" stroke-width="0.3"/><polygon points="266.5,489.5 267.5,489.5 270.9,492.2 267.5,494.9 266.5,494.9" fill="#4fe06a" stroke="#3a3a3a" stroke-width="0.3"/><polygon points="271.0,489.5 271.6,489.5 274.0,492.2 271.6,494.9 271.0,494.9" fill="#6a3db0" stroke="#3a3a3a" stroke-width="0.3"/><polygon points="277.6,489.5 276.8,489.5 274.2,492.2 276.8,494.9 277.6,494.9" fill="#6a3db0" stroke="#3a3a3a" stroke-width="0.3"/><polygon points="278.2,492.2 280.6,489.5 283.0,492.2 280.6,494.9" fill="#6a3db0" stroke="#3a3a3a" stroke-width="0.3"/><polygon points="283.6,492.2 285.7,489.5 287.8,492.2 285.7,494.9" fill="#6a3db0" stroke="#3a3a3a" stroke-width="0.3"/><polygon points="291.0,490.6 305.7,490.6 305.7,489.5 308.5,492.2 305.7,494.9 305.7,493.8 291.0,493.8" fill="#9a3fbf" stroke="#3a3a3a" stroke-width="0.3"/><polygon points="309.5,490.6 314.2,490.6 314.2,489.5 317.0,492.2 314.2,494.9 314.2,493.8 309.5,493.8" fill="#9a3fbf" stroke="#3a3a3a" stroke-width="0.3"/><polygon points="318.0,490.6 320.7,490.6 320.7,489.5 323.5,492.2 320.7,494.9 320.7,493.8 318.0,493.8" fill="#6a3db0" stroke="#3a3a3a" stroke-width="0.3"/><polygon points="327.0,490.6 333.2,490.6 333.2,489.5 336.0,492.2 333.2,494.9 333.2,493.8 327.0,493.8" fill="#a5e24c" stroke="#3a3a3a" stroke-width="0.3"/><polygon points="339.6,489.5 339.0,489.5 336.6,492.2 339.0,494.9 339.6,494.9" fill="#6a3db0" stroke="#3a3a3a" stroke-width="0.3"/><polygon points="340.1,489.5 341.1,489.5 344.5,492.2 341.1,494.9 340.1,494.9" fill="#6a3db0" stroke="#3a3a3a" stroke-width="0.3"/><polygon points="344.4,489.5 345.4,489.5 348.8,492.2 345.4,494.9 344.4,494.9" fill="#6a3db0" stroke="#3a3a3a" stroke-width="0.3"/><polygon points="349.2,492.2 351.3,489.5 353.4,492.2 351.3,494.9" fill="#6a3db0" stroke="#3a3a3a" stroke-width="0.3"/><polygon points="352.6,492.2 354.7,489.5 356.8,492.2 354.7,494.9" fill="#6a3db0" stroke="#3a3a3a" stroke-width="0.3"/><polygon points="356.7,492.2 359.1,489.5 361.5,492.2 359.1,494.9" fill="#6a3db0" stroke="#3a3a3a" stroke-width="0.3"/><polygon points="361.6,489.5 362.4,489.5 365.2,492.2 362.4,494.9 361.6,494.9" fill="#6a3db0" stroke="#3a3a3a" stroke-width="0.3"/><polygon points="365.0,489.5 365.7,489.5 368.0,492.2 365.7,494.9 365.0,494.9" fill="#6a3db0" stroke="#3a3a3a" stroke-width="0.3"/><polygon points="368.3,489.5 369.0,489.5 371.5,492.2 369.0,494.9 368.3,494.9" fill="#6a3db0" stroke="#3a3a3a" stroke-width="0.3"/><polygon points="372.7,489.5 373.4,489.5 376.1,492.2 373.4,494.9 372.7,494.9" fill="#6a3db0" stroke="#3a3a3a" stroke-width="0.3"/><polygon points="379.3,489.5 378.6,489.5 376.1,492.2 378.6,494.9 379.3,494.9" fill="#6a3db0" stroke="#3a3a3a" stroke-width="0.3"/><polygon points="379.1,492.2 381.2,489.5 383.3,492.2 381.2,494.9" fill="#6a3db0" stroke="#3a3a3a" stroke-width="0.3"/><polygon points="383.8,489.5 384.6,489.5 387.4,492.2 384.6,494.9 383.8,494.9" fill="#6a3db0" stroke="#3a3a3a" stroke-width="0.3"/><polygon points="390.9,489.5 390.2,489.5 387.7,492.2 390.2,494.9 390.9,494.9" fill="#6a3db0" stroke="#3a3a3a" stroke-width="0.3"/><polygon points="391.4,489.5 392.2,489.5 395.0,492.2 392.2,494.9 391.4,494.9" fill="#6a3db0" stroke="#3a3a3a" stroke-width="0.3"/><polygon points="395.2,492.2 397.5,489.9 399.8,492.2 397.5,494.5" fill="#3a8fe0" stroke="#3a3a3a" stroke-width="0.35"/><polygon points="400.0,489.5 401.0,489.5 404.4,492.2 401.0,494.9 400.0,494.9" fill="#6a3db0" stroke="#3a3a3a" stroke-width="0.3"/><polygon points="404.9,492.2 407.0,489.5 409.1,492.2 407.0,494.9" fill="#6a3db0" stroke="#3a3a3a" stroke-width="0.3"/><polygon points="409.5,490.6 413.2,490.6 413.2,489.5 416.0,492.2 413.2,494.9 413.2,493.8 409.5,493.8" fill="#9a3fbf" stroke="#3a3a3a" stroke-width="0.3"/><polygon points="95.9,510.8 97.1,508.3 99.5,508.3 100.7,510.8 99.5,513.3 97.1,513.3" fill="#c9d93c" stroke="#3a3a3a" stroke-width="0.3"/><polygon points="101.0,508.1 101.8,508.1 104.6,510.8 101.8,513.5 101.0,513.5" fill="#6a3db0" stroke="#3a3a3a" stroke-width="0.3"/><polygon points="105.4,508.1 106.4,508.1 109.8,510.8 106.4,513.5 105.4,513.5" fill="#6a3db0" stroke="#3a3a3a" stroke-width="0.3"/><polygon points="110.5,508.1 111.1,508.1 113.4,510.8 111.1,513.5 110.5,513.5" fill="#6a3db0" stroke="#3a3a3a" stroke-width="0.3"/><polygon points="116.0,509.2 119.2,509.2 119.2,508.1 122.0,510.8 119.2,513.5 119.2,512.4 116.0,512.4" fill="#e8e8e8" stroke="#777" stroke-width="0.3"/><polygon points="123.0,509.2 128.2,509.2 128.2,508.1 131.0,510.8 128.2,513.5 128.2,512.4 123.0,512.4" fill="#e8e8e8" stroke="#777" stroke-width="0.3"/><polygon points="131.5,510.8 133.6,508.1 135.7,510.8 133.6,513.5" fill="#6a3db0" stroke="#3a3a3a" stroke-width="0.3"/><polygon points="135.6,510.8 138.0,508.1 140.4,510.8 138.0,513.5" fill="#6a3db0" stroke="#3a3a3a" stroke-width="0.3"/><polygon points="140.8,508.1 141.8,508.1 145.2,510.8 141.8,513.5 140.8,513.5" fill="#6a3db0" stroke="#3a3a3a" stroke-width="0.3"/><polygon points="145.7,509.2 148.4,509.2 148.4,508.1 151.2,510.8 148.4,513.5 148.4,512.4 145.7,512.4" fill="#6a3db0" stroke="#3a3a3a" stroke-width="0.3"/><polygon points="157.9,509.2 155.2,509.2 155.2,508.1 152.4,510.8 155.2,513.5 155.2,512.4 157.9,512.4" fill="#6a3db0" stroke="#3a3a3a" stroke-width="0.3"/><polygon points="169.0,509.2 162.8,509.2 162.8,508.1 160.0,510.8 162.8,513.5 162.8,512.4 169.0,512.4" fill="#36d990" stroke="#3a3a3a" stroke-width="0.3"/><polygon points="172.0,508.1 172.7,508.1 175.0,510.8 172.7,513.5 172.0,513.5" fill="#6a3db0" stroke="#3a3a3a" stroke-width="0.3"/><polygon points="175.2,510.8 177.3,508.1 179.4,510.8 177.3,513.5" fill="#6a3db0" stroke="#3a3a3a" stroke-width="0.3"/><polygon points="182.0,508.1 181.4,508.1 179.3,510.8 181.4,513.5 182.0,513.5" fill="#6a3db0" stroke="#3a3a3a" stroke-width="0.3"/><polygon points="183.1,510.8 184.3,508.3 186.7,508.3 187.9,510.8 186.7,513.3 184.3,513.3" fill="#c9d93c" stroke="#3a3a3a" stroke-width="0.3"/><polygon points="192.4,508.1 191.8,508.1 189.6,510.8 191.8,513.5 192.4,513.5" fill="#6a3db0" stroke="#3a3a3a" stroke-width="0.3"/><polygon points="194.0,508.1 194.6,508.1 196.8,510.8 194.6,513.5 194.0,513.5" fill="#6a3db0" stroke="#3a3a3a" stroke-width="0.3"/><polygon points="197.1,510.8 199.2,508.1 201.3,510.8 199.2,513.5" fill="#6a3db0" stroke="#3a3a3a" stroke-width="0.3"/><polygon points="205.4,508.1 204.8,508.1 202.6,510.8 204.8,513.5 205.4,513.5" fill="#6a3db0" stroke="#3a3a3a" stroke-width="0.3"/><polygon points="206.1,510.8 208.2,508.1 210.3,510.8 208.2,513.5" fill="#6a3db0" stroke="#3a3a3a" stroke-width="0.3"/><polygon points="213.4,508.1 212.8,508.1 210.6,510.8 212.8,513.5 213.4,513.5" fill="#6a3db0" stroke="#3a3a3a" stroke-width="0.3"/><polygon points="216.4,508.1 215.8,508.1 213.6,510.8 215.8,513.5 216.4,513.5" fill="#6a3db0" stroke="#3a3a3a" stroke-width="0.3"/><polygon points="217.0,508.1 217.8,508.1 220.4,510.8 217.8,513.5 217.0,513.5" fill="#6a3db0" stroke="#3a3a3a" stroke-width="0.3"/><polygon points="224.4,508.1 223.7,508.1 221.0,510.8 223.7,513.5 224.4,513.5" fill="#6a3db0" stroke="#3a3a3a" stroke-width="0.3"/><polygon points="227.6,510.8 230.0,508.1 232.4,510.8 230.0,513.5" fill="#4fe06a" stroke="#3a3a3a" stroke-width="0.3"/><polygon points="236.0,508.1 237.0,508.1 240.4,510.8 237.0,513.5 236.0,513.5" fill="#4fe06a" stroke="#3a3a3a" stroke-width="0.3"/><polygon points="242.0,509.2 245.2,509.2 245.2,508.1 248.0,510.8 245.2,513.5 245.2,512.4 242.0,512.4" fill="#4fe06a" stroke="#3a3a3a" stroke-width="0.3"/><polygon points="250.0,508.1 250.8,508.1 253.6,510.8 250.8,513.5 250.0,513.5" fill="#6a3db0" stroke="#3a3a3a" stroke-width="0.3"/><polygon points="253.9,509.2 256.6,509.2 256.6,508.1 259.4,510.8 256.6,513.5 256.6,512.4 253.9,512.4" fill="#6a3db0" stroke="#3a3a3a" stroke-width="0.3"/><polygon points="264.0,508.1 263.2,508.1 260.6,510.8 263.2,513.5 264.0,513.5" fill="#6a3db0" stroke="#3a3a3a" stroke-width="0.3"/><polygon points="263.6,510.8 265.7,508.1 267.8,510.8 265.7,513.5" fill="#6a3db0" stroke="#3a3a3a" stroke-width="0.3"/><polygon points="270.3,508.1 269.7,508.1 267.3,510.8 269.7,513.5 270.3,513.5" fill="#6a3db0" stroke="#3a3a3a" stroke-width="0.3"/><polygon points="272.0,509.2 287.2,509.2 287.2,508.1 290.0,510.8 287.2,513.5 287.2,512.4 272.0,512.4" fill="#9a3fbf" stroke="#3a3a3a" stroke-width="0.3"/><polygon points="291.0,509.2 297.2,509.2 297.2,508.1 300.0,510.8 297.2,513.5 297.2,512.4 291.0,512.4" fill="#9a3fbf" stroke="#3a3a3a" stroke-width="0.3"/><polygon points="305.0,508.1 304.0,508.1 300.6,510.8 304.0,513.5 305.0,513.5" fill="#6a3db0" stroke="#3a3a3a" stroke-width="0.3"/><polygon points="308.0,509.2 315.2,509.2 315.2,508.1 318.0,510.8 315.2,513.5 315.2,512.4 308.0,512.4" fill="#a5e24c" stroke="#3a3a3a" stroke-width="0.3"/><polygon points="319.0,508.1 319.7,508.1 322.2,510.8 319.7,513.5 319.0,513.5" fill="#6a3db0" stroke="#3a3a3a" stroke-width="0.3"/><polygon points="322.2,508.1 323.0,508.1 325.8,510.8 323.0,513.5 322.2,513.5" fill="#6a3db0" stroke="#3a3a3a" stroke-width="0.3"/><polygon points="329.8,508.1 329.0,508.1 326.2,510.8 329.0,513.5 329.8,513.5" fill="#6a3db0" stroke="#3a3a3a" stroke-width="0.3"/><polygon points="329.6,510.8 331.7,508.1 333.8,510.8 331.7,513.5" fill="#6a3db0" stroke="#3a3a3a" stroke-width="0.3"/><polygon points="333.8,508.1 334.8,508.1 338.2,510.8 334.8,513.5 333.8,513.5" fill="#6a3db0" stroke="#3a3a3a" stroke-width="0.3"/><polygon points="341.5,508.1 340.8,508.1 338.3,510.8 340.8,513.5 341.5,513.5" fill="#6a3db0" stroke="#3a3a3a" stroke-width="0.3"/><polygon points="341.4,510.8 343.5,508.1 345.6,510.8 343.5,513.5" fill="#6a3db0" stroke="#3a3a3a" stroke-width="0.3"/><polygon points="345.3,510.8 347.4,508.1 349.5,510.8 347.4,513.5" fill="#6a3db0" stroke="#3a3a3a" stroke-width="0.3"/><polygon points="349.5,508.1 350.1,508.1 352.5,510.8 350.1,513.5 349.5,513.5" fill="#6a3db0" stroke="#3a3a3a" stroke-width="0.3"/><polygon points="355.6,508.1 354.9,508.1 352.2,510.8 354.9,513.5 355.6,513.5" fill="#6a3db0" stroke="#3a3a3a" stroke-width="0.3"/><polygon points="361.7,509.2 359.0,509.2 359.0,508.1 356.2,510.8 359.0,513.5 359.0,512.4 361.7,512.4" fill="#6a3db0" stroke="#3a3a3a" stroke-width="0.3"/><polygon points="365.4,508.1 364.7,508.1 362.4,510.8 364.7,513.5 365.4,513.5" fill="#6a3db0" stroke="#3a3a3a" stroke-width="0.3"/><polygon points="366.7,508.1 367.4,508.1 370.1,510.8 367.4,513.5 366.7,513.5" fill="#6a3db0" stroke="#3a3a3a" stroke-width="0.3"/><polygon points="370.0,509.2 372.7,509.2 372.7,508.1 375.5,510.8 372.7,513.5 372.7,512.4 370.0,512.4" fill="#6a3db0" stroke="#3a3a3a" stroke-width="0.3"/><polygon points="376.9,508.1 377.4,508.1 379.4,510.8 377.4,513.5 376.9,513.5" fill="#6a3db0" stroke="#3a3a3a" stroke-width="0.3"/><polygon points="161.6,529.1 164.0,526.4 166.4,529.1 164.0,531.8" fill="#6a3db0" stroke="#3a3a3a" stroke-width="0.3"/><polygon points="169.4,526.4 168.7,526.4 166.0,529.1 168.7,531.8 169.4,531.8" fill="#6a3db0" stroke="#3a3a3a" stroke-width="0.3"/><polygon points="169.0,527.6 174.2,527.6 174.2,526.4 177.0,529.1 174.2,531.8 174.2,530.6 169.0,530.6" fill="#36d990" stroke="#3a3a3a" stroke-width="0.3"/><polygon points="178.0,526.4 178.7,526.4 181.0,529.1 178.7,531.8 178.0,531.8" fill="#6a3db0" stroke="#3a3a3a" stroke-width="0.3"/><polygon points="182.0,526.4 182.7,526.4 185.0,529.1 182.7,531.8 182.0,531.8" fill="#6a3db0" stroke="#3a3a3a" stroke-width="0.3"/><polygon points="183.6,529.1 184.8,526.6 187.2,526.6 188.4,529.1 187.2,531.6 184.8,531.6" fill="#c9d93c" stroke="#3a3a3a" stroke-width="0.3"/><polygon points="188.4,529.1 190.5,526.4 192.6,529.1 190.5,531.8" fill="#6a3db0" stroke="#3a3a3a" stroke-width="0.3"/><polygon points="207.0,527.6 199.8,527.6 199.8,526.4 197.0,529.1 199.8,531.8 199.8,530.6 207.0,530.6" fill="#bdbdbd" stroke="#888" stroke-width="0.3"/><polygon points="208.0,526.4 208.8,526.4 211.6,529.1 208.8,531.8 208.0,531.8" fill="#6a3db0" stroke="#3a3a3a" stroke-width="0.3"/><polygon points="211.5,526.4 212.1,526.4 214.5,529.1 212.1,531.8 211.5,531.8" fill="#6a3db0" stroke="#3a3a3a" stroke-width="0.3"/><polygon points="213.5,529.1 215.6,526.4 217.7,529.1 215.6,531.8" fill="#6a3db0" stroke="#3a3a3a" stroke-width="0.3"/><polygon points="218.4,526.4 219.4,526.4 222.8,529.1 219.4,531.8 218.4,531.8" fill="#6a3db0" stroke="#3a3a3a" stroke-width="0.3"/><polygon points="222.7,526.4 223.5,526.4 226.3,529.1 223.5,531.8 222.7,531.8" fill="#6a3db0" stroke="#3a3a3a" stroke-width="0.3"/><polygon points="229.1,526.4 228.4,526.4 226.1,529.1 228.4,531.8 229.1,531.8" fill="#6a3db0" stroke="#3a3a3a" stroke-width="0.3"/><polygon points="230.0,527.6 232.7,527.6 232.7,526.4 235.5,529.1 232.7,531.8 232.7,530.6 230.0,530.6" fill="#6a3db0" stroke="#3a3a3a" stroke-width="0.3"/><polygon points="236.1,529.1 238.2,526.4 240.3,529.1 238.2,531.8" fill="#6a3db0" stroke="#3a3a3a" stroke-width="0.3"/><polygon points="241.2,526.4 242.0,526.4 244.8,529.1 242.0,531.8 241.2,531.8" fill="#6a3db0" stroke="#3a3a3a" stroke-width="0.3"/><polygon points="244.0,529.1 246.1,526.4 248.2,529.1 246.1,531.8" fill="#6a3db0" stroke="#3a3a3a" stroke-width="0.3"/><polygon points="247.7,529.1 250.0,526.8 252.3,529.1 250.0,531.4" fill="#4fe06a" stroke="#3a3a3a" stroke-width="0.35"/><polygon points="251.7,529.1 253.8,526.4 255.9,529.1 253.8,531.8" fill="#6a3db0" stroke="#3a3a3a" stroke-width="0.3"/><polygon points="260.0,526.4 259.1,526.4 255.8,529.1 259.1,531.8 260.0,531.8" fill="#6a3db0" stroke="#3a3a3a" stroke-width="0.3"/><polygon points="260.5,527.6 263.7,527.6 263.7,526.4 266.5,529.1 263.7,531.8 263.7,530.6 260.5,530.6" fill="#4fe06a" stroke="#3a3a3a" stroke-width="0.3"/><polygon points="267.0,527.6 269.2,527.6 269.2,526.4 271.8,529.1 269.2,531.8 269.2,530.6 267.0,530.6" fill="#4fe06a" stroke="#3a3a3a" stroke-width="0.3"/><polygon points="272.0,527.6 287.2,527.6 287.2,526.4 290.0,529.1 287.2,531.8 287.2,530.6 272.0,530.6" fill="#9a3fbf" stroke="#3a3a3a" stroke-width="0.3"/><polygon points="291.0,527.6 297.2,527.6 297.2,526.4 300.0,529.1 297.2,531.8 297.2,530.6 291.0,530.6" fill="#9a3fbf" stroke="#3a3a3a" stroke-width="0.3"/><polygon points="301.0,526.4 301.6,526.4 304.0,529.1 301.6,531.8 301.0,531.8" fill="#6a3db0" stroke="#3a3a3a" stroke-width="0.3"/><polygon points="304.2,526.4 305.0,526.4 307.8,529.1 305.0,531.8 304.2,531.8" fill="#6a3db0" stroke="#3a3a3a" stroke-width="0.3"/><polygon points="308.0,527.6 315.2,527.6 315.2,526.4 318.0,529.1 315.2,531.8 315.2,530.6 308.0,530.6" fill="#a5e24c" stroke="#3a3a3a" stroke-width="0.3"/><polygon points="319.0,526.4 320.0,526.4 323.4,529.1 320.0,531.8 319.0,531.8" fill="#6a3db0" stroke="#3a3a3a" stroke-width="0.3"/><polygon points="323.7,527.6 326.4,527.6 326.4,526.4 329.2,529.1 326.4,531.8 326.4,530.6 323.7,530.6" fill="#6a3db0" stroke="#3a3a3a" stroke-width="0.3"/><polygon points="333.7,526.4 333.0,526.4 330.3,529.1 333.0,531.8 333.7,531.8" fill="#6a3db0" stroke="#3a3a3a" stroke-width="0.3"/><polygon points="334.7,526.4 335.4,526.4 337.9,529.1 335.4,531.8 334.7,531.8" fill="#6a3db0" stroke="#3a3a3a" stroke-width="0.3"/><polygon points="337.7,527.6 340.4,527.6 340.4,526.4 343.2,529.1 340.4,531.8 340.4,530.6 337.7,530.6" fill="#6a3db0" stroke="#3a3a3a" stroke-width="0.3"/><polygon points="347.9,526.4 346.9,526.4 343.5,529.1 346.9,531.8 347.9,531.8" fill="#6a3db0" stroke="#3a3a3a" stroke-width="0.3"/><polygon points="348.4,529.1 350.5,526.4 352.6,529.1 350.5,531.8" fill="#6a3db0" stroke="#3a3a3a" stroke-width="0.3"/><polygon points="352.4,527.6 355.1,527.6 355.1,526.4 357.9,529.1 355.1,531.8 355.1,530.6 352.4,530.6" fill="#6a3db0" stroke="#3a3a3a" stroke-width="0.3"/><polygon points="358.2,529.1 360.3,526.4 362.4,529.1 360.3,531.8" fill="#6a3db0" stroke="#3a3a3a" stroke-width="0.3"/><polygon points="365.8,526.4 365.1,526.4 362.6,529.1 365.1,531.8 365.8,531.8" fill="#6a3db0" stroke="#3a3a3a" stroke-width="0.3"/><polygon points="151.5,545.9 148.8,545.9 148.8,544.7 146.0,547.4 148.8,550.1 148.8,548.9 151.5,548.9" fill="#b83fb0" stroke="#3a3a3a" stroke-width="0.3"/><polygon points="157.5,545.9 154.8,545.9 154.8,544.7 152.0,547.4 154.8,550.1 154.8,548.9 157.5,548.9" fill="#6a3db0" stroke="#3a3a3a" stroke-width="0.3"/><polygon points="158.8,544.7 159.6,544.7 162.4,547.4 159.6,550.1 158.8,550.1" fill="#6a3db0" stroke="#3a3a3a" stroke-width="0.3"/><polygon points="168.0,545.9 165.3,545.9 165.3,544.7 162.5,547.4 165.3,550.1 165.3,548.9 168.0,548.9" fill="#3a8fe0" stroke="#3a3a3a" stroke-width="0.3"/><polygon points="171.8,544.7 171.1,544.7 168.6,547.4 171.1,550.1 171.8,550.1" fill="#6a3db0" stroke="#3a3a3a" stroke-width="0.3"/><polygon points="172.1,544.7 172.9,544.7 175.7,547.4 172.9,550.1 172.1,550.1" fill="#6a3db0" stroke="#3a3a3a" stroke-width="0.3"/><polygon points="189.0,545.9 183.8,545.9 183.8,544.7 181.0,547.4 183.8,550.1 183.8,548.9 189.0,548.9" fill="#bdbdbd" stroke="#888" stroke-width="0.3"/><polygon points="188.7,547.4 191.0,545.1 193.3,547.4 191.0,549.7" fill="#6a3db0" stroke="#3a3a3a" stroke-width="0.35"/><polygon points="194.0,545.9 197.2,545.9 197.2,544.7 200.0,547.4 197.2,550.1 197.2,548.9 194.0,548.9" fill="#bdbdbd" stroke="#888" stroke-width="0.3"/><polygon points="201.0,545.9 205.2,545.9 205.2,544.7 208.0,547.4 205.2,550.1 205.2,548.9 201.0,548.9" fill="#bdbdbd" stroke="#888" stroke-width="0.3"/><polygon points="210.0,545.9 215.2,545.9 215.2,544.7 218.0,547.4 215.2,550.1 215.2,548.9 210.0,548.9" fill="#bdbdbd" stroke="#888" stroke-width="0.3"/><polygon points="219.0,545.9 221.7,545.9 221.7,544.7 224.5,547.4 221.7,550.1 221.7,548.9 219.0,548.9" fill="#6a3db0" stroke="#3a3a3a" stroke-width="0.3"/><polygon points="225.8,544.7 226.6,544.7 229.4,547.4 226.6,550.1 225.8,550.1" fill="#6a3db0" stroke="#3a3a3a" stroke-width="0.3"/><polygon points="232.6,544.7 231.9,544.7 229.2,547.4 231.9,550.1 232.6,550.1" fill="#6a3db0" stroke="#3a3a3a" stroke-width="0.3"/><polygon points="235.9,544.7 235.3,544.7 232.9,547.4 235.3,550.1 235.9,550.1" fill="#6a3db0" stroke="#3a3a3a" stroke-width="0.3"/><polygon points="237.1,544.7 237.8,544.7 240.1,547.4 237.8,550.1 237.1,550.1" fill="#6a3db0" stroke="#3a3a3a" stroke-width="0.3"/><polygon points="244.0,544.7 243.3,544.7 240.6,547.4 243.3,550.1 244.0,550.1" fill="#6a3db0" stroke="#3a3a3a" stroke-width="0.3"/><polygon points="245.0,544.7 246.0,544.7 249.4,547.4 246.0,550.1 245.0,550.1" fill="#6a3db0" stroke="#3a3a3a" stroke-width="0.3"/><polygon points="252.0,545.9 263.2,545.9 263.2,544.7 266.0,547.4 263.2,550.1 263.2,548.9 252.0,548.9" fill="#7a4ac0" stroke="#3a3a3a" stroke-width="0.3"/><polygon points="266.6,547.4 269.0,544.7 271.4,547.4 269.0,550.1" fill="#6a3db0" stroke="#3a3a3a" stroke-width="0.3"/><polygon points="272.0,545.9 287.2,545.9 287.2,544.7 290.0,547.4 287.2,550.1 287.2,548.9 272.0,548.9" fill="#9a3fbf" stroke="#3a3a3a" stroke-width="0.3"/><polygon points="291.0,545.9 297.2,545.9 297.2,544.7 300.0,547.4 297.2,550.1 297.2,548.9 291.0,548.9" fill="#9a3fbf" stroke="#3a3a3a" stroke-width="0.3"/><polygon points="301.0,544.7 301.8,544.7 304.4,547.4 301.8,550.1 301.0,550.1" fill="#3a8fe0" stroke="#3a3a3a" stroke-width="0.3"/><polygon points="304.9,544.7 305.7,544.7 308.3,547.4 305.7,550.1 304.9,550.1" fill="#6a3db0" stroke="#3a3a3a" stroke-width="0.3"/><polygon points="311.3,544.7 310.6,544.7 308.1,547.4 310.6,550.1 311.3,550.1" fill="#6a3db0" stroke="#3a3a3a" stroke-width="0.3"/><polygon points="311.1,547.4 313.2,544.7 315.3,547.4 313.2,550.1" fill="#6a3db0" stroke="#3a3a3a" stroke-width="0.3"/><polygon points="315.8,547.4 317.9,544.7 320.0,547.4 317.9,550.1" fill="#6a3db0" stroke="#3a3a3a" stroke-width="0.3"/><polygon points="320.9,544.7 321.9,544.7 325.3,547.4 321.9,550.1 320.9,550.1" fill="#6a3db0" stroke="#3a3a3a" stroke-width="0.3"/><polygon points="330.4,544.7 329.4,544.7 326.0,547.4 329.4,550.1 330.4,550.1" fill="#6a3db0" stroke="#3a3a3a" stroke-width="0.3"/><polygon points="331.5,544.7 332.2,544.7 334.5,547.4 332.2,550.1 331.5,550.1" fill="#6a3db0" stroke="#3a3a3a" stroke-width="0.3"/><polygon points="334.8,547.4 337.2,544.7 339.6,547.4 337.2,550.1" fill="#6a3db0" stroke="#3a3a3a" stroke-width="0.3"/><polygon points="343.0,545.9 350.2,545.9 350.2,544.7 353.0,547.4 350.2,550.1 350.2,548.9 343.0,548.9" fill="#a5e24c" stroke="#3a3a3a" stroke-width="0.3"/><polygon points="353.2,547.4 355.3,544.7 357.4,547.4 355.3,550.1" fill="#6a3db0" stroke="#3a3a3a" stroke-width="0.3"/><polygon points="357.0,547.4 359.1,544.7 361.2,547.4 359.1,550.1" fill="#6a3db0" stroke="#3a3a3a" stroke-width="0.3"/><polygon points="362.0,544.7 362.7,544.7 365.2,547.4 362.7,550.1 362.0,550.1" fill="#6a3db0" stroke="#3a3a3a" stroke-width="0.3"/><polygon points="364.2,547.4 366.5,545.1 368.8,547.4 366.5,549.7" fill="#3a8fe0" stroke="#3a3a3a" stroke-width="0.35"/><polygon points="369.0,545.9 371.2,545.9 371.2,544.7 374.0,547.4 371.2,550.1 371.2,548.9 369.0,548.9" fill="#20b8d8" stroke="#3a3a3a" stroke-width="0.3"/><polygon points="374.4,547.4 376.5,544.7 378.6,547.4 376.5,550.1" fill="#6a3db0" stroke="#3a3a3a" stroke-width="0.3"/><polygon points="152.0,563.4 151.2,563.4 148.6,566.1 151.2,568.8 152.0,568.8" fill="#6a3db0" stroke="#3a3a3a" stroke-width="0.3"/><polygon points="152.6,566.1 155.0,563.4 157.4,566.1 155.0,568.8" fill="#c03ab0" stroke="#3a3a3a" stroke-width="0.3"/><polygon points="160.8,563.4 160.1,563.4 157.6,566.1 160.1,568.8 160.8,568.8" fill="#6a3db0" stroke="#3a3a3a" stroke-width="0.3"/><polygon points="162.2,564.6 164.9,564.6 164.9,563.4 167.7,566.1 164.9,568.8 164.9,567.6 162.2,567.6" fill="#6a3db0" stroke="#3a3a3a" stroke-width="0.3"/><polygon points="168.4,563.4 169.3,563.4 172.4,566.1 169.3,568.8 168.4,568.8" fill="#6a3db0" stroke="#3a3a3a" stroke-width="0.3"/><polygon points="173.0,564.6 175.2,564.6 175.2,563.4 178.0,566.1 175.2,568.8 175.2,567.6 173.0,567.6" fill="#3a8fe0" stroke="#3a3a3a" stroke-width="0.3"/><polygon points="179.0,563.4 179.7,563.4 182.0,566.1 179.7,568.8 179.0,568.8" fill="#6a3db0" stroke="#3a3a3a" stroke-width="0.3"/><polygon points="182.7,563.4 183.7,563.4 187.1,566.1 183.7,568.8 182.7,568.8" fill="#6a3db0" stroke="#3a3a3a" stroke-width="0.3"/><polygon points="188.0,563.4 188.5,563.4 190.4,566.1 188.5,568.8 188.0,568.8" fill="#6a3db0" stroke="#3a3a3a" stroke-width="0.3"/><polygon points="193.0,564.6 209.2,564.6 209.2,563.4 212.0,566.1 209.2,568.8 209.2,567.6 193.0,567.6" fill="#bdbdbd" stroke="#888" stroke-width="0.3"/><polygon points="212.4,566.1 214.5,563.4 216.6,566.1 214.5,568.8" fill="#6a3db0" stroke="#3a3a3a" stroke-width="0.3"/><polygon points="220.2,563.4 219.5,563.4 216.8,566.1 219.5,568.8 220.2,568.8" fill="#6a3db0" stroke="#3a3a3a" stroke-width="0.3"/><polygon points="220.8,566.1 222.9,563.4 225.0,566.1 222.9,568.8" fill="#6a3db0" stroke="#3a3a3a" stroke-width="0.3"/><polygon points="234.0,564.6 243.2,564.6 243.2,563.4 246.0,566.1 243.2,568.8 243.2,567.6 234.0,567.6" fill="#7a4ac0" stroke="#3a3a3a" stroke-width="0.3"/><polygon points="251.0,563.4 250.2,563.4 247.6,566.1 250.2,568.8 251.0,568.8" fill="#6a3db0" stroke="#3a3a3a" stroke-width="0.3"/><polygon points="252.4,563.4 253.1,563.4 255.6,566.1 253.1,568.8 252.4,568.8" fill="#6a3db0" stroke="#3a3a3a" stroke-width="0.3"/><polygon points="254.7,566.1 256.8,563.4 258.9,566.1 256.8,568.8" fill="#6a3db0" stroke="#3a3a3a" stroke-width="0.3"/><polygon points="258.5,566.1 260.6,563.4 262.7,566.1 260.6,568.8" fill="#6a3db0" stroke="#3a3a3a" stroke-width="0.3"/><polygon points="262.3,566.1 264.4,563.4 266.5,566.1 264.4,568.8" fill="#6a3db0" stroke="#3a3a3a" stroke-width="0.3"/><polygon points="266.8,563.4 267.8,563.4 271.2,566.1 267.8,568.8 266.8,568.8" fill="#6a3db0" stroke="#3a3a3a" stroke-width="0.3"/><polygon points="272.0,564.6 287.2,564.6 287.2,563.4 290.0,566.1 287.2,568.8 287.2,567.6 272.0,567.6" fill="#9a3fbf" stroke="#3a3a3a" stroke-width="0.3"/><polygon points="291.0,564.6 297.2,564.6 297.2,563.4 300.0,566.1 297.2,568.8 297.2,567.6 291.0,567.6" fill="#9a3fbf" stroke="#3a3a3a" stroke-width="0.3"/><polygon points="306.5,564.6 303.8,564.6 303.8,563.4 301.0,566.1 303.8,568.8 303.8,567.6 306.5,567.6" fill="#6a3db0" stroke="#3a3a3a" stroke-width="0.3"/><polygon points="307.0,566.1 309.4,563.4 311.8,566.1 309.4,568.8" fill="#6a3db0" stroke="#3a3a3a" stroke-width="0.3"/><polygon points="316.8,563.4 315.8,563.4 312.4,566.1 315.8,568.8 316.8,568.8" fill="#6a3db0" stroke="#3a3a3a" stroke-width="0.3"/><polygon points="318.3,563.4 319.3,563.4 322.7,566.1 319.3,568.8 318.3,568.8" fill="#6a3db0" stroke="#3a3a3a" stroke-width="0.3"/><polygon points="323.4,563.4 324.1,563.4 326.6,566.1 324.1,568.8 323.4,568.8" fill="#3a8fe0" stroke="#3a3a3a" stroke-width="0.3"/><polygon points="326.2,566.1 328.3,563.4 330.4,566.1 328.3,568.8" fill="#3a8fe0" stroke="#3a3a3a" stroke-width="0.3"/><polygon points="332.0,564.6 340.2,564.6 340.2,563.4 343.0,566.1 340.2,568.8 340.2,567.6 332.0,567.6" fill="#a5e24c" stroke="#3a3a3a" stroke-width="0.3"/><polygon points="344.0,564.6 346.7,564.6 346.7,563.4 349.5,566.1 346.7,568.8 346.7,567.6 344.0,567.6" fill="#6a3db0" stroke="#3a3a3a" stroke-width="0.3"/><polygon points="349.4,566.1 351.5,563.4 353.6,566.1 351.5,568.8" fill="#6a3db0" stroke="#3a3a3a" stroke-width="0.3"/><polygon points="358.0,563.4 359.0,563.4 362.4,566.1 359.0,568.8 358.0,568.8" fill="#3a8fe0" stroke="#3a3a3a" stroke-width="0.3"/><polygon points="363.0,564.6 365.2,564.6 365.2,563.4 368.0,566.1 365.2,568.8 365.2,567.6 363.0,567.6" fill="#20b8d8" stroke="#3a3a3a" stroke-width="0.3"/><polygon points="368.3,566.1 370.4,563.4 372.5,566.1 370.4,568.8" fill="#6a3db0" stroke="#3a3a3a" stroke-width="0.3"/><polygon points="375.0,564.6 378.2,564.6 378.2,563.4 381.0,566.1 378.2,568.8 378.2,567.6 375.0,567.6" fill="#bdbdbd" stroke="#888" stroke-width="0.3"/><polygon points="381.7,566.1 384.0,563.8 386.3,566.1 384.0,568.4" fill="#6a3db0" stroke="#3a3a3a" stroke-width="0.35"/><polygon points="385.7,566.1 388.0,563.8 390.3,566.1 388.0,568.4" fill="#6a3db0" stroke="#3a3a3a" stroke-width="0.35"/><polygon points="392.7,566.1 395.0,563.8 397.3,566.1 395.0,568.4" fill="#bdbdbd" stroke="#888" stroke-width="0.35"/><polygon points="398.7,566.1 401.0,563.8 403.3,566.1 401.0,568.4" fill="#bdbdbd" stroke="#888" stroke-width="0.35"/><polygon points="139.2,584.8 141.5,582.5 143.8,584.8 141.5,587.1" fill="#bdbdbd" stroke="#888" stroke-width="0.35"/><polygon points="155.0,583.2 147.8,583.2 147.8,582.1 145.0,584.8 147.8,587.5 147.8,586.3 155.0,586.3" fill="#bdbdbd" stroke="#888" stroke-width="0.3"/><polygon points="155.5,583.2 157.5,583.2 157.5,582.1 160.0,584.8 157.5,587.5 157.5,586.3 155.5,586.3" fill="#6a3db0" stroke="#3a3a3a" stroke-width="0.3"/><polygon points="161.4,584.8 163.5,582.1 165.6,584.8 163.5,587.5" fill="#6a3db0" stroke="#3a3a3a" stroke-width="0.3"/><polygon points="170.0,582.1 169.2,582.1 166.6,584.8 169.2,587.5 170.0,587.5" fill="#6a3db0" stroke="#3a3a3a" stroke-width="0.3"/><polygon points="181.0,583.2 177.8,583.2 177.8,582.1 175.0,584.8 177.8,587.5 177.8,586.3 181.0,586.3" fill="#e8e8e8" stroke="#888" stroke-width="0.3"/><polygon points="182.5,584.8 184.6,582.1 186.7,584.8 184.6,587.5" fill="#6a3db0" stroke="#3a3a3a" stroke-width="0.3"/><polygon points="186.2,584.8 188.3,582.1 190.4,584.8 188.3,587.5" fill="#6a3db0" stroke="#3a3a3a" stroke-width="0.3"/><polygon points="189.7,584.8 191.8,582.1 193.9,584.8 191.8,587.5" fill="#6a3db0" stroke="#3a3a3a" stroke-width="0.3"/><polygon points="194.4,583.2 197.1,583.2 197.1,582.1 199.9,584.8 197.1,587.5 197.1,586.3 194.4,586.3" fill="#6a3db0" stroke="#3a3a3a" stroke-width="0.3"/><polygon points="200.4,584.8 202.5,582.1 204.6,584.8 202.5,587.5" fill="#6a3db0" stroke="#3a3a3a" stroke-width="0.3"/><polygon points="208.5,582.1 207.7,582.1 204.9,584.8 207.7,587.5 208.5,587.5" fill="#6a3db0" stroke="#3a3a3a" stroke-width="0.3"/><polygon points="213.9,582.1 212.9,582.1 209.5,584.8 212.9,587.5 213.9,587.5" fill="#6a3db0" stroke="#3a3a3a" stroke-width="0.3"/><polygon points="215.1,583.2 217.8,583.2 217.8,582.1 220.6,584.8 217.8,587.5 217.8,586.3 215.1,586.3" fill="#6a3db0" stroke="#3a3a3a" stroke-width="0.3"/><polygon points="227.5,582.1 226.8,582.1 224.1,584.8 226.8,587.5 227.5,587.5" fill="#e0c020" stroke="#3a3a3a" stroke-width="0.3"/><polygon points="244.0,583.2 236.8,583.2 236.8,582.1 234.0,584.8 236.8,587.5 236.8,586.3 244.0,586.3" fill="#f5a336" stroke="#3a3a3a" stroke-width="0.3"/><polygon points="245.6,584.8 247.8,582.1 249.9,584.8 247.8,587.5" fill="#6a3db0" stroke="#3a3a3a" stroke-width="0.3"/><polygon points="251.0,583.2 254.2,583.2 254.2,582.1 257.0,584.8 254.2,587.5 254.2,586.3 251.0,586.3" fill="#f5a336" stroke="#3a3a3a" stroke-width="0.3"/><polygon points="257.2,584.8 259.5,582.5 261.8,584.8 259.5,587.1" fill="#b040c0" stroke="#3a3a3a" stroke-width="0.35"/><polygon points="264.0,583.2 268.2,583.2 268.2,582.1 271.0,584.8 268.2,587.5 268.2,586.3 264.0,586.3" fill="#f5a336" stroke="#3a3a3a" stroke-width="0.3"/><polygon points="273.0,583.2 286.2,583.2 286.2,582.1 289.0,584.8 286.2,587.5 286.2,586.3 273.0,586.3" fill="#9a3fbf" stroke="#3a3a3a" stroke-width="0.3"/><polygon points="290.0,583.2 295.2,583.2 295.2,582.1 298.0,584.8 295.2,587.5 295.2,586.3 290.0,586.3" fill="#9a3fbf" stroke="#3a3a3a" stroke-width="0.3"/><polygon points="299.4,584.8 301.5,582.1 303.6,584.8 301.5,587.5" fill="#6a3db0" stroke="#3a3a3a" stroke-width="0.3"/><polygon points="305.4,584.8 307.5,582.1 309.6,584.8 307.5,587.5" fill="#6a3db0" stroke="#3a3a3a" stroke-width="0.3"/><polygon points="310.5,582.1 311.2,582.1 313.9,584.8 311.2,587.5 310.5,587.5" fill="#6a3db0" stroke="#3a3a3a" stroke-width="0.3"/><polygon points="314.4,584.8 316.5,582.1 318.6,584.8 316.5,587.5" fill="#6a3db0" stroke="#3a3a3a" stroke-width="0.3"/><polygon points="317.9,584.8 320.0,582.1 322.1,584.8 320.0,587.5" fill="#6a3db0" stroke="#3a3a3a" stroke-width="0.3"/><polygon points="323.2,584.8 325.5,582.5 327.8,584.8 325.5,587.1" fill="#f47a45" stroke="#3a3a3a" stroke-width="0.35"/><polygon points="328.0,582.1 329.0,582.1 332.4,584.8 329.0,587.5 328.0,587.5" fill="#6a3db0" stroke="#3a3a3a" stroke-width="0.3"/><polygon points="332.4,584.8 334.5,582.1 336.6,584.8 334.5,587.5" fill="#6a3db0" stroke="#3a3a3a" stroke-width="0.3"/><polygon points="343.0,583.2 339.3,583.2 339.3,582.1 336.5,584.8 339.3,587.5 339.3,586.3 343.0,586.3" fill="#f47a45" stroke="#3a3a3a" stroke-width="0.3"/><polygon points="347.0,582.1 346.2,582.1 343.6,584.8 346.2,587.5 347.0,587.5" fill="#6a3db0" stroke="#3a3a3a" stroke-width="0.3"/><polygon points="347.4,584.8 349.5,582.1 351.6,584.8 349.5,587.5" fill="#d0364a" stroke="#3a3a3a" stroke-width="0.3"/><polygon points="370.0,583.2 354.8,583.2 354.8,582.1 352.0,584.8 354.8,587.5 354.8,586.3 370.0,586.3" fill="#f2447e" stroke="#3a3a3a" stroke-width="0.3"/><polygon points="378.0,583.2 375.8,583.2 375.8,582.1 373.0,584.8 375.8,587.5 375.8,586.3 378.0,586.3" fill="#6a3db0" stroke="#3a3a3a" stroke-width="0.3"/><polygon points="388.5,583.2 383.8,583.2 383.8,582.1 381.0,584.8 383.8,587.5 383.8,586.3 388.5,586.3" fill="#f2447e" stroke="#3a3a3a" stroke-width="0.3"/><polygon points="389.2,584.8 391.5,582.5 393.8,584.8 391.5,587.1" fill="#f2447e" stroke="#3a3a3a" stroke-width="0.35"/><polygon points="393.2,584.8 395.5,582.5 397.8,584.8 395.5,587.1" fill="#6a3db0" stroke="#3a3a3a" stroke-width="0.35"/><polygon points="398.0,582.1 398.8,582.1 401.4,584.8 398.8,587.5 398.0,587.5" fill="#b040c0" stroke="#3a3a3a" stroke-width="0.3"/><polygon points="401.5,582.1 402.1,582.1 404.4,584.8 402.1,587.5 401.5,587.5" fill="#6a3db0" stroke="#3a3a3a" stroke-width="0.3"/><polygon points="227.5,600.3 226.8,600.3 224.1,603.0 226.8,605.7 227.5,605.7" fill="#e0c020" stroke="#3a3a3a" stroke-width="0.3"/><polygon points="244.0,601.5 236.8,601.5 236.8,600.3 234.0,603.0 236.8,605.7 236.8,604.5 244.0,604.5" fill="#f5a336" stroke="#3a3a3a" stroke-width="0.3"/><polygon points="245.6,603.0 247.8,600.3 249.9,603.0 247.8,605.7" fill="#6a3db0" stroke="#3a3a3a" stroke-width="0.3"/><polygon points="251.0,601.5 254.2,601.5 254.2,600.3 257.0,603.0 254.2,605.7 254.2,604.5 251.0,604.5" fill="#f5a336" stroke="#3a3a3a" stroke-width="0.3"/><polygon points="257.2,603.0 259.5,600.7 261.8,603.0 259.5,605.3" fill="#b040c0" stroke="#3a3a3a" stroke-width="0.35"/><polygon points="264.0,601.5 268.2,601.5 268.2,600.3 271.0,603.0 268.2,605.7 268.2,604.5 264.0,604.5" fill="#f5a336" stroke="#3a3a3a" stroke-width="0.3"/><polygon points="273.0,601.5 286.2,601.5 286.2,600.3 289.0,603.0 286.2,605.7 286.2,604.5 273.0,604.5" fill="#9a3fbf" stroke="#3a3a3a" stroke-width="0.3"/><polygon points="290.0,601.5 295.2,601.5 295.2,600.3 298.0,603.0 295.2,605.7 295.2,604.5 290.0,604.5" fill="#9a3fbf" stroke="#3a3a3a" stroke-width="0.3"/><polygon points="299.4,603.0 301.5,600.3 303.6,603.0 301.5,605.7" fill="#6a3db0" stroke="#3a3a3a" stroke-width="0.3"/><polygon points="305.4,603.0 307.5,600.3 309.6,603.0 307.5,605.7" fill="#6a3db0" stroke="#3a3a3a" stroke-width="0.3"/><polygon points="310.5,600.3 311.2,600.3 313.9,603.0 311.2,605.7 310.5,605.7" fill="#6a3db0" stroke="#3a3a3a" stroke-width="0.3"/><polygon points="314.4,603.0 316.5,600.3 318.6,603.0 316.5,605.7" fill="#6a3db0" stroke="#3a3a3a" stroke-width="0.3"/><polygon points="317.9,603.0 320.0,600.3 322.1,603.0 320.0,605.7" fill="#6a3db0" stroke="#3a3a3a" stroke-width="0.3"/><polygon points="323.2,603.0 325.5,600.7 327.8,603.0 325.5,605.3" fill="#f47a45" stroke="#3a3a3a" stroke-width="0.35"/><polygon points="328.0,600.3 329.0,600.3 332.4,603.0 329.0,605.7 328.0,605.7" fill="#6a3db0" stroke="#3a3a3a" stroke-width="0.3"/><polygon points="332.4,603.0 334.5,600.3 336.6,603.0 334.5,605.7" fill="#6a3db0" stroke="#3a3a3a" stroke-width="0.3"/><polygon points="343.0,601.5 339.3,601.5 339.3,600.3 336.5,603.0 339.3,605.7 339.3,604.5 343.0,604.5" fill="#f47a45" stroke="#3a3a3a" stroke-width="0.3"/><polygon points="347.0,600.3 346.2,600.3 343.6,603.0 346.2,605.7 347.0,605.7" fill="#6a3db0" stroke="#3a3a3a" stroke-width="0.3"/><polygon points="347.4,603.0 349.5,600.3 351.6,603.0 349.5,605.7" fill="#d0364a" stroke="#3a3a3a" stroke-width="0.3"/><polygon points="370.0,601.5 354.8,601.5 354.8,600.3 352.0,603.0 354.8,605.7 354.8,604.5 370.0,604.5" fill="#f2447e" stroke="#3a3a3a" stroke-width="0.3"/><polygon points="378.0,601.5 375.8,601.5 375.8,600.3 373.0,603.0 375.8,605.7 375.8,604.5 378.0,604.5" fill="#6a3db0" stroke="#3a3a3a" stroke-width="0.3"/><polygon points="388.5,601.5 383.8,601.5 383.8,600.3 381.0,603.0 383.8,605.7 383.8,604.5 388.5,604.5" fill="#f2447e" stroke="#3a3a3a" stroke-width="0.3"/><polygon points="389.2,603.0 391.5,600.7 393.8,603.0 391.5,605.3" fill="#f2447e" stroke="#3a3a3a" stroke-width="0.35"/><polygon points="393.2,603.0 395.5,600.7 397.8,603.0 395.5,605.3" fill="#6a3db0" stroke="#3a3a3a" stroke-width="0.35"/><polygon points="398.0,600.3 398.8,600.3 401.4,603.0 398.8,605.7 398.0,605.7" fill="#b040c0" stroke="#3a3a3a" stroke-width="0.3"/><polygon points="401.5,600.3 402.1,600.3 404.4,603.0 402.1,605.7 401.5,605.7" fill="#6a3db0" stroke="#3a3a3a" stroke-width="0.3"/><polygon points="406.2,603.0 408.5,600.7 410.8,603.0 408.5,605.3" fill="#c9d93c" stroke="#3a3a3a" stroke-width="0.35"/><polygon points="227.5,618.7 226.8,618.7 224.1,621.4 226.8,624.1 227.5,624.1" fill="#e0c020" stroke="#3a3a3a" stroke-width="0.3"/><polygon points="244.0,619.9 236.8,619.9 236.8,618.7 234.0,621.4 236.8,624.1 236.8,622.9 244.0,622.9" fill="#f5a336" stroke="#3a3a3a" stroke-width="0.3"/><polygon points="245.6,621.4 247.8,618.7 249.9,621.4 247.8,624.1" fill="#6a3db0" stroke="#3a3a3a" stroke-width="0.3"/><polygon points="251.0,619.9 254.2,619.9 254.2,618.7 257.0,621.4 254.2,624.1 254.2,622.9 251.0,622.9" fill="#f5a336" stroke="#3a3a3a" stroke-width="0.3"/><polygon points="257.2,621.4 259.5,619.1 261.8,621.4 259.5,623.7" fill="#b040c0" stroke="#3a3a3a" stroke-width="0.35"/><polygon points="264.0,619.9 268.2,619.9 268.2,618.7 271.0,621.4 268.2,624.1 268.2,622.9 264.0,622.9" fill="#f5a336" stroke="#3a3a3a" stroke-width="0.3"/><polygon points="273.0,619.9 286.2,619.9 286.2,618.7 289.0,621.4 286.2,624.1 286.2,622.9 273.0,622.9" fill="#9a3fbf" stroke="#3a3a3a" stroke-width="0.3"/><polygon points="290.0,619.9 295.2,619.9 295.2,618.7 298.0,621.4 295.2,624.1 295.2,622.9 290.0,622.9" fill="#9a3fbf" stroke="#3a3a3a" stroke-width="0.3"/><polygon points="299.4,621.4 301.5,618.7 303.6,621.4 301.5,624.1" fill="#6a3db0" stroke="#3a3a3a" stroke-width="0.3"/><polygon points="305.4,621.4 307.5,618.7 309.6,621.4 307.5,624.1" fill="#6a3db0" stroke="#3a3a3a" stroke-width="0.3"/><polygon points="310.5,618.7 311.2,618.7 313.9,621.4 311.2,624.1 310.5,624.1" fill="#6a3db0" stroke="#3a3a3a" stroke-width="0.3"/><polygon points="314.4,621.4 316.5,618.7 318.6,621.4 316.5,624.1" fill="#6a3db0" stroke="#3a3a3a" stroke-width="0.3"/><polygon points="317.9,621.4 320.0,618.7 322.1,621.4 320.0,624.1" fill="#6a3db0" stroke="#3a3a3a" stroke-width="0.3"/><polygon points="323.2,621.4 325.5,619.1 327.8,621.4 325.5,623.7" fill="#f47a45" stroke="#3a3a3a" stroke-width="0.35"/><polygon points="328.0,618.7 329.0,618.7 332.4,621.4 329.0,624.1 328.0,624.1" fill="#6a3db0" stroke="#3a3a3a" stroke-width="0.3"/><polygon points="332.4,621.4 334.5,618.7 336.6,621.4 334.5,624.1" fill="#6a3db0" stroke="#3a3a3a" stroke-width="0.3"/><polygon points="343.0,619.9 339.3,619.9 339.3,618.7 336.5,621.4 339.3,624.1 339.3,622.9 343.0,622.9" fill="#f47a45" stroke="#3a3a3a" stroke-width="0.3"/><polygon points="347.0,618.7 346.2,618.7 343.6,621.4 346.2,624.1 347.0,624.1" fill="#6a3db0" stroke="#3a3a3a" stroke-width="0.3"/><polygon points="347.4,621.4 349.5,618.7 351.6,621.4 349.5,624.1" fill="#d0364a" stroke="#3a3a3a" stroke-width="0.3"/><polygon points="370.0,619.9 354.8,619.9 354.8,618.7 352.0,621.4 354.8,624.1 354.8,622.9 370.0,622.9" fill="#f2447e" stroke="#3a3a3a" stroke-width="0.3"/><polygon points="378.0,619.9 375.8,619.9 375.8,618.7 373.0,621.4 375.8,624.1 375.8,622.9 378.0,622.9" fill="#6a3db0" stroke="#3a3a3a" stroke-width="0.3"/><polygon points="388.5,619.9 383.8,619.9 383.8,618.7 381.0,621.4 383.8,624.1 383.8,622.9 388.5,622.9" fill="#f2447e" stroke="#3a3a3a" stroke-width="0.3"/><polygon points="389.2,621.4 391.5,619.1 393.8,621.4 391.5,623.7" fill="#f2447e" stroke="#3a3a3a" stroke-width="0.35"/><polygon points="393.2,621.4 395.5,619.1 397.8,621.4 395.5,623.7" fill="#6a3db0" stroke="#3a3a3a" stroke-width="0.35"/><polygon points="398.0,618.7 398.8,618.7 401.4,621.4 398.8,624.1 398.0,624.1" fill="#b040c0" stroke="#3a3a3a" stroke-width="0.3"/><polygon points="401.5,618.7 402.1,618.7 404.4,621.4 402.1,624.1 401.5,624.1" fill="#6a3db0" stroke="#3a3a3a" stroke-width="0.3"/><polygon points="406.2,621.4 408.5,619.1 410.8,621.4 408.5,623.7" fill="#c9d93c" stroke="#3a3a3a" stroke-width="0.35"/><polygon points="227.5,637.3 226.8,637.3 224.1,640.0 226.8,642.7 227.5,642.7" fill="#e0c020" stroke="#3a3a3a" stroke-width="0.3"/><polygon points="244.0,638.5 236.8,638.5 236.8,637.3 234.0,640.0 236.8,642.7 236.8,641.5 244.0,641.5" fill="#f5a336" stroke="#3a3a3a" stroke-width="0.3"/><polygon points="245.6,640.0 247.8,637.3 249.9,640.0 247.8,642.7" fill="#6a3db0" stroke="#3a3a3a" stroke-width="0.3"/><polygon points="251.0,638.5 254.2,638.5 254.2,637.3 257.0,640.0 254.2,642.7 254.2,641.5 251.0,641.5" fill="#f5a336" stroke="#3a3a3a" stroke-width="0.3"/><polygon points="257.2,640.0 259.5,637.7 261.8,640.0 259.5,642.3" fill="#b040c0" stroke="#3a3a3a" stroke-width="0.35"/><polygon points="264.0,638.5 268.2,638.5 268.2,637.3 271.0,640.0 268.2,642.7 268.2,641.5 264.0,641.5" fill="#f5a336" stroke="#3a3a3a" stroke-width="0.3"/><polygon points="273.0,638.5 286.2,638.5 286.2,637.3 289.0,640.0 286.2,642.7 286.2,641.5 273.0,641.5" fill="#9a3fbf" stroke="#3a3a3a" stroke-width="0.3"/><polygon points="290.0,638.5 295.2,638.5 295.2,637.3 298.0,640.0 295.2,642.7 295.2,641.5 290.0,641.5" fill="#9a3fbf" stroke="#3a3a3a" stroke-width="0.3"/><polygon points="299.4,640.0 301.5,637.3 303.6,640.0 301.5,642.7" fill="#6a3db0" stroke="#3a3a3a" stroke-width="0.3"/><polygon points="305.4,640.0 307.5,637.3 309.6,640.0 307.5,642.7" fill="#6a3db0" stroke="#3a3a3a" stroke-width="0.3"/><polygon points="310.5,637.3 311.2,637.3 313.9,640.0 311.2,642.7 310.5,642.7" fill="#6a3db0" stroke="#3a3a3a" stroke-width="0.3"/><polygon points="314.4,640.0 316.5,637.3 318.6,640.0 316.5,642.7" fill="#6a3db0" stroke="#3a3a3a" stroke-width="0.3"/><polygon points="317.9,640.0 320.0,637.3 322.1,640.0 320.0,642.7" fill="#6a3db0" stroke="#3a3a3a" stroke-width="0.3"/><polygon points="323.2,640.0 325.5,637.7 327.8,640.0 325.5,642.3" fill="#f47a45" stroke="#3a3a3a" stroke-width="0.35"/><polygon points="328.0,637.3 329.0,637.3 332.4,640.0 329.0,642.7 328.0,642.7" fill="#6a3db0" stroke="#3a3a3a" stroke-width="0.3"/><polygon points="332.4,640.0 334.5,637.3 336.6,640.0 334.5,642.7" fill="#6a3db0" stroke="#3a3a3a" stroke-width="0.3"/><polygon points="343.0,638.5 339.3,638.5 339.3,637.3 336.5,640.0 339.3,642.7 339.3,641.5 343.0,641.5" fill="#f47a45" stroke="#3a3a3a" stroke-width="0.3"/><polygon points="347.0,637.3 346.2,637.3 343.6,640.0 346.2,642.7 347.0,642.7" fill="#6a3db0" stroke="#3a3a3a" stroke-width="0.3"/><polygon points="347.4,640.0 349.5,637.3 351.6,640.0 349.5,642.7" fill="#d0364a" stroke="#3a3a3a" stroke-width="0.3"/><polygon points="370.0,638.5 354.8,638.5 354.8,637.3 352.0,640.0 354.8,642.7 354.8,641.5 370.0,641.5" fill="#f2447e" stroke="#3a3a3a" stroke-width="0.3"/><polygon points="378.0,638.5 375.8,638.5 375.8,637.3 373.0,640.0 375.8,642.7 375.8,641.5 378.0,641.5" fill="#6a3db0" stroke="#3a3a3a" stroke-width="0.3"/><polygon points="388.5,638.5 383.8,638.5 383.8,637.3 381.0,640.0 383.8,642.7 383.8,641.5 388.5,641.5" fill="#f2447e" stroke="#3a3a3a" stroke-width="0.3"/><polygon points="389.2,640.0 391.5,637.7 393.8,640.0 391.5,642.3" fill="#f2447e" stroke="#3a3a3a" stroke-width="0.35"/><polygon points="393.2,640.0 395.5,637.7 397.8,640.0 395.5,642.3" fill="#6a3db0" stroke="#3a3a3a" stroke-width="0.35"/><polygon points="398.0,637.3 398.8,637.3 401.4,640.0 398.8,642.7 398.0,642.7" fill="#b040c0" stroke="#3a3a3a" stroke-width="0.3"/><polygon points="401.5,637.3 402.1,637.3 404.4,640.0 402.1,642.7 401.5,642.7" fill="#6a3db0" stroke="#3a3a3a" stroke-width="0.3"/><polygon points="406.2,640.0 408.5,637.7 410.8,640.0 408.5,642.3" fill="#c9d93c" stroke="#3a3a3a" stroke-width="0.35"/><polygon points="183.7,603.0 186.0,600.7 188.3,603.0 186.0,605.3" fill="#bdbdbd" stroke="#888" stroke-width="0.35"/><polygon points="188.6,603.0 191.0,600.3 193.4,603.0 191.0,605.7" fill="#6a3db0" stroke="#3a3a3a" stroke-width="0.3"/><polygon points="193.4,603.0 195.5,600.3 197.6,603.0 195.5,605.7" fill="#6a3db0" stroke="#3a3a3a" stroke-width="0.3"/><polygon points="198.2,600.3 198.9,600.3 201.4,603.0 198.9,605.7 198.2,605.7" fill="#6a3db0" stroke="#3a3a3a" stroke-width="0.3"/><polygon points="207.5,601.5 204.8,601.5 204.8,600.3 202.0,603.0 204.8,605.7 204.8,604.5 207.5,604.5" fill="#6a3db0" stroke="#3a3a3a" stroke-width="0.3"/><polygon points="207.6,603.0 209.7,600.3 211.8,603.0 209.7,605.7" fill="#6a3db0" stroke="#3a3a3a" stroke-width="0.3"/><polygon points="210.9,603.0 213.0,600.3 215.1,603.0 213.0,605.7" fill="#6a3db0" stroke="#3a3a3a" stroke-width="0.3"/><polygon points="215.5,618.7 216.2,618.7 218.9,621.4 216.2,624.1 215.5,624.1" fill="#6a3db0" stroke="#3a3a3a" stroke-width="0.3"/><polygon points="218.4,621.4 220.5,618.7 222.6,621.4 220.5,624.1" fill="#6a3db0" stroke="#3a3a3a" stroke-width="0.3"/></g>
<text x="240.2" y="664.5" transform="rotate(-90 240.2 664.5)" font-size="8.3" fill="#222">AbiEI</text>
<text x="247.1" y="664.5" transform="rotate(-90 247.1 664.5)" font-size="8.3" fill="#222">AbiEII</text>
<text x="254.4" y="664.5" transform="rotate(-90 254.4 664.5)" font-size="8.3" font-style="italic" fill="#222">sngA</text>
<text x="261.7" y="664.5" transform="rotate(-90 261.7 664.5)" font-size="8.3" font-style="italic" fill="#222">sngB</text>
<text x="270.4" y="664.5" transform="rotate(-90 270.4 664.5)" font-size="8.3" font-style="italic" fill="#222">sngC</text>
<text x="281.8" y="664.5" transform="rotate(-90 281.8 664.5)" font-size="8.3" font-style="italic" fill="#222">apsA</text>
<text x="294.5" y="664.5" transform="rotate(-90 294.5 664.5)" font-size="8.3" font-style="italic" fill="#222">apsB</text>
<line x1="63.1" y1="651.9" x2="73.6" y2="651.9" stroke="#333" stroke-width="0.8"/>
<line x1="63.3" y1="650.4" x2="63.3" y2="653.4" stroke="#333" stroke-width="0.7"/>
<line x1="73.4" y1="650.4" x2="73.4" y2="653.4" stroke="#333" stroke-width="0.7"/>
<text x="57.3" y="661.0" font-size="8.1" textLength="19.7" lengthAdjust="spacingAndGlyphs" fill="#000" stroke="#000" stroke-width="0.1">2.5kb</text>
<defs><linearGradient id="cg1" x1="0" x2="0" y1="0" y2="1"><stop offset="0" stop-color="#8c8c8c"/><stop offset="0.55" stop-color="#6a6a6a"/><stop offset="1" stop-color="#2a2a2a"/></linearGradient></defs>
<defs><linearGradient id="idg" x1="0" x2="1" y1="0" y2="0"><stop offset="0" stop-color="#fff"/><stop offset="1" stop-color="#000"/></linearGradient></defs>
<rect x="85.0" y="650.6" width="49" height="7.7" fill="url(#idg)" stroke="#777" stroke-width="0.4"/>
<text x="85.0" y="665.4" font-size="8.0" textLength="60.6" lengthAdjust="spacingAndGlyphs" fill="#000" stroke="#000" stroke-width="0.1">0 Identity (%) 100</text>
<text x="442.6" y="420.6" font-size="11" font-weight="bold" fill="#000">c</text>
<rect x="466.4" y="416.2" width="204" height="21.6" fill="#fff" stroke="#777" stroke-width="0.9"/>
<text x="568.2" y="430.6" font-size="9.4" text-anchor="middle" fill="#111">MG1655</text>
<rect x="466.4" y="437.6" width="204" height="148.3" fill="none" stroke="#111" stroke-width="1.1"/>
<line x1="462.6" y1="437.4" x2="466.4" y2="437.4" stroke="#111" stroke-width="0.8"/>
<text x="441.8" y="439.7" font-size="8.4" text-anchor="end" fill="#333">3</text>
<line x1="462.6" y1="474.6" x2="466.4" y2="474.6" stroke="#111" stroke-width="0.8"/>
<text x="441.8" y="476.9" font-size="8.4" text-anchor="end" fill="#333">2</text>
<line x1="462.6" y1="511.8" x2="466.4" y2="511.8" stroke="#111" stroke-width="0.8"/>
<text x="441.8" y="514.1" font-size="8.4" text-anchor="end" fill="#333">1</text>
<line x1="462.6" y1="549.0" x2="466.4" y2="549.0" stroke="#111" stroke-width="0.8"/>
<text x="441.8" y="551.3" font-size="8.4" text-anchor="end" fill="#333">0</text>
<line x1="462.6" y1="586.2" x2="466.4" y2="586.2" stroke="#111" stroke-width="0.8"/>
<text x="441.8" y="588.5" font-size="8.4" text-anchor="end" fill="#333">-1</text>
<line x1="495.4" y1="585.9" x2="495.4" y2="589.6" stroke="#111" stroke-width="0.8"/>
<line x1="543.8" y1="585.9" x2="543.8" y2="589.6" stroke="#111" stroke-width="0.8"/>
<line x1="592.3" y1="585.9" x2="592.3" y2="589.6" stroke="#111" stroke-width="0.8"/>
<line x1="640.8" y1="585.9" x2="640.8" y2="589.6" stroke="#111" stroke-width="0.8"/>
<text x="431.3" y="509.8" transform="rotate(-90 431.3 509.8)" font-size="9.6" font-weight="bold" text-anchor="middle" fill="#111">Log10 pBbE8c copy number</text>
<rect x="471.8" y="484.3" width="23.0" height="6.3" fill="#5f5f5f" stroke="#1a1a1a" stroke-width="0.9"/><line x1="471.8" y1="489.4" x2="494.8" y2="489.4" stroke="#1a1a1a" stroke-width="1.2"/>
<circle cx="483.3" cy="481.4" r="2.4" fill="#a9a9a9" stroke="#1a1a1a" stroke-width="0.8"/>
<circle cx="480.9" cy="489.9" r="2.4" fill="#a9a9a9" stroke="#1a1a1a" stroke-width="0.8"/>
<circle cx="485.4" cy="489.9" r="2.4" fill="#a9a9a9" stroke="#1a1a1a" stroke-width="0.8"/>
<line x1="507.4" y1="456.5" x2="507.4" y2="465.8" stroke="#1a1a1a" stroke-width="0.9"/>
<rect x="496.2" y="465.8" width="22.4" height="11.2" fill="#4470b0" stroke="#1a1a1a" stroke-width="0.9"/><line x1="496.2" y1="476.0" x2="518.6" y2="476.0" stroke="#1a1a1a" stroke-width="1.2"/>
<circle cx="507.4" cy="456.3" r="2.4" fill="#4a78c0" stroke="#1a1a1a" stroke-width="0.8"/>
<circle cx="505.3" cy="476.1" r="2.4" fill="#4a78c0" stroke="#1a1a1a" stroke-width="0.8"/>
<circle cx="509.4" cy="476.1" r="2.4" fill="#4a78c0" stroke="#1a1a1a" stroke-width="0.8"/>
<rect x="520.6" y="484.0" width="22.6" height="3.0" fill="#5f5f5f" stroke="#1a1a1a" stroke-width="0.9"/>
<circle cx="527.4" cy="485.5" r="2.4" fill="#a9a9a9" stroke="#1a1a1a" stroke-width="0.8"/>
<circle cx="531.5" cy="485.5" r="2.4" fill="#a9a9a9" stroke="#1a1a1a" stroke-width="0.8"/>
<circle cx="535.5" cy="485.5" r="2.4" fill="#a9a9a9" stroke="#1a1a1a" stroke-width="0.8"/>
<rect x="544.6" y="536.2" width="23.2" height="2.8" fill="#36507a" stroke="#1a1a1a" stroke-width="0.9"/>
<circle cx="550.8" cy="537.6" r="2.4" fill="#4a78c0" stroke="#1a1a1a" stroke-width="0.8"/>
<circle cx="555.2" cy="537.6" r="2.4" fill="#4a78c0" stroke="#1a1a1a" stroke-width="0.8"/>
<circle cx="559.6" cy="537.6" r="2.4" fill="#4a78c0" stroke="#1a1a1a" stroke-width="0.8"/>
<rect x="569.1" y="486.6" width="22.3" height="2.8" fill="#5f5f5f" stroke="#1a1a1a" stroke-width="0.9"/>
<circle cx="576.4" cy="488.0" r="2.4" fill="#a9a9a9" stroke="#1a1a1a" stroke-width="0.8"/>
<circle cx="580.0" cy="488.0" r="2.4" fill="#a9a9a9" stroke="#1a1a1a" stroke-width="0.8"/>
<circle cx="583.7" cy="488.0" r="2.4" fill="#a9a9a9" stroke="#1a1a1a" stroke-width="0.8"/>
<rect x="593.0" y="559.3" width="22.4" height="2.7" fill="#36507a" stroke="#1a1a1a" stroke-width="0.9"/>
<circle cx="600.2" cy="560.6" r="2.4" fill="#4a78c0" stroke="#1a1a1a" stroke-width="0.8"/>
<circle cx="604.3" cy="560.6" r="2.4" fill="#4a78c0" stroke="#1a1a1a" stroke-width="0.8"/>
<circle cx="608.4" cy="560.6" r="2.4" fill="#4a78c0" stroke="#1a1a1a" stroke-width="0.8"/>
<rect x="617.5" y="486.2" width="22.8" height="4.4" fill="#5f5f5f" stroke="#1a1a1a" stroke-width="0.9"/>
<circle cx="629.0" cy="483.8" r="2.4" fill="#a9a9a9" stroke="#1a1a1a" stroke-width="0.8"/>
<circle cx="626.6" cy="489.9" r="2.4" fill="#a9a9a9" stroke="#1a1a1a" stroke-width="0.8"/>
<circle cx="631.2" cy="489.9" r="2.4" fill="#a9a9a9" stroke="#1a1a1a" stroke-width="0.8"/>
<rect x="642.1" y="507.0" width="22.5" height="4.2" fill="#36507a" stroke="#1a1a1a" stroke-width="0.9"/>
<circle cx="651.2" cy="507.6" r="2.4" fill="#4a78c0" stroke="#1a1a1a" stroke-width="0.8"/>
<circle cx="655.3" cy="507.6" r="2.4" fill="#4a78c0" stroke="#1a1a1a" stroke-width="0.8"/>
<circle cx="653.0" cy="514.0" r="2.4" fill="#4a78c0" stroke="#1a1a1a" stroke-width="0.8"/>
<path d="M482.6,451.6V450.1H507.9V451.6" stroke="#2a2a2a" stroke-width="0.85" fill="none"/><polygon points="491.25,443.85 491.87,445.25 493.39,445.40 492.25,446.42 492.57,447.92 491.25,447.15 489.93,447.92 490.25,446.42 489.11,445.40 490.63,445.25" fill="#111"/><polygon points="495.25,443.85 495.87,445.25 497.39,445.40 496.25,446.42 496.57,447.92 495.25,447.15 493.93,447.92 494.25,446.42 493.11,445.40 494.63,445.25" fill="#111"/><polygon points="499.25,443.85 499.87,445.25 501.39,445.40 500.25,446.42 500.57,447.92 499.25,447.15 497.93,447.92 498.25,446.42 497.11,445.40 498.63,445.25" fill="#111"/>
<path d="M531.6,478.8V477.3H556.6V478.8" stroke="#2a2a2a" stroke-width="0.85" fill="none"/><polygon points="538.10,471.05 538.72,472.45 540.24,472.60 539.10,473.62 539.42,475.12 538.10,474.35 536.78,475.12 537.10,473.62 535.96,472.60 537.48,472.45" fill="#111"/><polygon points="542.10,471.05 542.72,472.45 544.24,472.60 543.10,473.62 543.42,475.12 542.10,474.35 540.78,475.12 541.10,473.62 539.96,472.60 541.48,472.45" fill="#111"/><polygon points="546.10,471.05 546.72,472.45 548.24,472.60 547.10,473.62 547.42,475.12 546.10,474.35 544.78,475.12 545.10,473.62 543.96,472.60 545.48,472.45" fill="#111"/><polygon points="550.10,471.05 550.72,472.45 552.24,472.60 551.10,473.62 551.42,475.12 550.10,474.35 548.78,475.12 549.10,473.62 547.96,472.60 549.48,472.45" fill="#111"/>
<path d="M580.0,480.7V479.2H605.5V480.7" stroke="#2a2a2a" stroke-width="0.85" fill="none"/><polygon points="586.75,472.95 587.37,474.35 588.89,474.50 587.75,475.52 588.07,477.02 586.75,476.25 585.43,477.02 585.75,475.52 584.61,474.50 586.13,474.35" fill="#111"/><polygon points="590.75,472.95 591.37,474.35 592.89,474.50 591.75,475.52 592.07,477.02 590.75,476.25 589.43,477.02 589.75,475.52 588.61,474.50 590.13,474.35" fill="#111"/><polygon points="594.75,472.95 595.37,474.35 596.89,474.50 595.75,475.52 596.07,477.02 594.75,476.25 593.43,477.02 593.75,475.52 592.61,474.50 594.13,474.35" fill="#111"/><polygon points="598.75,472.95 599.37,474.35 600.89,474.50 599.75,475.52 600.07,477.02 598.75,476.25 597.43,477.02 597.75,475.52 596.61,474.50 598.13,474.35" fill="#111"/>
<path d="M628.4,478.5V477.0H653.8V478.5" stroke="#2a2a2a" stroke-width="0.85" fill="none"/><polygon points="635.10,470.75 635.72,472.15 637.24,472.30 636.10,473.32 636.42,474.82 635.10,474.05 633.78,474.82 634.10,473.32 632.96,472.30 634.48,472.15" fill="#111"/><polygon points="639.10,470.75 639.72,472.15 641.24,472.30 640.10,473.32 640.42,474.82 639.10,474.05 637.78,474.82 638.10,473.32 636.96,472.30 638.48,472.15" fill="#111"/><polygon points="643.10,470.75 643.72,472.15 645.24,472.30 644.10,473.32 644.42,474.82 643.10,474.05 641.78,474.82 642.10,473.32 640.96,472.30 642.48,472.15" fill="#111"/><polygon points="647.10,470.75 647.72,472.15 649.24,472.30 648.10,473.32 648.42,474.82 647.10,474.05 645.78,474.82 646.10,473.32 644.96,472.30 646.48,472.15" fill="#111"/>
<text x="500.4" y="602.0" transform="rotate(-41 500.4 602.0)" text-anchor="end" font-size="9.6" fill="#111">Tn<tspan font-style="italic">zeoR</tspan></text>
<text x="548.5" y="601.0" transform="rotate(-41 548.5 601.0)" text-anchor="end" font-size="9.6" fill="#111">Tn<tspan font-style="italic">apsAB</tspan></text>
<text x="595.5" y="598.5" transform="rotate(-42 595.5 598.5)" text-anchor="end" font-size="9.6" fill="#111">Tn<tspan font-style="italic">apsAB</tspan><tspan font-size="6.3" dy="1.5">CNR36C9 (90% id)</tspan></text>
<text x="644.2" y="598.5" transform="rotate(-42 644.2 598.5)" text-anchor="end" font-size="9.6" fill="#111">Tn<tspan font-style="italic">apsAB</tspan><tspan font-size="6.3" dy="1.5">CNR81D10 (25% id)</tspan></text>
<text x="623.3" y="635.3" font-size="9.6" font-weight="bold" fill="#111">Induction</text>
<line x1="627.8" y1="641.2" x2="627.8" y2="651.8" stroke="#333" stroke-width="0.7"/>
<rect x="623.2" y="643.0" width="9.2" height="7" fill="#8a8a8a" stroke="#333" stroke-width="0.7"/>
<circle cx="627.8" cy="646.5" r="2.3" fill="#b0b0b0" stroke="#222" stroke-width="0.6"/>
<text x="636.4" y="649.1" font-size="9.4" fill="#111">t0</text>
<line x1="627.8" y1="654.0" x2="627.8" y2="664.5999999999999" stroke="#333" stroke-width="0.7"/>
<rect x="623.2" y="655.8" width="9.2" height="7" fill="#3f6ab0" stroke="#333" stroke-width="0.7"/>
<circle cx="627.8" cy="659.3" r="2.3" fill="#4a78c0" stroke="#222" stroke-width="0.6"/>
<text x="636.4" y="661.9" font-size="9.4" fill="#111">t1 Ara 0.2%</text>
</svg>
</body></html>
